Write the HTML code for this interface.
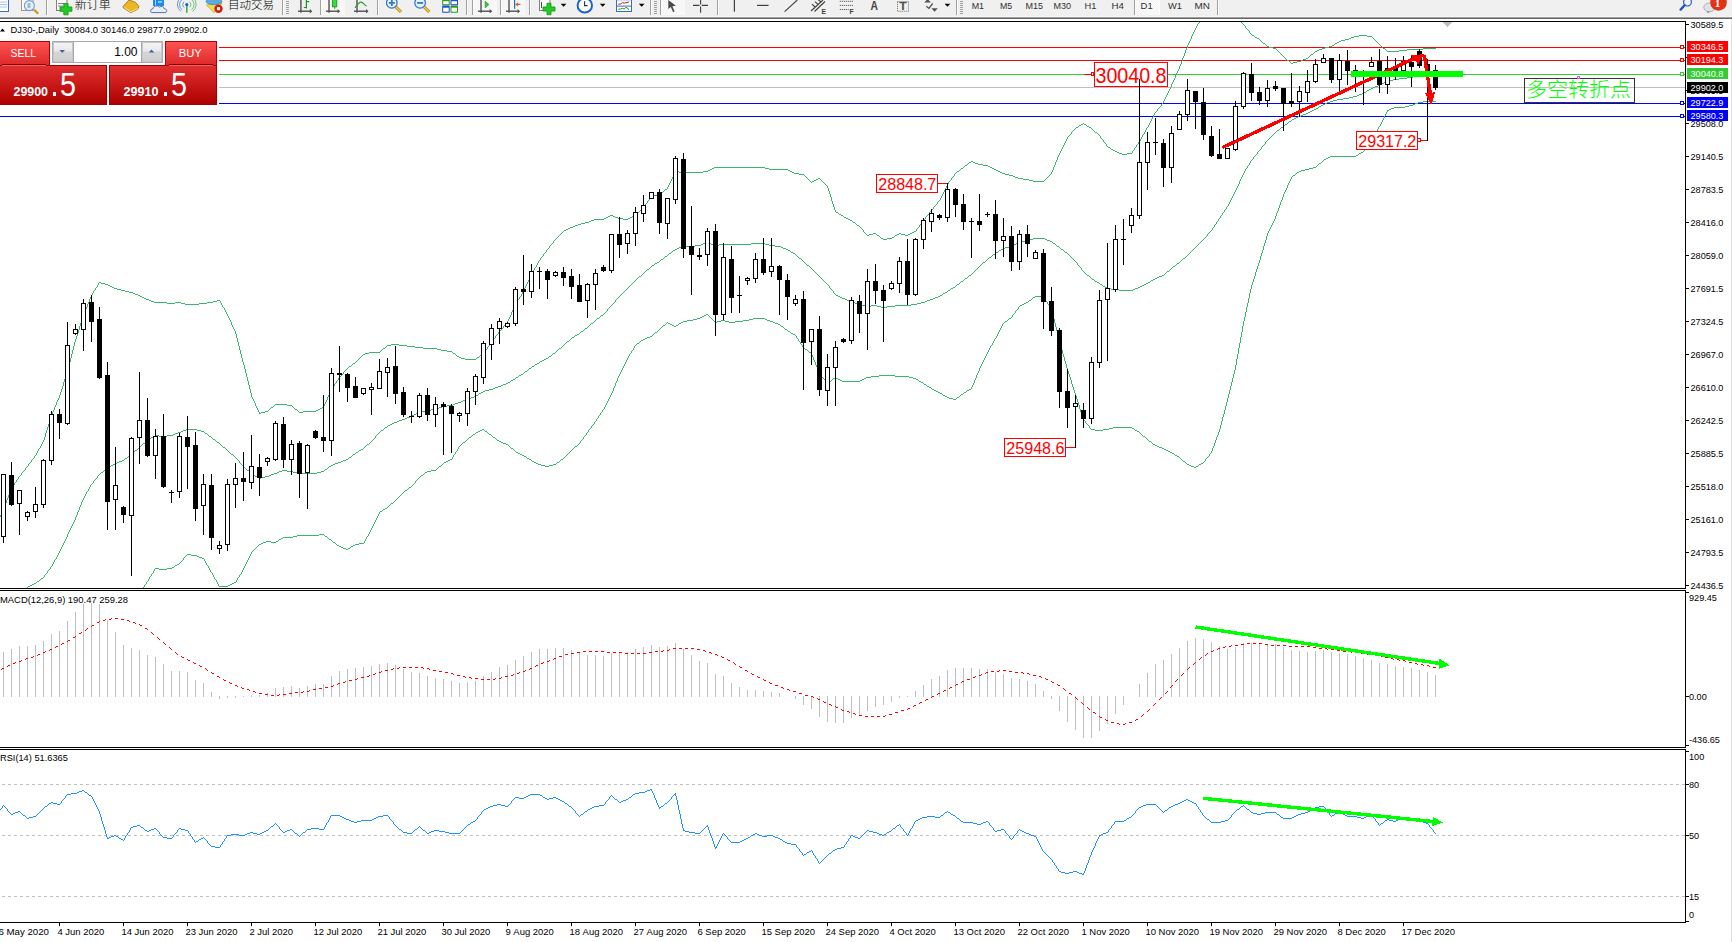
<!DOCTYPE html>
<html><head><meta charset="utf-8"><title>DJ30 Daily</title>
<style>html,body{margin:0;padding:0;background:#fff;overflow:hidden}
body{width:1732px;height:942px;position:relative}
text{font-kerning:none}</style></head>
<body>
<svg width="1732" height="942" viewBox="0 0 1732 942" style="position:absolute;left:0;top:0">
<defs><clipPath id="cm"><rect x="0" y="22" width="1685" height="566"/></clipPath><clipPath id="cmacd"><rect x="0" y="591" width="1685" height="156"/></clipPath><clipPath id="crsi"><rect x="0" y="750" width="1685" height="172"/></clipPath><linearGradient id="gh" x1="0" y1="0" x2="0" y2="1"><stop offset="0" stop-color="#ff5252"/><stop offset="1" stop-color="#dd2a2a"/></linearGradient><linearGradient id="gb" x1="0" y1="0" x2="0" y2="1"><stop offset="0" stop-color="#e03030"/><stop offset="0.5" stop-color="#c81818"/><stop offset="1" stop-color="#ae0000"/></linearGradient><linearGradient id="gs" x1="0" y1="0" x2="0" y2="1"><stop offset="0" stop-color="#f4f4f4"/><stop offset="0.45" stop-color="#e8e8e8"/><stop offset="0.5" stop-color="#d6d6d6"/><stop offset="1" stop-color="#d0d0d0"/></linearGradient><pattern id="chk" width="2" height="2" patternUnits="userSpaceOnUse"><rect width="2" height="2" fill="#f4f4f4"/><rect width="1" height="1" fill="#fbfbfb"/><rect x="1" y="1" width="1" height="1" fill="#fbfbfb"/></pattern></defs>
<rect x="0" y="0" width="1732" height="942" fill="#fff"/>
<rect x="0" y="0" width="1732" height="16" fill="#f0f0f0"/>
<rect x="0" y="16" width="1732" height="1" fill="#f6f6f6"/>
<rect x="0" y="17" width="1732" height="1" fill="#a0a0a0"/>
<rect x="0" y="18" width="1732" height="1" fill="#646464"/>
<rect x="1731" y="19" width="1" height="923" fill="#e3e3e3"/>
<rect x="-2" y="-2" width="10.5" height="13.5" fill="#fff" stroke="#3a70c0" stroke-width="1"/>
<rect x="0" y="1.5" width="7" height="1" fill="#a8c0f0"/>
<rect x="0" y="4" width="7" height="1" fill="#a8c0f0"/>
<rect x="0" y="6.5" width="7" height="1" fill="#a8c0f0"/>
<rect x="21.5" y="-2" width="11.5" height="12.5" fill="#fafafa" stroke="#a09880"/>
<line x1="34" y1="9.6" x2="38.2" y2="13.8" stroke="#c89a18" stroke-width="2.2"/>
<circle cx="29.4" cy="5.6" r="5" fill="#e4f2fc" stroke="#6c9ad8" stroke-width="1.1"/>
<rect x="27.5" y="3" width="3" height="5" fill="#a8b8c8"/>
<rect x="46" y="0" width="1" height="15" fill="#a0a0a0"/><rect x="47" y="0" width="1" height="15" fill="#fcfcfc"/>
<rect x="56.5" y="-2" width="10.5" height="12.5" fill="#fafafa" stroke="#808080"/>
<rect x="58" y="3" width="6" height="1" fill="#808080"/><rect x="58" y="5.5" width="5" height="1" fill="#808080"/>
<path d="M63.8,3.5 h4.3 v3.5 h3.8 v4.3 h-3.8 v3.5 h-4.3 v-3.5 h-3.8 v-4.3 h3.8 z" fill="#22cc22" stroke="#129012" stroke-width="0.8"/>
<text x="74.8" y="8.8" font-family="'Liberation Sans', 'Noto Sans CJK SC', sans-serif" font-size="12px" fill="#000" font-weight="300" textLength="36" lengthAdjust="spacingAndGlyphs">新订单</text>
<polygon points="123,6.6 129,0 135.4,2.3 138.9,6.4 137.7,9.2 130.8,12.7 123.3,7.8" fill="#e8b828" stroke="#a87410" stroke-width="0.9"/>
<path d="M124.5,7.6 L131,12 L137.6,8.4" stroke="#fff2b0" fill="none" stroke-width="0.8"/>
<rect x="153" y="-1" width="11" height="7" fill="#1c8cf0"/><rect x="155" y="-1" width="1" height="7" fill="#a0d0ff"/><rect x="158" y="1.5" width="4" height="1" fill="#fff"/>
<path d="M152,12.6 C150,12.6 150,8.5 153,8.6 C153.5,5.5 158,5 159.5,7.2 C161,5.8 164,6.5 164.2,8.8 C167.5,8.8 167.5,12.6 165,12.6 Z" fill="#e6eef8" stroke="#46659c" stroke-width="0.9"/>
<path d="M186.8,12.7 V4.6" stroke="#22aa22" stroke-width="1.4"/>
<path d="M184,1.8 A3.8,3.8 0 0,0 184,7.4 M182,-0.5 A6.5,6.5 0 0,0 182,9.7 M180.2,-2 A8.8,8.8 0 0,0 181,11.5" stroke="#5a88d8" fill="none" stroke-width="0.9"/>
<path d="M189.6,1.8 A3.8,3.8 0 0,1 189.6,7.4 M191.6,-0.5 A6.5,6.5 0 0,1 191.6,9.7 M193.4,-2 A8.8,8.8 0 0,1 192.6,11.5" stroke="#6ab870" fill="none" stroke-width="0.9"/>
<circle cx="186.8" cy="4.6" r="1.6" fill="#1f5fd0"/>
<polygon points="206.4,5 222,3.2 214,12.7" fill="#f4dc50" stroke="#c0a020" stroke-width="0.7"/>
<ellipse cx="214" cy="1.5" rx="8" ry="3.2" fill="#5aacdc" stroke="#3c7ab0" stroke-width="0.6"/>
<circle cx="218.5" cy="8.7" r="4.2" fill="#d42010"/><rect x="217" y="7.2" width="3" height="3" fill="#fff"/>
<text x="228" y="8.8" font-family="'Liberation Sans', 'Noto Sans CJK SC', sans-serif" font-size="12px" fill="#000" font-weight="300" textLength="46" lengthAdjust="spacingAndGlyphs">自动交易</text>
<rect x="282" y="0" width="1" height="15" fill="#a0a0a0"/><rect x="283" y="0" width="1" height="15" fill="#fcfcfc"/>
<rect x="286" y="1" width="3" height="1" fill="#a0a0a0"/>
<rect x="286" y="3" width="3" height="1" fill="#a0a0a0"/>
<rect x="286" y="5" width="3" height="1" fill="#a0a0a0"/>
<rect x="286" y="7" width="3" height="1" fill="#a0a0a0"/>
<rect x="286" y="9" width="3" height="1" fill="#a0a0a0"/>
<rect x="286" y="11" width="3" height="1" fill="#a0a0a0"/>
<rect x="286" y="13" width="3" height="1" fill="#a0a0a0"/>
<rect x="300.2" y="0" width="1.4" height="12.7" fill="#505050"/>
<rect x="298" y="10.5" width="12.800000000000011" height="1.4" fill="#505050"/>
<polygon points="309.8,8.899999999999999 312.3,11.2 309.8,13.5" fill="#505050"/>
<path d="M306.4,0 V8.6 M306.4,1.6 H309.2 M303.8,7.5 H306.4" stroke="#129a12" stroke-width="1.2" fill="none"/>
<rect x="320" y="0" width="1" height="15" fill="#a0a0a0"/><rect x="321" y="0" width="1" height="15" fill="#fcfcfc"/>
<rect x="322" y="0" width="23" height="15" fill="url(#chk)"/>
<rect x="328.3" y="0" width="1.4" height="12.7" fill="#505050"/>
<rect x="326" y="10.5" width="12.600000000000023" height="1.4" fill="#505050"/>
<polygon points="337.6,8.899999999999999 340.1,11.2 337.6,13.5" fill="#505050"/>
<rect x="332.4" y="-1" width="4.4" height="7.8" fill="#3cdc3c" stroke="#129012" stroke-width="0.8"/><rect x="334.2" y="6.8" width="1" height="2" fill="#129012"/>
<rect x="356.3" y="0" width="1.4" height="12.7" fill="#505050"/>
<rect x="354" y="10.5" width="13" height="1.4" fill="#505050"/>
<polygon points="366,8.899999999999999 368.5,11.2 366,13.5" fill="#505050"/>
<path d="M355,7.8 C357,5 359,2 361.2,2.1 C363,2.2 364.5,5.5 366.7,6.2" stroke="#22a022" stroke-width="1.1" fill="none"/>
<rect x="377" y="0" width="1" height="15" fill="#a0a0a0"/><rect x="378" y="0" width="1" height="15" fill="#fcfcfc"/>
<line x1="395.8" y1="7" x2="401.0" y2="12" stroke="#a87a10" stroke-width="3"/>
<line x1="395.8" y1="7" x2="401.0" y2="12" stroke="#ecd040" stroke-width="1.6"/>
<circle cx="391.8" cy="2.9" r="5.3" fill="#dff2fc" stroke="#2f6fc0" stroke-width="1.2"/>
<rect x="388.8" y="2" width="6" height="1.8" fill="#3c7ab0"/>
<rect x="390.90000000000003" y="0" width="1.8" height="6" fill="#3c7ab0"/>
<line x1="424.1" y1="7" x2="429.3" y2="12" stroke="#a87a10" stroke-width="3"/>
<line x1="424.1" y1="7" x2="429.3" y2="12" stroke="#ecd040" stroke-width="1.6"/>
<circle cx="420.1" cy="2.9" r="5.3" fill="#dff2fc" stroke="#2f6fc0" stroke-width="1.2"/>
<rect x="417.1" y="2" width="6" height="1.8" fill="#3c7ab0"/>
<rect x="442.2" y="-1" width="7.5" height="6.2" fill="#2a9a1a" rx="0.6"/>
<rect x="443.2" y="1.2000000000000002" width="5.5" height="3" fill="#fff"/>
<rect x="450.5" y="-1" width="7.5" height="6.2" fill="#1f4fd0" rx="0.6"/>
<rect x="451.5" y="1.2000000000000002" width="5.5" height="3" fill="#fff"/>
<rect x="442.2" y="5.5" width="7.5" height="7.2" fill="#1f4fd0" rx="0.6"/>
<rect x="443.2" y="7.7" width="5.5" height="4" fill="#fff"/>
<rect x="450.5" y="5.5" width="7.5" height="7.2" fill="#2a9a1a" rx="0.6"/>
<rect x="451.5" y="7.7" width="5.5" height="4" fill="#fff"/>
<rect x="466" y="0" width="1" height="15" fill="#a0a0a0"/><rect x="467" y="0" width="1" height="15" fill="#fcfcfc"/>
<rect x="472" y="0" width="1" height="15" fill="#a0a0a0"/><rect x="473" y="0" width="1" height="15" fill="#fcfcfc"/>
<rect x="474" y="0" width="23" height="15" fill="url(#chk)"/>
<rect x="480.3" y="0" width="1.4" height="12.7" fill="#505050"/>
<rect x="478" y="10.5" width="12.699999999999989" height="1.4" fill="#505050"/>
<polygon points="489.7,8.899999999999999 492.2,11.2 489.7,13.5" fill="#505050"/>
<polygon points="485.2,1.3 488.8,4.4 485.2,7.8" fill="#3cc83c" stroke="#129a12" stroke-width="0.7"/>
<rect x="500" y="0" width="1" height="15" fill="#a0a0a0"/><rect x="501" y="0" width="1" height="15" fill="#fcfcfc"/>
<rect x="502" y="0" width="23" height="15" fill="url(#chk)"/>
<rect x="508.3" y="0" width="1.4" height="12.7" fill="#505050"/>
<rect x="506" y="10.5" width="12.600000000000023" height="1.4" fill="#505050"/>
<polygon points="517.6,8.899999999999999 520.1,11.2 517.6,13.5" fill="#505050"/>
<rect x="514" y="0" width="1.2" height="8.8" fill="#1f6fb0"/>
<polygon points="515.2,4.4 518,2.2 518,3.7 520.5,3.7 520.5,5.1 518,5.1 518,6.6" fill="#e85a10"/>
<rect x="529" y="0" width="1" height="15" fill="#a0a0a0"/><rect x="530" y="0" width="1" height="15" fill="#fcfcfc"/>
<rect x="539.5" y="-2" width="10.5" height="12.5" fill="#fafafa" stroke="#808080"/>
<rect x="541" y="2" width="1" height="6" fill="#505050"/>
<path d="M547,3.3 h4 v3.7 h4 v4 h-4 v3.7 h-4 v-3.7 h-4 v-4 h4 z" fill="#22cc22" stroke="#129012" stroke-width="0.8"/>
<polygon points="560.7,3.8 566.4000000000001,3.8 563.5500000000001,6.8" fill="#000"/>
<circle cx="584.8" cy="5.4" r="7.2" fill="#fff" stroke="#1a64c8" stroke-width="2"/>
<path d="M584.6,1.2 V5.6 H587.6" stroke="#303030" stroke-width="1.1" fill="none"/>
<polygon points="599.8,3.8 605.5,3.8 602.65,6.8" fill="#000"/>
<rect x="616.5" y="-1" width="15" height="12.5" fill="#fff" stroke="#3a6cc0" stroke-width="1"/>
<rect x="617" y="0" width="14" height="1.3" fill="#cfe0f8"/><rect x="617" y="5.6" width="14" height="1" fill="#3a6cc0"/>
<path d="M618.3,4.2 L620.5,4 L622.5,2.6 L624.2,3.2 L626,2.8 L629,2" stroke="#b02818" stroke-width="1" fill="none"/>
<path d="M618.3,9.3 L620.5,9 L622.5,8.2 L624.2,9 L626,7.2 L629,9.5" stroke="#18a018" stroke-width="1" fill="none"/>
<polygon points="638.8,3.8 644.5,3.8 641.65,6.8" fill="#000"/>
<rect x="650" y="0" width="1" height="15" fill="#a0a0a0"/><rect x="651" y="0" width="1" height="15" fill="#fcfcfc"/>
<rect x="654" y="1" width="3" height="1" fill="#a0a0a0"/>
<rect x="654" y="3" width="3" height="1" fill="#a0a0a0"/>
<rect x="654" y="5" width="3" height="1" fill="#a0a0a0"/>
<rect x="654" y="7" width="3" height="1" fill="#a0a0a0"/>
<rect x="654" y="9" width="3" height="1" fill="#a0a0a0"/>
<rect x="654" y="11" width="3" height="1" fill="#a0a0a0"/>
<rect x="654" y="13" width="3" height="1" fill="#a0a0a0"/>
<rect x="660" y="0" width="1" height="15" fill="#a0a0a0"/><rect x="661" y="0" width="1" height="15" fill="#fcfcfc"/>
<rect x="662" y="0" width="23" height="15" fill="url(#chk)"/>
<polygon points="668.3,0 675.9,5.7 672.4,6.3 674.6,11.4 673,12 670.8,7 668.3,8.9" fill="#4a4a4a"/>
<path d="M693,5.4 H699.5 M701.7,5.4 H708 M700.6,0 V4.4 M700.6,6.5 V12.7" stroke="#404040" stroke-width="1.1" fill="none"/>
<rect x="717" y="0" width="1" height="15" fill="#a0a0a0"/><rect x="718" y="0" width="1" height="15" fill="#fcfcfc"/>
<rect x="733.8" y="0" width="1.2" height="11.7" fill="#404040"/>
<rect x="757" y="4.8" width="11.6" height="1.2" fill="#404040"/>
<line x1="784.6" y1="11.7" x2="797.3" y2="0" stroke="#404040" stroke-width="1.1"/>
<path d="M811,11 L823,0 M814.5,11.5 L825,1.5 M812,4.2 L815,7 M815,1.6 L818,4.4 M818,-0.5 L821,2" stroke="#404040" stroke-width="1.1" fill="none"/>
<text x="821.6" y="13.9" font-family="'Liberation Sans', Arial, sans-serif" font-size="6.8px" fill="#404040" font-weight="bold">E</text>
<path d="M839.8,1.3 H853 M839.8,5.4 H853 M839.8,9.5 H848.6" stroke="#404040" stroke-width="1" stroke-dasharray="1 1" fill="none"/>
<text x="849.6" y="13.9" font-family="'Liberation Sans', Arial, sans-serif" font-size="6.8px" fill="#404040" font-weight="bold">F</text>
<text x="870.6" y="9.8" font-family="'Liberation Sans', Arial, sans-serif" font-size="12px" fill="#404040" font-weight="bold" textLength="7.4" lengthAdjust="spacingAndGlyphs">A</text>
<rect x="897.5" y="1.5" width="11" height="9.8" fill="none" stroke="#505050" stroke-width="0.9" stroke-dasharray="0.9 1.1"/>
<text x="899.2" y="9.9" font-family="'Liberation Sans', Arial, sans-serif" font-size="10.5px" fill="#505050" font-weight="bold" textLength="7.4" lengthAdjust="spacingAndGlyphs">T</text>
<polygon points="924.3,2.5 927.6,-1 930.9,2.5" fill="#505050"/>
<path d="M926.3,6.3 L928.9,8.3 L932.7,3.5" stroke="#505050" stroke-width="1.3" fill="none"/>
<polygon points="931.4,8.3 937.8,8.3 934.6,11.7" fill="#505050"/>
<polygon points="944.6,3.8 950.3000000000001,3.8 947.45,6.8" fill="#000"/>
<rect x="956" y="0" width="1" height="15" fill="#a0a0a0"/><rect x="957" y="0" width="1" height="15" fill="#fcfcfc"/>
<rect x="960" y="1" width="3" height="1" fill="#a0a0a0"/>
<rect x="960" y="3" width="3" height="1" fill="#a0a0a0"/>
<rect x="960" y="5" width="3" height="1" fill="#a0a0a0"/>
<rect x="960" y="7" width="3" height="1" fill="#a0a0a0"/>
<rect x="960" y="9" width="3" height="1" fill="#a0a0a0"/>
<rect x="960" y="11" width="3" height="1" fill="#a0a0a0"/>
<rect x="960" y="13" width="3" height="1" fill="#a0a0a0"/>
<text x="971.7" y="8.9" font-family="'Liberation Sans', Arial, sans-serif" font-size="9.4px" fill="#303030" textLength="12.4" lengthAdjust="spacingAndGlyphs">M1</text>
<text x="999.9" y="8.9" font-family="'Liberation Sans', Arial, sans-serif" font-size="9.4px" fill="#303030" textLength="12.2" lengthAdjust="spacingAndGlyphs">M5</text>
<text x="1025.5" y="8.9" font-family="'Liberation Sans', Arial, sans-serif" font-size="9.4px" fill="#303030" textLength="17.5" lengthAdjust="spacingAndGlyphs">M15</text>
<text x="1053.5" y="8.9" font-family="'Liberation Sans', Arial, sans-serif" font-size="9.4px" fill="#303030" textLength="17.5" lengthAdjust="spacingAndGlyphs">M30</text>
<text x="1084.6" y="8.9" font-family="'Liberation Sans', Arial, sans-serif" font-size="9.4px" fill="#303030" textLength="11.9" lengthAdjust="spacingAndGlyphs">H1</text>
<text x="1111.6" y="8.9" font-family="'Liberation Sans', Arial, sans-serif" font-size="9.4px" fill="#303030" textLength="12.4" lengthAdjust="spacingAndGlyphs">H4</text>
<text x="1168" y="8.9" font-family="'Liberation Sans', Arial, sans-serif" font-size="9.4px" fill="#303030" textLength="14" lengthAdjust="spacingAndGlyphs">W1</text>
<text x="1194.6" y="8.9" font-family="'Liberation Sans', Arial, sans-serif" font-size="9.4px" fill="#303030" textLength="15.4" lengthAdjust="spacingAndGlyphs">MN</text>
<rect x="1134" y="0" width="1" height="15" fill="#a0a0a0"/><rect x="1135" y="0" width="1" height="15" fill="#fcfcfc"/>
<rect x="1136" y="0" width="23" height="15" fill="url(#chk)"/>
<rect x="1159" y="0" width="1" height="15" fill="#fcfcfc"/>
<text x="1140.6" y="8.9" font-family="'Liberation Sans', Arial, sans-serif" font-size="9.4px" fill="#303030" textLength="12.1" lengthAdjust="spacingAndGlyphs">D1</text>
<rect x="1217" y="0" width="1" height="15" fill="#a0a0a0"/><rect x="1218" y="0" width="1" height="15" fill="#fcfcfc"/>
<circle cx="1687.5" cy="2.1" r="3.9" fill="#f4f4ff" stroke="#2060d0" stroke-width="1.2"/>
<line x1="1684.6" y1="5.2" x2="1680.6" y2="9.6" stroke="#1f55c8" stroke-width="2.4" stroke-linecap="round"/>
<ellipse cx="1709.4" cy="7.4" rx="5.6" ry="4.4" fill="#e0e2ea" stroke="#a8a8a8" stroke-width="0.9"/>
<polygon points="1707,11 1707.6,13.4 1710,11.4" fill="#909090"/>
<circle cx="1718.5" cy="2.4" r="8.3" fill="#de3418"/>
<text x="1714.8" y="6.6" font-family="'Liberation Serif', serif" font-size="10px" fill="#fff" font-weight="bold" textLength="5.6" lengthAdjust="spacingAndGlyphs">1</text>
<rect x="0" y="21" width="1686" height="1" fill="#000"/>
<rect x="1685" y="21" width="1" height="568" fill="#000"/>
<rect x="0" y="588" width="1686" height="1" fill="#000"/>
<rect x="0" y="590" width="1686" height="1" fill="#000"/>
<rect x="1685" y="590" width="1" height="158" fill="#000"/>
<rect x="0" y="747" width="1686" height="1" fill="#000"/>
<rect x="0" y="749" width="1686" height="1" fill="#000"/>
<rect x="1685" y="749" width="1" height="174" fill="#000"/>
<rect x="0" y="922" width="1686" height="1" fill="#000"/>
<rect x="1686" y="24" width="3" height="1" fill="#000"/>
<text transform="translate(1690.5,28) scale(0.917,1)" font-family="'Liberation Sans', Arial, sans-serif" font-size="9.95px" fill="#000" >30589.5</text>
<rect x="1686" y="57" width="3" height="1" fill="#000"/>
<text transform="translate(1690.5,61) scale(0.917,1)" font-family="'Liberation Sans', Arial, sans-serif" font-size="9.95px" fill="#000" >30226.0</text>
<rect x="1686" y="90" width="3" height="1" fill="#000"/>
<text transform="translate(1690.5,94) scale(0.917,1)" font-family="'Liberation Sans', Arial, sans-serif" font-size="9.95px" fill="#000" >29865.5</text>
<rect x="1686" y="123" width="3" height="1" fill="#000"/>
<text transform="translate(1690.5,127) scale(0.917,1)" font-family="'Liberation Sans', Arial, sans-serif" font-size="9.95px" fill="#000" >29508.0</text>
<rect x="1686" y="156" width="3" height="1" fill="#000"/>
<text transform="translate(1690.5,160) scale(0.917,1)" font-family="'Liberation Sans', Arial, sans-serif" font-size="9.95px" fill="#000" >29140.5</text>
<rect x="1686" y="189" width="3" height="1" fill="#000"/>
<text transform="translate(1690.5,193) scale(0.917,1)" font-family="'Liberation Sans', Arial, sans-serif" font-size="9.95px" fill="#000" >28783.5</text>
<rect x="1686" y="222" width="3" height="1" fill="#000"/>
<text transform="translate(1690.5,226) scale(0.917,1)" font-family="'Liberation Sans', Arial, sans-serif" font-size="9.95px" fill="#000" >28416.0</text>
<rect x="1686" y="255" width="3" height="1" fill="#000"/>
<text transform="translate(1690.5,259) scale(0.917,1)" font-family="'Liberation Sans', Arial, sans-serif" font-size="9.95px" fill="#000" >28059.0</text>
<rect x="1686" y="288" width="3" height="1" fill="#000"/>
<text transform="translate(1690.5,292) scale(0.917,1)" font-family="'Liberation Sans', Arial, sans-serif" font-size="9.95px" fill="#000" >27691.5</text>
<rect x="1686" y="321" width="3" height="1" fill="#000"/>
<text transform="translate(1690.5,325) scale(0.917,1)" font-family="'Liberation Sans', Arial, sans-serif" font-size="9.95px" fill="#000" >27324.5</text>
<rect x="1686" y="354" width="3" height="1" fill="#000"/>
<text transform="translate(1690.5,358) scale(0.917,1)" font-family="'Liberation Sans', Arial, sans-serif" font-size="9.95px" fill="#000" >26967.0</text>
<rect x="1686" y="387" width="3" height="1" fill="#000"/>
<text transform="translate(1690.5,391) scale(0.917,1)" font-family="'Liberation Sans', Arial, sans-serif" font-size="9.95px" fill="#000" >26610.0</text>
<rect x="1686" y="420" width="3" height="1" fill="#000"/>
<text transform="translate(1690.5,424) scale(0.917,1)" font-family="'Liberation Sans', Arial, sans-serif" font-size="9.95px" fill="#000" >26242.5</text>
<rect x="1686" y="453" width="3" height="1" fill="#000"/>
<text transform="translate(1690.5,457) scale(0.917,1)" font-family="'Liberation Sans', Arial, sans-serif" font-size="9.95px" fill="#000" >25885.5</text>
<rect x="1686" y="486" width="3" height="1" fill="#000"/>
<text transform="translate(1690.5,490) scale(0.917,1)" font-family="'Liberation Sans', Arial, sans-serif" font-size="9.95px" fill="#000" >25518.0</text>
<rect x="1686" y="519" width="3" height="1" fill="#000"/>
<text transform="translate(1690.5,523) scale(0.917,1)" font-family="'Liberation Sans', Arial, sans-serif" font-size="9.95px" fill="#000" >25161.0</text>
<rect x="1686" y="552" width="3" height="1" fill="#000"/>
<text transform="translate(1690.5,556) scale(0.917,1)" font-family="'Liberation Sans', Arial, sans-serif" font-size="9.95px" fill="#000" >24793.5</text>
<rect x="1686" y="585" width="3" height="1" fill="#000"/>
<text transform="translate(1690.5,589) scale(0.917,1)" font-family="'Liberation Sans', Arial, sans-serif" font-size="9.95px" fill="#000" >24436.5</text>
<rect x="1686" y="592" width="3" height="1" fill="#000"/>
<text transform="translate(1689,601) scale(0.917,1)" font-family="'Liberation Sans', Arial, sans-serif" font-size="9.95px" fill="#000" >929.45</text>
<rect x="1686" y="696" width="3" height="1" fill="#000"/>
<text transform="translate(1689,700) scale(0.917,1)" font-family="'Liberation Sans', Arial, sans-serif" font-size="9.95px" fill="#000" >0.00</text>
<rect x="1686" y="745" width="3" height="1" fill="#000"/>
<text transform="translate(1689,743) scale(0.917,1)" font-family="'Liberation Sans', Arial, sans-serif" font-size="9.95px" fill="#000" >-436.65</text>
<rect x="1686" y="751" width="3" height="1" fill="#000"/>
<text transform="translate(1689,760) scale(0.917,1)" font-family="'Liberation Sans', Arial, sans-serif" font-size="9.95px" fill="#000" >100</text>
<rect x="1686" y="784" width="3" height="1" fill="#000"/>
<text transform="translate(1689,788) scale(0.917,1)" font-family="'Liberation Sans', Arial, sans-serif" font-size="9.95px" fill="#000" >80</text>
<rect x="1686" y="835" width="3" height="1" fill="#000"/>
<text transform="translate(1689,839) scale(0.917,1)" font-family="'Liberation Sans', Arial, sans-serif" font-size="9.95px" fill="#000" >50</text>
<rect x="1686" y="896" width="3" height="1" fill="#000"/>
<text transform="translate(1689,900) scale(0.917,1)" font-family="'Liberation Sans', Arial, sans-serif" font-size="9.95px" fill="#000" >15</text>
<rect x="1686" y="921" width="3" height="1" fill="#000"/>
<text transform="translate(1689,918) scale(0.917,1)" font-family="'Liberation Sans', Arial, sans-serif" font-size="9.95px" fill="#000" >0</text>
<text transform="translate(-7,935) scale(0.975,1)" font-family="'Liberation Sans', Arial, sans-serif" font-size="9.95px" fill="#000" >26 May 2020</text>
<rect x="59" y="923" width="1" height="3" fill="#000"/>
<text transform="translate(57.5,935) scale(0.95,1)" font-family="'Liberation Sans', Arial, sans-serif" font-size="9.95px" fill="#000" >4 Jun 2020</text>
<rect x="123" y="923" width="1" height="3" fill="#000"/>
<text transform="translate(121.5,935) scale(0.95,1)" font-family="'Liberation Sans', Arial, sans-serif" font-size="9.95px" fill="#000" >14 Jun 2020</text>
<rect x="187" y="923" width="1" height="3" fill="#000"/>
<text transform="translate(185.5,935) scale(0.95,1)" font-family="'Liberation Sans', Arial, sans-serif" font-size="9.95px" fill="#000" >23 Jun 2020</text>
<rect x="251" y="923" width="1" height="3" fill="#000"/>
<text transform="translate(249.5,935) scale(0.95,1)" font-family="'Liberation Sans', Arial, sans-serif" font-size="9.95px" fill="#000" >2 Jul 2020</text>
<rect x="315" y="923" width="1" height="3" fill="#000"/>
<text transform="translate(313.5,935) scale(0.95,1)" font-family="'Liberation Sans', Arial, sans-serif" font-size="9.95px" fill="#000" >12 Jul 2020</text>
<rect x="379" y="923" width="1" height="3" fill="#000"/>
<text transform="translate(377.5,935) scale(0.95,1)" font-family="'Liberation Sans', Arial, sans-serif" font-size="9.95px" fill="#000" >21 Jul 2020</text>
<rect x="443" y="923" width="1" height="3" fill="#000"/>
<text transform="translate(441.5,935) scale(0.95,1)" font-family="'Liberation Sans', Arial, sans-serif" font-size="9.95px" fill="#000" >30 Jul 2020</text>
<rect x="507" y="923" width="1" height="3" fill="#000"/>
<text transform="translate(505.5,935) scale(0.95,1)" font-family="'Liberation Sans', Arial, sans-serif" font-size="9.95px" fill="#000" >9 Aug 2020</text>
<rect x="571" y="923" width="1" height="3" fill="#000"/>
<text transform="translate(569.5,935) scale(0.95,1)" font-family="'Liberation Sans', Arial, sans-serif" font-size="9.95px" fill="#000" >18 Aug 2020</text>
<rect x="635" y="923" width="1" height="3" fill="#000"/>
<text transform="translate(633.5,935) scale(0.95,1)" font-family="'Liberation Sans', Arial, sans-serif" font-size="9.95px" fill="#000" >27 Aug 2020</text>
<rect x="699" y="923" width="1" height="3" fill="#000"/>
<text transform="translate(697.5,935) scale(0.95,1)" font-family="'Liberation Sans', Arial, sans-serif" font-size="9.95px" fill="#000" >6 Sep 2020</text>
<rect x="763" y="923" width="1" height="3" fill="#000"/>
<text transform="translate(761.5,935) scale(0.95,1)" font-family="'Liberation Sans', Arial, sans-serif" font-size="9.95px" fill="#000" >15 Sep 2020</text>
<rect x="827" y="923" width="1" height="3" fill="#000"/>
<text transform="translate(825.5,935) scale(0.95,1)" font-family="'Liberation Sans', Arial, sans-serif" font-size="9.95px" fill="#000" >24 Sep 2020</text>
<rect x="891" y="923" width="1" height="3" fill="#000"/>
<text transform="translate(889.5,935) scale(0.95,1)" font-family="'Liberation Sans', Arial, sans-serif" font-size="9.95px" fill="#000" >4 Oct 2020</text>
<rect x="955" y="923" width="1" height="3" fill="#000"/>
<text transform="translate(953.5,935) scale(0.95,1)" font-family="'Liberation Sans', Arial, sans-serif" font-size="9.95px" fill="#000" >13 Oct 2020</text>
<rect x="1019" y="923" width="1" height="3" fill="#000"/>
<text transform="translate(1017.5,935) scale(0.95,1)" font-family="'Liberation Sans', Arial, sans-serif" font-size="9.95px" fill="#000" >22 Oct 2020</text>
<rect x="1083" y="923" width="1" height="3" fill="#000"/>
<text transform="translate(1081.5,935) scale(0.95,1)" font-family="'Liberation Sans', Arial, sans-serif" font-size="9.95px" fill="#000" >1 Nov 2020</text>
<rect x="1147" y="923" width="1" height="3" fill="#000"/>
<text transform="translate(1145.5,935) scale(0.95,1)" font-family="'Liberation Sans', Arial, sans-serif" font-size="9.95px" fill="#000" >10 Nov 2020</text>
<rect x="1211" y="923" width="1" height="3" fill="#000"/>
<text transform="translate(1209.5,935) scale(0.95,1)" font-family="'Liberation Sans', Arial, sans-serif" font-size="9.95px" fill="#000" >19 Nov 2020</text>
<rect x="1275" y="923" width="1" height="3" fill="#000"/>
<text transform="translate(1273.5,935) scale(0.95,1)" font-family="'Liberation Sans', Arial, sans-serif" font-size="9.95px" fill="#000" >29 Nov 2020</text>
<rect x="1339" y="923" width="1" height="3" fill="#000"/>
<text transform="translate(1337.5,935) scale(0.95,1)" font-family="'Liberation Sans', Arial, sans-serif" font-size="9.95px" fill="#000" >8 Dec 2020</text>
<rect x="1403" y="923" width="1" height="3" fill="#000"/>
<text transform="translate(1401.5,935) scale(0.95,1)" font-family="'Liberation Sans', Arial, sans-serif" font-size="9.95px" fill="#000" >17 Dec 2020</text>
<g clip-path="url(#cm)" shape-rendering="crispEdges">
<rect x="0" y="47" width="1685" height="1" fill="#ff0000"/>
<rect x="0" y="60" width="1685" height="1" fill="#ff0000"/>
<rect x="0" y="74" width="1685" height="1" fill="#32cd32"/>
<rect x="0" y="87" width="1685" height="1" fill="#c0c0c0"/>
<rect x="0" y="103" width="1685" height="1" fill="#0000ff"/>
<rect x="0" y="116" width="1685" height="1" fill="#0000ff"/>
<rect x="1680.5" y="45.5" width="3" height="3" fill="#fff" stroke="#ff0000" stroke-width="1"/>
<rect x="1680.5" y="58.5" width="3" height="3" fill="#fff" stroke="#ff0000" stroke-width="1"/>
<rect x="1680.5" y="72.5" width="3" height="3" fill="#fff" stroke="#32cd32" stroke-width="1"/>
<rect x="1680.5" y="101.5" width="3" height="3" fill="#fff" stroke="#0000ff" stroke-width="1"/>
<rect x="1680.5" y="114.5" width="3" height="3" fill="#fff" stroke="#0000ff" stroke-width="1"/>
<path d="M1199 22h1v1h-1zM1241 22h1v1h-1zM1198 23h1v1h-1zM1242 23h1v1h-1zM1197 24h1v1h-1zM1243 24h1v1h-1zM1197 25h1v1h-1zM1244 25h1v1h-1zM1196 26h1v1h-1zM1245 26h1v1h-1zM1196 27h1v1h-1zM1245 27h1v1h-1zM1195 28h1v1h-1zM1246 28h1v1h-1zM1195 29h1v1h-1zM1247 29h1v1h-1zM1194 30h1v1h-1zM1248 30h1v1h-1zM1194 31h1v1h-1zM1249 31h1v1h-1zM1193 32h1v1h-1zM1249 32h1v1h-1zM1193 33h1v1h-1zM1250 33h1v1h-1zM1192 34h1v1h-1zM1251 34h1v1h-1zM1192 35h1v1h-1zM1252 35h2v1h-2zM1359 35h8v1h-8zM1191 36h1v1h-1zM1254 36h1v1h-1zM1354 36h5v1h-5zM1367 36h5v1h-5zM1191 37h1v1h-1zM1255 37h2v1h-2zM1351 37h3v1h-3zM1372 37h1v1h-1zM1191 38h1v1h-1zM1257 38h2v1h-2zM1349 38h2v1h-2zM1373 38h1v1h-1zM1190 39h1v1h-1zM1259 39h1v1h-1zM1345 39h4v1h-4zM1374 39h1v1h-1zM1190 40h1v1h-1zM1260 40h1v1h-1zM1341 40h4v1h-4zM1375 40h1v1h-1zM1189 41h1v1h-1zM1261 41h1v1h-1zM1339 41h2v1h-2zM1376 41h1v1h-1zM1189 42h1v1h-1zM1262 42h1v1h-1zM1337 42h2v1h-2zM1377 42h1v1h-1zM1188 43h1v1h-1zM1263 43h2v1h-2zM1335 43h2v1h-2zM1378 43h1v1h-1zM1188 44h1v1h-1zM1265 44h1v1h-1zM1334 44h1v1h-1zM1379 44h1v1h-1zM1187 45h1v1h-1zM1266 45h1v1h-1zM1332 45h2v1h-2zM1380 45h1v1h-1zM1187 46h1v1h-1zM1267 46h2v1h-2zM1329 46h3v1h-3zM1381 46h1v1h-1zM1187 47h1v1h-1zM1269 47h4v1h-4zM1325 47h4v1h-4zM1382 47h1v1h-1zM1186 48h1v1h-1zM1273 48h3v1h-3zM1322 48h3v1h-3zM1383 48h2v1h-2zM1423 48h13v1h-13zM1186 49h1v1h-1zM1276 49h1v1h-1zM1319 49h3v1h-3zM1385 49h1v1h-1zM1407 49h16v1h-16zM1185 50h1v1h-1zM1277 50h1v1h-1zM1317 50h2v1h-2zM1386 50h1v1h-1zM1399 50h8v1h-8zM1185 51h1v1h-1zM1278 51h1v1h-1zM1315 51h2v1h-2zM1387 51h12v1h-12zM1185 52h1v1h-1zM1279 52h1v1h-1zM1314 52h1v1h-1zM1184 53h1v1h-1zM1280 53h1v1h-1zM1313 53h1v1h-1zM1184 54h1v1h-1zM1281 54h1v1h-1zM1311 54h2v1h-2zM1184 55h1v1h-1zM1282 55h1v1h-1zM1310 55h1v1h-1zM1183 56h1v1h-1zM1283 56h1v1h-1zM1309 56h1v1h-1zM1183 57h1v1h-1zM1284 57h1v1h-1zM1308 57h1v1h-1zM1182 58h1v1h-1zM1285 58h1v1h-1zM1306 58h2v1h-2zM1182 59h1v1h-1zM1286 59h1v1h-1zM1303 59h3v1h-3zM1182 60h1v1h-1zM1287 60h2v1h-2zM1301 60h2v1h-2zM1181 61h1v1h-1zM1289 61h1v1h-1zM1297 61h4v1h-4zM1181 62h1v1h-1zM1290 62h1v1h-1zM1293 62h4v1h-4zM1181 63h1v1h-1zM1291 63h2v1h-2zM1180 64h1v1h-1zM1180 65h1v1h-1zM1179 66h1v1h-1zM1179 67h1v1h-1zM1179 68h1v1h-1zM1178 69h1v1h-1zM1178 70h1v1h-1zM1177 71h1v1h-1zM1177 72h1v1h-1zM1176 73h1v1h-1zM1176 74h1v1h-1zM1175 75h1v1h-1zM1175 76h1v1h-1zM1175 77h1v1h-1zM1174 78h1v1h-1zM1174 79h1v1h-1zM1173 80h1v1h-1zM1173 81h1v1h-1zM1172 82h1v1h-1zM1172 83h1v1h-1zM1171 84h1v1h-1zM1171 85h1v1h-1zM1171 86h1v1h-1zM1170 87h1v1h-1zM1170 88h1v1h-1zM1169 89h1v1h-1zM1169 90h1v1h-1zM1168 91h1v1h-1zM1168 92h1v1h-1zM1167 93h1v1h-1zM1167 94h1v1h-1zM1166 95h1v1h-1zM1166 96h1v1h-1zM1165 97h1v1h-1zM1165 98h1v1h-1zM1164 99h1v1h-1zM1164 100h1v1h-1zM1163 101h1v1h-1zM1163 102h1v1h-1zM1162 103h1v1h-1zM1161 104h1v1h-1zM1161 105h1v1h-1zM1160 106h1v1h-1zM1159 107h1v1h-1zM1158 108h1v1h-1zM1157 109h1v1h-1zM1157 110h1v1h-1zM1156 111h1v1h-1zM1155 112h1v1h-1zM1154 113h1v1h-1zM1154 114h1v1h-1zM1153 115h1v1h-1zM1153 116h1v1h-1zM1152 117h1v1h-1zM1152 118h1v1h-1zM1151 119h1v1h-1zM1151 120h1v1h-1zM1150 121h1v1h-1zM1150 122h1v1h-1zM1083 123h1v1h-1zM1149 123h1v1h-1zM1081 124h2v1h-2zM1084 124h2v1h-2zM1149 124h1v1h-1zM1079 125h2v1h-2zM1086 125h1v1h-1zM1148 125h1v1h-1zM1078 126h1v1h-1zM1087 126h2v1h-2zM1148 126h1v1h-1zM1076 127h2v1h-2zM1089 127h2v1h-2zM1147 127h1v1h-1zM1075 128h1v1h-1zM1091 128h1v1h-1zM1146 128h1v1h-1zM1074 129h1v1h-1zM1092 129h1v1h-1zM1146 129h1v1h-1zM1073 130h1v1h-1zM1093 130h1v1h-1zM1145 130h1v1h-1zM1072 131h1v1h-1zM1094 131h1v1h-1zM1145 131h1v1h-1zM1071 132h1v1h-1zM1095 132h2v1h-2zM1144 132h1v1h-1zM1071 133h1v1h-1zM1097 133h1v1h-1zM1144 133h1v1h-1zM1070 134h1v1h-1zM1098 134h1v1h-1zM1143 134h1v1h-1zM1069 135h1v1h-1zM1099 135h1v1h-1zM1142 135h1v1h-1zM1068 136h1v1h-1zM1100 136h1v1h-1zM1142 136h1v1h-1zM1067 137h1v1h-1zM1100 137h1v1h-1zM1141 137h1v1h-1zM1067 138h1v1h-1zM1101 138h1v1h-1zM1141 138h1v1h-1zM1066 139h1v1h-1zM1102 139h1v1h-1zM1140 139h1v1h-1zM1066 140h1v1h-1zM1103 140h1v1h-1zM1140 140h1v1h-1zM1065 141h1v1h-1zM1103 141h1v1h-1zM1139 141h1v1h-1zM1065 142h1v1h-1zM1104 142h1v1h-1zM1138 142h1v1h-1zM1064 143h1v1h-1zM1105 143h1v1h-1zM1138 143h1v1h-1zM1064 144h1v1h-1zM1106 144h1v1h-1zM1137 144h1v1h-1zM1063 145h1v1h-1zM1106 145h1v1h-1zM1136 145h1v1h-1zM1063 146h1v1h-1zM1107 146h1v1h-1zM1136 146h1v1h-1zM1062 147h1v1h-1zM1108 147h2v1h-2zM1135 147h1v1h-1zM1062 148h1v1h-1zM1110 148h1v1h-1zM1134 148h1v1h-1zM1061 149h1v1h-1zM1111 149h2v1h-2zM1134 149h1v1h-1zM1061 150h1v1h-1zM1113 150h2v1h-2zM1133 150h1v1h-1zM1060 151h1v1h-1zM1115 151h2v1h-2zM1132 151h1v1h-1zM1060 152h1v1h-1zM1117 152h2v1h-2zM1132 152h1v1h-1zM1059 153h1v1h-1zM1119 153h3v1h-3zM1127 153h5v1h-5zM1059 154h1v1h-1zM1122 154h5v1h-5zM1058 155h1v1h-1zM1058 156h1v1h-1zM1057 157h1v1h-1zM1057 158h1v1h-1zM1057 159h1v1h-1zM1056 160h1v1h-1zM971 161h2v1h-2zM1056 161h1v1h-1zM969 162h2v1h-2zM973 162h2v1h-2zM1055 162h1v1h-1zM968 163h1v1h-1zM975 163h3v1h-3zM1055 163h1v1h-1zM967 164h1v1h-1zM978 164h5v1h-5zM1055 164h1v1h-1zM965 165h2v1h-2zM983 165h5v1h-5zM1054 165h1v1h-1zM964 166h1v1h-1zM988 166h2v1h-2zM1054 166h1v1h-1zM714 167h51v1h-51zM963 167h1v1h-1zM990 167h2v1h-2zM1053 167h1v1h-1zM712 168h2v1h-2zM765 168h4v1h-4zM961 168h2v1h-2zM992 168h2v1h-2zM1053 168h1v1h-1zM710 169h2v1h-2zM769 169h19v1h-19zM960 169h1v1h-1zM994 169h2v1h-2zM1053 169h1v1h-1zM708 170h2v1h-2zM788 170h2v1h-2zM959 170h1v1h-1zM996 170h2v1h-2zM1052 170h1v1h-1zM675 171h4v1h-4zM703 171h5v1h-5zM790 171h2v1h-2zM957 171h2v1h-2zM998 171h2v1h-2zM1052 171h1v1h-1zM675 172h1v1h-1zM679 172h24v1h-24zM792 172h2v1h-2zM956 172h1v1h-1zM1000 172h2v1h-2zM1051 172h1v1h-1zM674 173h1v1h-1zM794 173h5v1h-5zM955 173h1v1h-1zM1002 173h3v1h-3zM1051 173h1v1h-1zM674 174h1v1h-1zM799 174h5v1h-5zM954 174h1v1h-1zM1005 174h4v1h-4zM1050 174h1v1h-1zM673 175h1v1h-1zM804 175h1v1h-1zM954 175h1v1h-1zM1009 175h4v1h-4zM1049 175h1v1h-1zM673 176h1v1h-1zM805 176h1v1h-1zM953 176h1v1h-1zM1013 176h2v1h-2zM1048 176h1v1h-1zM672 177h1v1h-1zM806 177h1v1h-1zM952 177h1v1h-1zM1015 177h3v1h-3zM1047 177h1v1h-1zM672 178h1v1h-1zM807 178h1v1h-1zM818 178h2v1h-2zM951 178h1v1h-1zM1018 178h5v1h-5zM1046 178h1v1h-1zM671 179h1v1h-1zM808 179h1v1h-1zM816 179h2v1h-2zM820 179h1v1h-1zM951 179h1v1h-1zM1023 179h6v1h-6zM1045 179h1v1h-1zM671 180h1v1h-1zM809 180h1v1h-1zM814 180h2v1h-2zM821 180h1v1h-1zM950 180h1v1h-1zM1029 180h4v1h-4zM1044 180h1v1h-1zM670 181h1v1h-1zM810 181h1v1h-1zM812 181h2v1h-2zM822 181h1v1h-1zM949 181h1v1h-1zM1033 181h11v1h-11zM670 182h1v1h-1zM811 182h1v1h-1zM823 182h1v1h-1zM948 182h1v1h-1zM669 183h1v1h-1zM824 183h1v1h-1zM948 183h1v1h-1zM669 184h1v1h-1zM825 184h1v1h-1zM947 184h1v1h-1zM668 185h1v1h-1zM826 185h1v1h-1zM947 185h1v1h-1zM668 186h1v1h-1zM827 186h1v1h-1zM946 186h1v1h-1zM667 187h1v1h-1zM827 187h1v1h-1zM946 187h1v1h-1zM667 188h1v1h-1zM828 188h1v1h-1zM945 188h1v1h-1zM665 189h2v1h-2zM828 189h1v1h-1zM945 189h1v1h-1zM664 190h1v1h-1zM828 190h1v1h-1zM944 190h1v1h-1zM663 191h1v1h-1zM829 191h1v1h-1zM944 191h1v1h-1zM661 192h2v1h-2zM829 192h1v1h-1zM943 192h1v1h-1zM660 193h1v1h-1zM829 193h1v1h-1zM943 193h1v1h-1zM657 194h3v1h-3zM830 194h1v1h-1zM942 194h1v1h-1zM653 195h4v1h-4zM830 195h1v1h-1zM942 195h1v1h-1zM651 196h2v1h-2zM830 196h1v1h-1zM941 196h1v1h-1zM650 197h1v1h-1zM831 197h1v1h-1zM941 197h1v1h-1zM650 198h1v1h-1zM831 198h1v1h-1zM940 198h1v1h-1zM649 199h1v1h-1zM831 199h1v1h-1zM940 199h1v1h-1zM648 200h1v1h-1zM831 200h1v1h-1zM939 200h1v1h-1zM647 201h1v1h-1zM832 201h1v1h-1zM938 201h1v1h-1zM647 202h1v1h-1zM832 202h1v1h-1zM937 202h1v1h-1zM646 203h1v1h-1zM832 203h1v1h-1zM937 203h1v1h-1zM645 204h1v1h-1zM833 204h1v1h-1zM936 204h1v1h-1zM644 205h1v1h-1zM833 205h1v1h-1zM935 205h1v1h-1zM644 206h1v1h-1zM833 206h1v1h-1zM934 206h1v1h-1zM643 207h1v1h-1zM834 207h1v1h-1zM933 207h1v1h-1zM642 208h1v1h-1zM834 208h1v1h-1zM933 208h1v1h-1zM641 209h1v1h-1zM834 209h1v1h-1zM932 209h1v1h-1zM640 210h1v1h-1zM835 210h1v1h-1zM931 210h1v1h-1zM639 211h1v1h-1zM835 211h1v1h-1zM930 211h1v1h-1zM638 212h1v1h-1zM836 212h2v1h-2zM929 212h1v1h-1zM637 213h1v1h-1zM838 213h1v1h-1zM929 213h1v1h-1zM636 214h1v1h-1zM839 214h2v1h-2zM928 214h1v1h-1zM610 215h3v1h-3zM634 215h2v1h-2zM841 215h2v1h-2zM927 215h1v1h-1zM608 216h2v1h-2zM613 216h2v1h-2zM632 216h2v1h-2zM843 216h1v1h-1zM926 216h1v1h-1zM606 217h2v1h-2zM615 217h3v1h-3zM630 217h2v1h-2zM844 217h2v1h-2zM925 217h1v1h-1zM604 218h2v1h-2zM618 218h5v1h-5zM628 218h2v1h-2zM846 218h2v1h-2zM925 218h1v1h-1zM594 219h10v1h-10zM623 219h5v1h-5zM848 219h2v1h-2zM924 219h1v1h-1zM591 220h3v1h-3zM850 220h2v1h-2zM923 220h1v1h-1zM589 221h2v1h-2zM852 221h1v1h-1zM922 221h1v1h-1zM585 222h4v1h-4zM853 222h2v1h-2zM922 222h1v1h-1zM581 223h4v1h-4zM855 223h1v1h-1zM921 223h1v1h-1zM578 224h3v1h-3zM856 224h1v1h-1zM920 224h1v1h-1zM575 225h3v1h-3zM857 225h2v1h-2zM919 225h1v1h-1zM573 226h2v1h-2zM859 226h1v1h-1zM919 226h1v1h-1zM570 227h3v1h-3zM860 227h1v1h-1zM918 227h1v1h-1zM568 228h2v1h-2zM861 228h1v1h-1zM917 228h1v1h-1zM566 229h2v1h-2zM862 229h1v1h-1zM916 229h1v1h-1zM564 230h2v1h-2zM863 230h1v1h-1zM916 230h1v1h-1zM563 231h1v1h-1zM863 231h1v1h-1zM914 231h2v1h-2zM562 232h1v1h-1zM864 232h1v1h-1zM912 232h2v1h-2zM561 233h1v1h-1zM865 233h1v1h-1zM873 233h3v1h-3zM899 233h2v1h-2zM910 233h2v1h-2zM560 234h1v1h-1zM866 234h1v1h-1zM869 234h4v1h-4zM876 234h1v1h-1zM897 234h2v1h-2zM901 234h4v1h-4zM908 234h2v1h-2zM559 235h1v1h-1zM867 235h2v1h-2zM877 235h2v1h-2zM895 235h2v1h-2zM905 235h3v1h-3zM558 236h1v1h-1zM879 236h1v1h-1zM894 236h1v1h-1zM557 237h1v1h-1zM880 237h1v1h-1zM892 237h2v1h-2zM556 238h1v1h-1zM881 238h2v1h-2zM887 238h5v1h-5zM555 239h1v1h-1zM883 239h4v1h-4zM554 240h1v1h-1zM553 241h1v1h-1zM553 242h1v1h-1zM552 243h1v1h-1zM551 244h1v1h-1zM550 245h1v1h-1zM549 246h1v1h-1zM549 247h1v1h-1zM548 248h1v1h-1zM547 249h1v1h-1zM546 250h1v1h-1zM546 251h1v1h-1zM545 252h1v1h-1zM544 253h1v1h-1zM543 254h1v1h-1zM543 255h1v1h-1zM542 256h1v1h-1zM541 257h1v1h-1zM540 258h1v1h-1zM540 259h1v1h-1zM539 260h1v1h-1zM538 261h1v1h-1zM538 262h1v1h-1zM537 263h1v1h-1zM537 264h1v1h-1zM536 265h1v1h-1zM536 266h1v1h-1zM535 267h1v1h-1zM534 268h1v1h-1zM534 269h1v1h-1zM533 270h1v1h-1zM533 271h1v1h-1zM532 272h1v1h-1zM532 273h1v1h-1zM531 274h1v1h-1zM531 275h1v1h-1zM530 276h1v1h-1zM530 277h1v1h-1zM529 278h1v1h-1zM529 279h1v1h-1zM528 280h1v1h-1zM528 281h1v1h-1zM99 282h2v1h-2zM527 282h1v1h-1zM98 283h1v1h-1zM101 283h4v1h-4zM527 283h1v1h-1zM98 284h1v1h-1zM105 284h3v1h-3zM526 284h1v1h-1zM97 285h1v1h-1zM108 285h2v1h-2zM526 285h1v1h-1zM97 286h1v1h-1zM110 286h2v1h-2zM525 286h1v1h-1zM96 287h1v1h-1zM112 287h2v1h-2zM525 287h1v1h-1zM95 288h1v1h-1zM114 288h3v1h-3zM524 288h1v1h-1zM95 289h1v1h-1zM117 289h4v1h-4zM524 289h1v1h-1zM94 290h1v1h-1zM121 290h4v1h-4zM523 290h1v1h-1zM93 291h1v1h-1zM125 291h4v1h-4zM523 291h1v1h-1zM93 292h1v1h-1zM129 292h4v1h-4zM522 292h1v1h-1zM92 293h1v1h-1zM133 293h2v1h-2zM522 293h1v1h-1zM92 294h1v1h-1zM135 294h3v1h-3zM521 294h1v1h-1zM91 295h1v1h-1zM138 295h2v1h-2zM521 295h1v1h-1zM91 296h1v1h-1zM140 296h2v1h-2zM520 296h1v1h-1zM90 297h1v1h-1zM142 297h2v1h-2zM519 297h1v1h-1zM90 298h1v1h-1zM144 298h2v1h-2zM519 298h1v1h-1zM89 299h1v1h-1zM146 299h3v1h-3zM518 299h1v1h-1zM89 300h1v1h-1zM149 300h2v1h-2zM217 300h3v1h-3zM517 300h1v1h-1zM89 301h1v1h-1zM151 301h3v1h-3zM213 301h4v1h-4zM220 301h1v1h-1zM517 301h1v1h-1zM88 302h1v1h-1zM154 302h13v1h-13zM175 302h6v1h-6zM207 302h6v1h-6zM220 302h1v1h-1zM516 302h1v1h-1zM88 303h1v1h-1zM167 303h8v1h-8zM181 303h4v1h-4zM199 303h8v1h-8zM221 303h1v1h-1zM516 303h1v1h-1zM87 304h1v1h-1zM185 304h14v1h-14zM221 304h1v1h-1zM515 304h1v1h-1zM87 305h1v1h-1zM222 305h1v1h-1zM515 305h1v1h-1zM87 306h1v1h-1zM222 306h1v1h-1zM514 306h1v1h-1zM86 307h1v1h-1zM223 307h1v1h-1zM514 307h1v1h-1zM86 308h1v1h-1zM224 308h1v1h-1zM513 308h1v1h-1zM85 309h1v1h-1zM224 309h1v1h-1zM513 309h1v1h-1zM85 310h1v1h-1zM225 310h1v1h-1zM512 310h1v1h-1zM85 311h1v1h-1zM225 311h1v1h-1zM512 311h1v1h-1zM84 312h1v1h-1zM226 312h1v1h-1zM511 312h1v1h-1zM84 313h1v1h-1zM226 313h1v1h-1zM511 313h1v1h-1zM83 314h1v1h-1zM227 314h1v1h-1zM511 314h1v1h-1zM83 315h1v1h-1zM227 315h1v1h-1zM510 315h1v1h-1zM83 316h1v1h-1zM228 316h1v1h-1zM510 316h1v1h-1zM82 317h1v1h-1zM228 317h1v1h-1zM509 317h1v1h-1zM82 318h1v1h-1zM229 318h1v1h-1zM509 318h1v1h-1zM82 319h1v1h-1zM229 319h1v1h-1zM508 319h1v1h-1zM81 320h1v1h-1zM230 320h1v1h-1zM508 320h1v1h-1zM81 321h1v1h-1zM230 321h1v1h-1zM507 321h1v1h-1zM81 322h1v1h-1zM231 322h1v1h-1zM507 322h1v1h-1zM80 323h1v1h-1zM231 323h1v1h-1zM506 323h1v1h-1zM80 324h1v1h-1zM231 324h1v1h-1zM505 324h1v1h-1zM80 325h1v1h-1zM232 325h1v1h-1zM504 325h1v1h-1zM79 326h1v1h-1zM232 326h1v1h-1zM503 326h1v1h-1zM79 327h1v1h-1zM233 327h1v1h-1zM503 327h1v1h-1zM79 328h1v1h-1zM233 328h1v1h-1zM502 328h1v1h-1zM79 329h1v1h-1zM234 329h1v1h-1zM501 329h1v1h-1zM78 330h1v1h-1zM234 330h1v1h-1zM500 330h1v1h-1zM78 331h1v1h-1zM235 331h1v1h-1zM499 331h1v1h-1zM78 332h1v1h-1zM235 332h1v1h-1zM498 332h1v1h-1zM77 333h1v1h-1zM235 333h1v1h-1zM498 333h1v1h-1zM77 334h1v1h-1zM236 334h1v1h-1zM497 334h1v1h-1zM77 335h1v1h-1zM236 335h1v1h-1zM496 335h1v1h-1zM76 336h1v1h-1zM236 336h1v1h-1zM495 336h1v1h-1zM76 337h1v1h-1zM236 337h1v1h-1zM495 337h1v1h-1zM76 338h1v1h-1zM237 338h1v1h-1zM494 338h1v1h-1zM75 339h1v1h-1zM237 339h1v1h-1zM493 339h1v1h-1zM75 340h1v1h-1zM237 340h1v1h-1zM492 340h1v1h-1zM75 341h1v1h-1zM237 341h1v1h-1zM492 341h1v1h-1zM74 342h1v1h-1zM238 342h1v1h-1zM491 342h1v1h-1zM74 343h1v1h-1zM238 343h1v1h-1zM490 343h1v1h-1zM74 344h1v1h-1zM238 344h1v1h-1zM391 344h8v1h-8zM490 344h1v1h-1zM74 345h1v1h-1zM238 345h1v1h-1zM387 345h4v1h-4zM399 345h8v1h-8zM489 345h1v1h-1zM73 346h1v1h-1zM239 346h1v1h-1zM386 346h1v1h-1zM407 346h8v1h-8zM488 346h1v1h-1zM73 347h1v1h-1zM239 347h1v1h-1zM385 347h1v1h-1zM415 347h8v1h-8zM487 347h1v1h-1zM73 348h1v1h-1zM239 348h1v1h-1zM383 348h2v1h-2zM423 348h14v1h-14zM487 348h1v1h-1zM73 349h1v1h-1zM239 349h1v1h-1zM382 349h1v1h-1zM437 349h4v1h-4zM486 349h1v1h-1zM72 350h1v1h-1zM240 350h1v1h-1zM381 350h1v1h-1zM441 350h6v1h-6zM485 350h1v1h-1zM72 351h1v1h-1zM240 351h1v1h-1zM380 351h1v1h-1zM447 351h5v1h-5zM484 351h1v1h-1zM72 352h1v1h-1zM240 352h1v1h-1zM369 352h11v1h-11zM452 352h1v1h-1zM484 352h1v1h-1zM72 353h1v1h-1zM240 353h1v1h-1zM365 353h4v1h-4zM453 353h2v1h-2zM483 353h1v1h-1zM71 354h1v1h-1zM241 354h1v1h-1zM363 354h2v1h-2zM455 354h1v1h-1zM481 354h2v1h-2zM71 355h1v1h-1zM241 355h1v1h-1zM362 355h1v1h-1zM456 355h1v1h-1zM480 355h1v1h-1zM71 356h1v1h-1zM241 356h1v1h-1zM361 356h1v1h-1zM457 356h2v1h-2zM479 356h1v1h-1zM71 357h1v1h-1zM241 357h1v1h-1zM360 357h1v1h-1zM459 357h2v1h-2zM477 357h2v1h-2zM70 358h1v1h-1zM242 358h1v1h-1zM359 358h1v1h-1zM461 358h4v1h-4zM476 358h1v1h-1zM70 359h1v1h-1zM242 359h1v1h-1zM358 359h1v1h-1zM465 359h11v1h-11zM70 360h1v1h-1zM242 360h1v1h-1zM357 360h1v1h-1zM70 361h1v1h-1zM242 361h1v1h-1zM356 361h1v1h-1zM69 362h1v1h-1zM243 362h1v1h-1zM355 362h1v1h-1zM69 363h1v1h-1zM243 363h1v1h-1zM353 363h2v1h-2zM69 364h1v1h-1zM243 364h1v1h-1zM352 364h1v1h-1zM69 365h1v1h-1zM244 365h1v1h-1zM351 365h1v1h-1zM68 366h1v1h-1zM244 366h1v1h-1zM349 366h2v1h-2zM68 367h1v1h-1zM244 367h1v1h-1zM348 367h1v1h-1zM68 368h1v1h-1zM244 368h1v1h-1zM347 368h1v1h-1zM68 369h1v1h-1zM245 369h1v1h-1zM346 369h1v1h-1zM67 370h1v1h-1zM245 370h1v1h-1zM345 370h1v1h-1zM67 371h1v1h-1zM245 371h1v1h-1zM344 371h1v1h-1zM67 372h1v1h-1zM245 372h1v1h-1zM343 372h1v1h-1zM66 373h1v1h-1zM246 373h1v1h-1zM343 373h1v1h-1zM66 374h1v1h-1zM246 374h1v1h-1zM342 374h1v1h-1zM66 375h1v1h-1zM246 375h1v1h-1zM341 375h1v1h-1zM65 376h1v1h-1zM246 376h1v1h-1zM340 376h1v1h-1zM65 377h1v1h-1zM247 377h1v1h-1zM339 377h1v1h-1zM65 378h1v1h-1zM247 378h1v1h-1zM338 378h1v1h-1zM64 379h1v1h-1zM247 379h1v1h-1zM338 379h1v1h-1zM64 380h1v1h-1zM247 380h1v1h-1zM337 380h1v1h-1zM64 381h1v1h-1zM248 381h1v1h-1zM336 381h1v1h-1zM63 382h1v1h-1zM248 382h1v1h-1zM336 382h1v1h-1zM63 383h1v1h-1zM248 383h1v1h-1zM335 383h1v1h-1zM63 384h1v1h-1zM248 384h1v1h-1zM334 384h1v1h-1zM63 385h1v1h-1zM249 385h1v1h-1zM334 385h1v1h-1zM62 386h1v1h-1zM249 386h1v1h-1zM333 386h1v1h-1zM62 387h1v1h-1zM249 387h1v1h-1zM332 387h1v1h-1zM62 388h1v1h-1zM249 388h1v1h-1zM332 388h1v1h-1zM61 389h1v1h-1zM250 389h1v1h-1zM331 389h1v1h-1zM61 390h1v1h-1zM250 390h1v1h-1zM331 390h1v1h-1zM61 391h1v1h-1zM250 391h1v1h-1zM330 391h1v1h-1zM60 392h1v1h-1zM250 392h1v1h-1zM330 392h1v1h-1zM60 393h1v1h-1zM251 393h1v1h-1zM329 393h1v1h-1zM60 394h1v1h-1zM251 394h1v1h-1zM329 394h1v1h-1zM59 395h1v1h-1zM251 395h1v1h-1zM328 395h1v1h-1zM59 396h1v1h-1zM251 396h1v1h-1zM328 396h1v1h-1zM59 397h1v1h-1zM252 397h1v1h-1zM327 397h1v1h-1zM58 398h1v1h-1zM252 398h1v1h-1zM327 398h1v1h-1zM58 399h1v1h-1zM253 399h1v1h-1zM327 399h1v1h-1zM57 400h1v1h-1zM253 400h1v1h-1zM326 400h1v1h-1zM57 401h1v1h-1zM254 401h1v1h-1zM326 401h1v1h-1zM56 402h1v1h-1zM254 402h1v1h-1zM325 402h1v1h-1zM56 403h1v1h-1zM255 403h1v1h-1zM325 403h1v1h-1zM56 404h1v1h-1zM255 404h1v1h-1zM275 404h12v1h-12zM324 404h1v1h-1zM55 405h1v1h-1zM255 405h1v1h-1zM274 405h1v1h-1zM287 405h5v1h-5zM324 405h1v1h-1zM55 406h1v1h-1zM256 406h1v1h-1zM273 406h1v1h-1zM292 406h1v1h-1zM323 406h1v1h-1zM54 407h1v1h-1zM256 407h1v1h-1zM271 407h2v1h-2zM293 407h1v1h-1zM322 407h2v1h-2zM54 408h1v1h-1zM257 408h1v1h-1zM270 408h1v1h-1zM294 408h1v1h-1zM320 408h2v1h-2zM54 409h1v1h-1zM257 409h1v1h-1zM269 409h1v1h-1zM295 409h2v1h-2zM318 409h2v1h-2zM53 410h1v1h-1zM258 410h1v1h-1zM268 410h1v1h-1zM297 410h1v1h-1zM316 410h2v1h-2zM53 411h1v1h-1zM258 411h1v1h-1zM265 411h3v1h-3zM298 411h1v1h-1zM303 411h13v1h-13zM52 412h1v1h-1zM259 412h1v1h-1zM261 412h4v1h-4zM299 412h4v1h-4zM52 413h1v1h-1zM259 413h2v1h-2zM51 414h1v1h-1zM51 415h1v1h-1zM51 416h1v1h-1zM50 417h1v1h-1zM50 418h1v1h-1zM50 419h1v1h-1zM49 420h1v1h-1zM49 421h1v1h-1zM49 422h1v1h-1zM49 423h1v1h-1zM48 424h1v1h-1zM48 425h1v1h-1zM48 426h1v1h-1zM47 427h1v1h-1zM47 428h1v1h-1zM47 429h1v1h-1zM46 430h1v1h-1zM46 431h1v1h-1zM46 432h1v1h-1zM45 433h1v1h-1zM45 434h1v1h-1zM45 435h1v1h-1zM45 436h1v1h-1zM44 437h1v1h-1zM44 438h1v1h-1zM44 439h1v1h-1zM43 440h1v1h-1zM43 441h1v1h-1zM42 442h1v1h-1zM42 443h1v1h-1zM41 444h1v1h-1zM41 445h1v1h-1zM40 446h1v1h-1zM40 447h1v1h-1zM39 448h1v1h-1zM38 449h1v1h-1zM38 450h1v1h-1zM37 451h1v1h-1zM37 452h1v1h-1zM36 453h1v1h-1zM36 454h1v1h-1zM35 455h1v1h-1zM34 456h1v1h-1zM34 457h1v1h-1zM33 458h1v1h-1zM32 459h1v1h-1zM31 460h1v1h-1zM31 461h1v1h-1zM30 462h1v1h-1zM29 463h1v1h-1zM28 464h1v1h-1zM28 465h1v1h-1zM27 466h1v1h-1zM26 467h1v1h-1zM25 468h1v1h-1zM25 469h1v1h-1zM24 470h1v1h-1zM23 471h1v1h-1zM22 472h1v1h-1zM21 473h1v1h-1zM21 474h1v1h-1zM20 475h1v1h-1zM19 476h1v1h-1zM18 477h1v1h-1zM18 478h1v1h-1zM17 479h1v1h-1zM16 480h1v1h-1zM16 481h1v1h-1zM15 482h1v1h-1zM14 483h1v1h-1zM14 484h1v1h-1zM13 485h1v1h-1zM12 486h1v1h-1zM12 487h1v1h-1zM11 488h1v1h-1zM11 489h1v1h-1zM10 490h1v1h-1zM10 491h1v1h-1zM9 492h1v1h-1zM9 493h1v1h-1zM9 494h1v1h-1zM8 495h1v1h-1zM8 496h1v1h-1zM8 497h1v1h-1zM7 498h1v1h-1zM7 499h1v1h-1zM6 500h1v1h-1zM6 501h1v1h-1zM6 502h1v1h-1zM5 503h1v1h-1zM5 504h1v1h-1zM5 505h1v1h-1zM4 506h1v1h-1zM4 507h1v1h-1zM3 508h1v1h-1zM3 509h1v1h-1zM3 510h1v1h-1zM2 511h1v1h-1zM2 512h1v1h-1zM1 513h1v1h-1zM1 514h1v1h-1zM0 515h1v1h-1zM0 516h1v1h-1z" fill="#3cb371"/>
<path d="M1423 74h13v1h-13zM1417 75h6v1h-6zM1413 76h4v1h-4zM1407 77h6v1h-6zM1399 78h8v1h-8zM1393 79h6v1h-6zM1389 80h4v1h-4zM1386 81h3v1h-3zM1384 82h2v1h-2zM1382 83h2v1h-2zM1380 84h2v1h-2zM1378 85h2v1h-2zM1375 86h3v1h-3zM1373 87h2v1h-2zM1371 88h2v1h-2zM1369 89h2v1h-2zM1367 90h2v1h-2zM1366 91h1v1h-1zM1364 92h2v1h-2zM1362 93h2v1h-2zM1359 94h3v1h-3zM1357 95h2v1h-2zM1353 96h4v1h-4zM1349 97h4v1h-4zM1343 98h6v1h-6zM1337 99h6v1h-6zM1333 100h4v1h-4zM1330 101h3v1h-3zM1327 102h3v1h-3zM1325 103h2v1h-2zM1323 104h2v1h-2zM1321 105h2v1h-2zM1319 106h2v1h-2zM1318 107h1v1h-1zM1316 108h2v1h-2zM1314 109h2v1h-2zM1312 110h2v1h-2zM1310 111h2v1h-2zM1308 112h2v1h-2zM1306 113h2v1h-2zM1303 114h3v1h-3zM1301 115h2v1h-2zM1298 116h3v1h-3zM1296 117h2v1h-2zM1294 118h2v1h-2zM1292 119h2v1h-2zM1291 120h1v1h-1zM1289 121h2v1h-2zM1288 122h1v1h-1zM1287 123h1v1h-1zM1285 124h2v1h-2zM1284 125h1v1h-1zM1283 126h1v1h-1zM1281 127h2v1h-2zM1280 128h1v1h-1zM1279 129h1v1h-1zM1277 130h2v1h-2zM1276 131h1v1h-1zM1275 132h1v1h-1zM1274 133h1v1h-1zM1273 134h1v1h-1zM1272 135h1v1h-1zM1271 136h1v1h-1zM1270 137h1v1h-1zM1269 138h1v1h-1zM1268 139h1v1h-1zM1267 140h1v1h-1zM1266 141h1v1h-1zM1265 142h1v1h-1zM1265 143h1v1h-1zM1264 144h1v1h-1zM1263 145h1v1h-1zM1262 146h1v1h-1zM1261 147h1v1h-1zM1261 148h1v1h-1zM1260 149h1v1h-1zM1259 150h1v1h-1zM1258 151h1v1h-1zM1257 152h1v1h-1zM1257 153h1v1h-1zM1256 154h1v1h-1zM1255 155h1v1h-1zM1254 156h1v1h-1zM1253 157h1v1h-1zM1253 158h1v1h-1zM1252 159h1v1h-1zM1251 160h1v1h-1zM1250 161h1v1h-1zM1250 162h1v1h-1zM1249 163h1v1h-1zM1249 164h1v1h-1zM1248 165h1v1h-1zM1247 166h1v1h-1zM1247 167h1v1h-1zM1246 168h1v1h-1zM1245 169h1v1h-1zM1245 170h1v1h-1zM1244 171h1v1h-1zM1244 172h1v1h-1zM1243 173h1v1h-1zM1243 174h1v1h-1zM1242 175h1v1h-1zM1242 176h1v1h-1zM1241 177h1v1h-1zM1241 178h1v1h-1zM1240 179h1v1h-1zM1240 180h1v1h-1zM1239 181h1v1h-1zM1239 182h1v1h-1zM1239 183h1v1h-1zM1238 184h1v1h-1zM1238 185h1v1h-1zM1237 186h1v1h-1zM1237 187h1v1h-1zM1236 188h1v1h-1zM1236 189h1v1h-1zM1235 190h1v1h-1zM1235 191h1v1h-1zM1234 192h1v1h-1zM1234 193h1v1h-1zM1233 194h1v1h-1zM1233 195h1v1h-1zM1232 196h1v1h-1zM1232 197h1v1h-1zM1231 198h1v1h-1zM1231 199h1v1h-1zM1230 200h1v1h-1zM1230 201h1v1h-1zM1229 202h1v1h-1zM1229 203h1v1h-1zM1228 204h1v1h-1zM1228 205h1v1h-1zM1227 206h1v1h-1zM1226 207h1v1h-1zM1226 208h1v1h-1zM1225 209h1v1h-1zM1224 210h1v1h-1zM1224 211h1v1h-1zM1223 212h1v1h-1zM1222 213h1v1h-1zM1222 214h1v1h-1zM1221 215h1v1h-1zM1220 216h1v1h-1zM1220 217h1v1h-1zM1219 218h1v1h-1zM1218 219h1v1h-1zM1218 220h1v1h-1zM1217 221h1v1h-1zM1216 222h1v1h-1zM1216 223h1v1h-1zM1215 224h1v1h-1zM1214 225h1v1h-1zM1214 226h1v1h-1zM1213 227h1v1h-1zM1212 228h1v1h-1zM1212 229h1v1h-1zM1211 230h1v1h-1zM1210 231h1v1h-1zM1209 232h1v1h-1zM1208 233h1v1h-1zM1207 234h1v1h-1zM1207 235h1v1h-1zM1206 236h1v1h-1zM1205 237h1v1h-1zM1033 238h12v1h-12zM1204 238h1v1h-1zM1029 239h4v1h-4zM1045 239h2v1h-2zM1203 239h1v1h-1zM1025 240h4v1h-4zM1047 240h3v1h-3zM1202 240h1v1h-1zM1021 241h4v1h-4zM1050 241h2v1h-2zM1201 241h1v1h-1zM706 242h3v1h-3zM1018 242h3v1h-3zM1052 242h1v1h-1zM1200 242h1v1h-1zM703 243h3v1h-3zM709 243h2v1h-2zM751 243h14v1h-14zM1016 243h2v1h-2zM1053 243h2v1h-2zM1199 243h1v1h-1zM701 244h2v1h-2zM711 244h3v1h-3zM719 244h32v1h-32zM765 244h4v1h-4zM1014 244h2v1h-2zM1055 244h1v1h-1zM1198 244h1v1h-1zM695 245h6v1h-6zM714 245h5v1h-5zM769 245h6v1h-6zM1012 245h2v1h-2zM1056 245h1v1h-1zM1197 245h1v1h-1zM682 246h13v1h-13zM775 246h6v1h-6zM1009 246h3v1h-3zM1057 246h2v1h-2zM1196 246h1v1h-1zM679 247h3v1h-3zM781 247h2v1h-2zM1005 247h4v1h-4zM1059 247h1v1h-1zM1195 247h1v1h-1zM677 248h2v1h-2zM783 248h3v1h-3zM1003 248h2v1h-2zM1060 248h1v1h-1zM1194 248h1v1h-1zM675 249h2v1h-2zM786 249h2v1h-2zM1001 249h2v1h-2zM1061 249h2v1h-2zM1193 249h1v1h-1zM673 250h2v1h-2zM788 250h2v1h-2zM999 250h2v1h-2zM1063 250h1v1h-1zM1192 250h1v1h-1zM672 251h1v1h-1zM790 251h1v1h-1zM998 251h1v1h-1zM1064 251h1v1h-1zM1191 251h1v1h-1zM671 252h1v1h-1zM791 252h2v1h-2zM996 252h2v1h-2zM1065 252h2v1h-2zM1190 252h1v1h-1zM669 253h2v1h-2zM793 253h2v1h-2zM995 253h1v1h-1zM1067 253h1v1h-1zM1189 253h1v1h-1zM668 254h1v1h-1zM795 254h1v1h-1zM993 254h2v1h-2zM1068 254h1v1h-1zM1188 254h1v1h-1zM667 255h1v1h-1zM796 255h1v1h-1zM992 255h1v1h-1zM1069 255h1v1h-1zM1187 255h1v1h-1zM665 256h2v1h-2zM797 256h1v1h-1zM991 256h1v1h-1zM1070 256h1v1h-1zM1186 256h1v1h-1zM664 257h1v1h-1zM798 257h1v1h-1zM989 257h2v1h-2zM1071 257h1v1h-1zM1185 257h1v1h-1zM663 258h1v1h-1zM799 258h2v1h-2zM988 258h1v1h-1zM1072 258h1v1h-1zM1183 258h2v1h-2zM661 259h2v1h-2zM801 259h1v1h-1zM987 259h1v1h-1zM1073 259h1v1h-1zM1182 259h1v1h-1zM660 260h1v1h-1zM802 260h1v1h-1zM986 260h1v1h-1zM1074 260h1v1h-1zM1181 260h1v1h-1zM659 261h1v1h-1zM803 261h1v1h-1zM985 261h1v1h-1zM1075 261h1v1h-1zM1180 261h1v1h-1zM657 262h2v1h-2zM804 262h1v1h-1zM983 262h2v1h-2zM1076 262h1v1h-1zM1179 262h1v1h-1zM655 263h2v1h-2zM805 263h1v1h-1zM982 263h1v1h-1zM1077 263h1v1h-1zM1177 263h2v1h-2zM654 264h1v1h-1zM806 264h1v1h-1zM981 264h1v1h-1zM1077 264h1v1h-1zM1176 264h1v1h-1zM652 265h2v1h-2zM807 265h2v1h-2zM980 265h1v1h-1zM1078 265h1v1h-1zM1175 265h1v1h-1zM651 266h1v1h-1zM809 266h1v1h-1zM979 266h1v1h-1zM1079 266h1v1h-1zM1173 266h2v1h-2zM650 267h1v1h-1zM810 267h1v1h-1zM978 267h1v1h-1zM1080 267h1v1h-1zM1172 267h1v1h-1zM649 268h1v1h-1zM811 268h1v1h-1zM977 268h1v1h-1zM1081 268h1v1h-1zM1171 268h1v1h-1zM647 269h2v1h-2zM812 269h1v1h-1zM976 269h1v1h-1zM1081 269h1v1h-1zM1170 269h1v1h-1zM646 270h1v1h-1zM813 270h1v1h-1zM975 270h1v1h-1zM1082 270h1v1h-1zM1169 270h1v1h-1zM645 271h1v1h-1zM814 271h1v1h-1zM974 271h1v1h-1zM1083 271h1v1h-1zM1167 271h2v1h-2zM644 272h1v1h-1zM815 272h1v1h-1zM973 272h1v1h-1zM1084 272h1v1h-1zM1166 272h1v1h-1zM643 273h1v1h-1zM816 273h1v1h-1zM972 273h1v1h-1zM1085 273h1v1h-1zM1165 273h1v1h-1zM642 274h1v1h-1zM817 274h1v1h-1zM971 274h1v1h-1zM1086 274h1v1h-1zM1164 274h1v1h-1zM641 275h1v1h-1zM818 275h1v1h-1zM969 275h2v1h-2zM1087 275h2v1h-2zM1162 275h2v1h-2zM639 276h2v1h-2zM819 276h1v1h-1zM968 276h1v1h-1zM1089 276h1v1h-1zM1159 276h3v1h-3zM638 277h1v1h-1zM820 277h1v1h-1zM967 277h1v1h-1zM1090 277h1v1h-1zM1157 277h2v1h-2zM637 278h1v1h-1zM821 278h1v1h-1zM965 278h2v1h-2zM1091 278h1v1h-1zM1155 278h2v1h-2zM636 279h1v1h-1zM822 279h1v1h-1zM964 279h1v1h-1zM1092 279h2v1h-2zM1153 279h2v1h-2zM635 280h1v1h-1zM823 280h1v1h-1zM963 280h1v1h-1zM1094 280h1v1h-1zM1151 280h2v1h-2zM634 281h1v1h-1zM824 281h1v1h-1zM961 281h2v1h-2zM1095 281h2v1h-2zM1150 281h1v1h-1zM633 282h1v1h-1zM825 282h1v1h-1zM960 282h1v1h-1zM1097 282h2v1h-2zM1148 282h2v1h-2zM632 283h1v1h-1zM826 283h1v1h-1zM959 283h1v1h-1zM1099 283h1v1h-1zM1146 283h2v1h-2zM631 284h1v1h-1zM827 284h1v1h-1zM957 284h2v1h-2zM1100 284h2v1h-2zM1144 284h2v1h-2zM630 285h1v1h-1zM828 285h1v1h-1zM956 285h1v1h-1zM1102 285h1v1h-1zM1142 285h2v1h-2zM629 286h1v1h-1zM829 286h1v1h-1zM955 286h1v1h-1zM1103 286h2v1h-2zM1140 286h2v1h-2zM628 287h1v1h-1zM829 287h1v1h-1zM953 287h2v1h-2zM1105 287h2v1h-2zM1138 287h2v1h-2zM627 288h1v1h-1zM830 288h1v1h-1zM951 288h2v1h-2zM1107 288h4v1h-4zM1135 288h3v1h-3zM626 289h1v1h-1zM831 289h1v1h-1zM950 289h1v1h-1zM1111 289h8v1h-8zM1133 289h2v1h-2zM625 290h1v1h-1zM832 290h1v1h-1zM948 290h2v1h-2zM1119 290h14v1h-14zM624 291h1v1h-1zM833 291h1v1h-1zM947 291h1v1h-1zM623 292h1v1h-1zM833 292h1v1h-1zM945 292h2v1h-2zM622 293h1v1h-1zM834 293h1v1h-1zM943 293h2v1h-2zM621 294h1v1h-1zM835 294h1v1h-1zM942 294h1v1h-1zM620 295h1v1h-1zM836 295h2v1h-2zM940 295h2v1h-2zM619 296h1v1h-1zM838 296h2v1h-2zM938 296h2v1h-2zM618 297h1v1h-1zM840 297h2v1h-2zM935 297h3v1h-3zM617 298h1v1h-1zM842 298h3v1h-3zM933 298h2v1h-2zM616 299h1v1h-1zM845 299h2v1h-2zM930 299h3v1h-3zM615 300h1v1h-1zM847 300h3v1h-3zM927 300h3v1h-3zM615 301h1v1h-1zM850 301h3v1h-3zM925 301h2v1h-2zM614 302h1v1h-1zM853 302h2v1h-2zM921 302h4v1h-4zM613 303h1v1h-1zM855 303h3v1h-3zM917 303h4v1h-4zM612 304h1v1h-1zM858 304h3v1h-3zM911 304h6v1h-6zM611 305h1v1h-1zM861 305h4v1h-4zM871 305h6v1h-6zM895 305h16v1h-16zM610 306h1v1h-1zM865 306h6v1h-6zM877 306h4v1h-4zM887 306h8v1h-8zM609 307h1v1h-1zM881 307h6v1h-6zM608 308h1v1h-1zM607 309h1v1h-1zM607 310h1v1h-1zM606 311h1v1h-1zM605 312h1v1h-1zM604 313h1v1h-1zM603 314h1v1h-1zM601 315h2v1h-2zM600 316h1v1h-1zM599 317h1v1h-1zM597 318h2v1h-2zM596 319h1v1h-1zM595 320h1v1h-1zM594 321h1v1h-1zM593 322h1v1h-1zM591 323h2v1h-2zM590 324h1v1h-1zM589 325h1v1h-1zM588 326h1v1h-1zM587 327h1v1h-1zM585 328h2v1h-2zM584 329h1v1h-1zM583 330h1v1h-1zM581 331h2v1h-2zM580 332h1v1h-1zM579 333h1v1h-1zM577 334h2v1h-2zM575 335h2v1h-2zM574 336h1v1h-1zM572 337h2v1h-2zM571 338h1v1h-1zM570 339h1v1h-1zM569 340h1v1h-1zM567 341h2v1h-2zM566 342h1v1h-1zM565 343h1v1h-1zM564 344h1v1h-1zM563 345h1v1h-1zM562 346h1v1h-1zM561 347h1v1h-1zM559 348h2v1h-2zM558 349h1v1h-1zM557 350h1v1h-1zM556 351h1v1h-1zM555 352h1v1h-1zM553 353h2v1h-2zM552 354h1v1h-1zM551 355h1v1h-1zM549 356h2v1h-2zM548 357h1v1h-1zM546 358h2v1h-2zM544 359h2v1h-2zM542 360h2v1h-2zM540 361h2v1h-2zM539 362h1v1h-1zM537 363h2v1h-2zM535 364h2v1h-2zM534 365h1v1h-1zM532 366h2v1h-2zM531 367h1v1h-1zM529 368h2v1h-2zM528 369h1v1h-1zM527 370h1v1h-1zM525 371h2v1h-2zM524 372h1v1h-1zM523 373h1v1h-1zM521 374h2v1h-2zM519 375h2v1h-2zM518 376h1v1h-1zM516 377h2v1h-2zM515 378h1v1h-1zM513 379h2v1h-2zM511 380h2v1h-2zM510 381h1v1h-1zM508 382h2v1h-2zM506 383h2v1h-2zM503 384h3v1h-3zM501 385h2v1h-2zM498 386h3v1h-3zM495 387h3v1h-3zM493 388h2v1h-2zM489 389h4v1h-4zM485 390h4v1h-4zM483 391h2v1h-2zM481 392h2v1h-2zM479 393h2v1h-2zM478 394h1v1h-1zM476 395h2v1h-2zM474 396h2v1h-2zM471 397h3v1h-3zM469 398h2v1h-2zM466 399h3v1h-3zM463 400h3v1h-3zM461 401h2v1h-2zM458 402h3v1h-3zM455 403h3v1h-3zM453 404h2v1h-2zM447 405h6v1h-6zM442 406h5v1h-5zM439 407h3v1h-3zM437 408h2v1h-2zM431 409h6v1h-6zM425 410h6v1h-6zM421 411h4v1h-4zM418 412h3v1h-3zM416 413h2v1h-2zM414 414h2v1h-2zM412 415h2v1h-2zM410 416h2v1h-2zM407 417h3v1h-3zM405 418h2v1h-2zM402 419h3v1h-3zM399 420h3v1h-3zM397 421h2v1h-2zM394 422h3v1h-3zM392 423h2v1h-2zM390 424h2v1h-2zM388 425h2v1h-2zM387 426h1v1h-1zM385 427h2v1h-2zM384 428h1v1h-1zM186 429h11v1h-11zM383 429h1v1h-1zM183 430h3v1h-3zM197 430h4v1h-4zM381 430h2v1h-2zM181 431h2v1h-2zM201 431h3v1h-3zM380 431h1v1h-1zM178 432h3v1h-3zM204 432h1v1h-1zM379 432h1v1h-1zM175 433h3v1h-3zM205 433h2v1h-2zM378 433h1v1h-1zM173 434h2v1h-2zM207 434h1v1h-1zM377 434h1v1h-1zM155 435h4v1h-4zM167 435h6v1h-6zM208 435h1v1h-1zM376 435h1v1h-1zM153 436h2v1h-2zM159 436h8v1h-8zM209 436h2v1h-2zM375 436h1v1h-1zM151 437h2v1h-2zM211 437h1v1h-1zM375 437h1v1h-1zM150 438h1v1h-1zM212 438h1v1h-1zM374 438h1v1h-1zM148 439h2v1h-2zM213 439h2v1h-2zM373 439h1v1h-1zM147 440h1v1h-1zM215 440h1v1h-1zM372 440h1v1h-1zM146 441h1v1h-1zM216 441h1v1h-1zM371 441h1v1h-1zM145 442h1v1h-1zM217 442h2v1h-2zM370 442h1v1h-1zM143 443h2v1h-2zM219 443h1v1h-1zM369 443h1v1h-1zM142 444h1v1h-1zM220 444h1v1h-1zM367 444h2v1h-2zM141 445h1v1h-1zM221 445h1v1h-1zM366 445h1v1h-1zM140 446h1v1h-1zM222 446h1v1h-1zM365 446h1v1h-1zM139 447h1v1h-1zM223 447h2v1h-2zM364 447h1v1h-1zM138 448h1v1h-1zM225 448h1v1h-1zM363 448h1v1h-1zM137 449h1v1h-1zM226 449h1v1h-1zM361 449h2v1h-2zM135 450h2v1h-2zM227 450h1v1h-1zM359 450h2v1h-2zM134 451h1v1h-1zM228 451h1v1h-1zM358 451h1v1h-1zM133 452h1v1h-1zM229 452h1v1h-1zM356 452h2v1h-2zM132 453h1v1h-1zM230 453h1v1h-1zM355 453h1v1h-1zM131 454h1v1h-1zM231 454h2v1h-2zM353 454h2v1h-2zM129 455h2v1h-2zM233 455h1v1h-1zM352 455h1v1h-1zM128 456h1v1h-1zM234 456h1v1h-1zM351 456h1v1h-1zM127 457h1v1h-1zM235 457h1v1h-1zM349 457h2v1h-2zM125 458h2v1h-2zM236 458h1v1h-1zM348 458h1v1h-1zM124 459h1v1h-1zM237 459h1v1h-1zM346 459h2v1h-2zM122 460h2v1h-2zM238 460h1v1h-1zM343 460h3v1h-3zM119 461h3v1h-3zM239 461h1v1h-1zM341 461h2v1h-2zM117 462h2v1h-2zM239 462h1v1h-1zM338 462h3v1h-3zM115 463h2v1h-2zM240 463h1v1h-1zM335 463h3v1h-3zM113 464h2v1h-2zM241 464h1v1h-1zM333 464h2v1h-2zM111 465h2v1h-2zM242 465h1v1h-1zM331 465h2v1h-2zM110 466h1v1h-1zM243 466h1v1h-1zM329 466h2v1h-2zM108 467h2v1h-2zM244 467h1v1h-1zM328 467h1v1h-1zM107 468h1v1h-1zM245 468h1v1h-1zM327 468h1v1h-1zM105 469h2v1h-2zM246 469h1v1h-1zM325 469h2v1h-2zM104 470h1v1h-1zM247 470h2v1h-2zM282 470h5v1h-5zM324 470h1v1h-1zM103 471h1v1h-1zM249 471h1v1h-1zM279 471h3v1h-3zM287 471h6v1h-6zM321 471h3v1h-3zM101 472h2v1h-2zM250 472h1v1h-1zM277 472h2v1h-2zM293 472h4v1h-4zM317 472h4v1h-4zM100 473h1v1h-1zM251 473h1v1h-1zM274 473h3v1h-3zM297 473h20v1h-20zM99 474h1v1h-1zM252 474h2v1h-2zM271 474h3v1h-3zM98 475h1v1h-1zM254 475h1v1h-1zM269 475h2v1h-2zM97 476h1v1h-1zM255 476h2v1h-2zM265 476h4v1h-4zM97 477h1v1h-1zM257 477h2v1h-2zM261 477h4v1h-4zM96 478h1v1h-1zM259 478h2v1h-2zM95 479h1v1h-1zM94 480h1v1h-1zM93 481h1v1h-1zM93 482h1v1h-1zM92 483h1v1h-1zM91 484h1v1h-1zM90 485h1v1h-1zM90 486h1v1h-1zM89 487h1v1h-1zM89 488h1v1h-1zM88 489h1v1h-1zM88 490h1v1h-1zM87 491h1v1h-1zM86 492h1v1h-1zM86 493h1v1h-1zM85 494h1v1h-1zM85 495h1v1h-1zM84 496h1v1h-1zM84 497h1v1h-1zM83 498h1v1h-1zM83 499h1v1h-1zM82 500h1v1h-1zM82 501h1v1h-1zM81 502h1v1h-1zM81 503h1v1h-1zM81 504h1v1h-1zM80 505h1v1h-1zM80 506h1v1h-1zM79 507h1v1h-1zM79 508h1v1h-1zM79 509h1v1h-1zM78 510h1v1h-1zM78 511h1v1h-1zM77 512h1v1h-1zM77 513h1v1h-1zM77 514h1v1h-1zM76 515h1v1h-1zM76 516h1v1h-1zM75 517h1v1h-1zM75 518h1v1h-1zM75 519h1v1h-1zM74 520h1v1h-1zM74 521h1v1h-1zM73 522h1v1h-1zM73 523h1v1h-1zM72 524h1v1h-1zM72 525h1v1h-1zM71 526h1v1h-1zM71 527h1v1h-1zM70 528h1v1h-1zM70 529h1v1h-1zM69 530h1v1h-1zM69 531h1v1h-1zM68 532h1v1h-1zM68 533h1v1h-1zM67 534h1v1h-1zM67 535h1v1h-1zM67 536h1v1h-1zM66 537h1v1h-1zM66 538h1v1h-1zM65 539h1v1h-1zM65 540h1v1h-1zM64 541h1v1h-1zM64 542h1v1h-1zM63 543h1v1h-1zM63 544h1v1h-1zM62 545h1v1h-1zM62 546h1v1h-1zM61 547h1v1h-1zM61 548h1v1h-1zM60 549h1v1h-1zM60 550h1v1h-1zM59 551h1v1h-1zM59 552h1v1h-1zM58 553h1v1h-1zM58 554h1v1h-1zM57 555h1v1h-1zM57 556h1v1h-1zM56 557h1v1h-1zM56 558h1v1h-1zM55 559h1v1h-1zM54 560h1v1h-1zM54 561h1v1h-1zM53 562h1v1h-1zM53 563h1v1h-1zM52 564h1v1h-1zM52 565h1v1h-1zM51 566h1v1h-1zM50 567h1v1h-1zM50 568h1v1h-1zM49 569h1v1h-1zM48 570h1v1h-1zM47 571h1v1h-1zM47 572h1v1h-1zM46 573h1v1h-1zM45 574h1v1h-1zM44 575h1v1h-1zM44 576h1v1h-1zM43 577h1v1h-1zM41 578h2v1h-2zM40 579h1v1h-1zM39 580h1v1h-1zM37 581h2v1h-2zM36 582h1v1h-1zM34 583h2v1h-2zM32 584h2v1h-2zM30 585h2v1h-2zM28 586h2v1h-2zM27 587h1v1h-1z" fill="#3cb371"/>
<path d="M1423 101h13v1h-13zM1418 102h5v1h-5zM1415 103h3v1h-3zM1413 104h2v1h-2zM1409 105h4v1h-4zM1405 106h4v1h-4zM1394 107h11v1h-11zM1391 108h3v1h-3zM1389 109h2v1h-2zM1387 110h2v1h-2zM1387 111h1v1h-1zM1386 112h1v1h-1zM1386 113h1v1h-1zM1385 114h1v1h-1zM1385 115h1v1h-1zM1384 116h1v1h-1zM1384 117h1v1h-1zM1383 118h1v1h-1zM1383 119h1v1h-1zM1382 120h1v1h-1zM1382 121h1v1h-1zM1381 122h1v1h-1zM1381 123h1v1h-1zM1380 124h1v1h-1zM1380 125h1v1h-1zM1379 126h1v1h-1zM1378 127h1v1h-1zM1378 128h1v1h-1zM1377 129h1v1h-1zM1377 130h1v1h-1zM1376 131h1v1h-1zM1376 132h1v1h-1zM1375 133h1v1h-1zM1375 134h1v1h-1zM1374 135h1v1h-1zM1374 136h1v1h-1zM1373 137h1v1h-1zM1373 138h1v1h-1zM1372 139h1v1h-1zM1372 140h1v1h-1zM1371 141h1v1h-1zM1370 142h1v1h-1zM1369 143h1v1h-1zM1369 144h1v1h-1zM1368 145h1v1h-1zM1367 146h1v1h-1zM1366 147h1v1h-1zM1365 148h1v1h-1zM1365 149h1v1h-1zM1364 150h1v1h-1zM1363 151h1v1h-1zM1361 152h2v1h-2zM1359 153h2v1h-2zM1358 154h1v1h-1zM1356 155h2v1h-2zM1330 156h26v1h-26zM1328 157h2v1h-2zM1326 158h2v1h-2zM1324 159h2v1h-2zM1323 160h1v1h-1zM1322 161h1v1h-1zM1321 162h1v1h-1zM1319 163h2v1h-2zM1318 164h1v1h-1zM1317 165h1v1h-1zM1316 166h1v1h-1zM1313 167h3v1h-3zM1309 168h4v1h-4zM1305 169h4v1h-4zM1301 170h4v1h-4zM1299 171h2v1h-2zM1297 172h2v1h-2zM1296 173h1v1h-1zM1295 174h1v1h-1zM1293 175h2v1h-2zM1292 176h1v1h-1zM1291 177h1v1h-1zM1291 178h1v1h-1zM1290 179h1v1h-1zM1290 180h1v1h-1zM1289 181h1v1h-1zM1289 182h1v1h-1zM1288 183h1v1h-1zM1288 184h1v1h-1zM1287 185h1v1h-1zM1287 186h1v1h-1zM1287 187h1v1h-1zM1286 188h1v1h-1zM1286 189h1v1h-1zM1285 190h1v1h-1zM1285 191h1v1h-1zM1284 192h1v1h-1zM1284 193h1v1h-1zM1283 194h1v1h-1zM1283 195h1v1h-1zM1283 196h1v1h-1zM1282 197h1v1h-1zM1282 198h1v1h-1zM1282 199h1v1h-1zM1281 200h1v1h-1zM1281 201h1v1h-1zM1280 202h1v1h-1zM1280 203h1v1h-1zM1280 204h1v1h-1zM1279 205h1v1h-1zM1279 206h1v1h-1zM1279 207h1v1h-1zM1278 208h1v1h-1zM1278 209h1v1h-1zM1278 210h1v1h-1zM1277 211h1v1h-1zM1277 212h1v1h-1zM1276 213h1v1h-1zM1276 214h1v1h-1zM1276 215h1v1h-1zM1275 216h1v1h-1zM1275 217h1v1h-1zM1275 218h1v1h-1zM1274 219h1v1h-1zM1274 220h1v1h-1zM1273 221h1v1h-1zM1273 222h1v1h-1zM1272 223h1v1h-1zM1272 224h1v1h-1zM1271 225h1v1h-1zM1271 226h1v1h-1zM1270 227h1v1h-1zM1270 228h1v1h-1zM1269 229h1v1h-1zM1269 230h1v1h-1zM1268 231h1v1h-1zM1268 232h1v1h-1zM1267 233h1v1h-1zM1267 234h1v1h-1zM1267 235h1v1h-1zM1266 236h1v1h-1zM1266 237h1v1h-1zM1266 238h1v1h-1zM1266 239h1v1h-1zM1265 240h1v1h-1zM1265 241h1v1h-1zM1265 242h1v1h-1zM1264 243h1v1h-1zM1264 244h1v1h-1zM1264 245h1v1h-1zM1263 246h1v1h-1zM1263 247h1v1h-1zM1263 248h1v1h-1zM1263 249h1v1h-1zM1262 250h1v1h-1zM1262 251h1v1h-1zM1262 252h1v1h-1zM1261 253h1v1h-1zM1261 254h1v1h-1zM1261 255h1v1h-1zM1260 256h1v1h-1zM1260 257h1v1h-1zM1260 258h1v1h-1zM1260 259h1v1h-1zM1259 260h1v1h-1zM1259 261h1v1h-1zM1259 262h1v1h-1zM1258 263h1v1h-1zM1258 264h1v1h-1zM1258 265h1v1h-1zM1257 266h1v1h-1zM1257 267h1v1h-1zM1257 268h1v1h-1zM1256 269h1v1h-1zM1256 270h1v1h-1zM1256 271h1v1h-1zM1255 272h1v1h-1zM1255 273h1v1h-1zM1255 274h1v1h-1zM1255 275h1v1h-1zM1254 276h1v1h-1zM1254 277h1v1h-1zM1254 278h1v1h-1zM1253 279h1v1h-1zM1253 280h1v1h-1zM1253 281h1v1h-1zM1252 282h1v1h-1zM1252 283h1v1h-1zM1252 284h1v1h-1zM1251 285h1v1h-1zM1251 286h1v1h-1zM1251 287h1v1h-1zM1251 288h1v1h-1zM1250 289h1v1h-1zM1250 290h1v1h-1zM1250 291h1v1h-1zM1250 292h1v1h-1zM1249 293h1v1h-1zM1249 294h1v1h-1zM1249 295h1v1h-1zM1035 296h9v1h-9zM1249 296h1v1h-1zM1033 297h2v1h-2zM1044 297h1v1h-1zM1249 297h1v1h-1zM1032 298h1v1h-1zM1044 298h1v1h-1zM1248 298h1v1h-1zM1031 299h1v1h-1zM1045 299h1v1h-1zM1248 299h1v1h-1zM1029 300h2v1h-2zM1045 300h1v1h-1zM1248 300h1v1h-1zM1028 301h1v1h-1zM1046 301h1v1h-1zM1248 301h1v1h-1zM1026 302h2v1h-2zM1047 302h1v1h-1zM1248 302h1v1h-1zM1024 303h2v1h-2zM1047 303h1v1h-1zM1247 303h1v1h-1zM1022 304h2v1h-2zM1048 304h1v1h-1zM1247 304h1v1h-1zM1020 305h2v1h-2zM1049 305h1v1h-1zM1247 305h1v1h-1zM1019 306h1v1h-1zM1049 306h1v1h-1zM1247 306h1v1h-1zM1018 307h1v1h-1zM1050 307h1v1h-1zM1246 307h1v1h-1zM1018 308h1v1h-1zM1050 308h1v1h-1zM1246 308h1v1h-1zM1017 309h1v1h-1zM1051 309h1v1h-1zM1246 309h1v1h-1zM1016 310h1v1h-1zM1051 310h1v1h-1zM1246 310h1v1h-1zM1015 311h1v1h-1zM1052 311h1v1h-1zM1246 311h1v1h-1zM1015 312h1v1h-1zM1052 312h1v1h-1zM1245 312h1v1h-1zM1014 313h1v1h-1zM1052 313h1v1h-1zM1245 313h1v1h-1zM706 314h2v1h-2zM1013 314h1v1h-1zM1052 314h1v1h-1zM1245 314h1v1h-1zM704 315h2v1h-2zM708 315h1v1h-1zM1012 315h1v1h-1zM1053 315h1v1h-1zM1245 315h1v1h-1zM702 316h2v1h-2zM709 316h1v1h-1zM1012 316h1v1h-1zM1053 316h1v1h-1zM1245 316h1v1h-1zM700 317h2v1h-2zM710 317h1v1h-1zM1011 317h1v1h-1zM1053 317h1v1h-1zM1244 317h1v1h-1zM697 318h3v1h-3zM711 318h1v1h-1zM753 318h12v1h-12zM1009 318h2v1h-2zM1053 318h1v1h-1zM1244 318h1v1h-1zM693 319h4v1h-4zM712 319h1v1h-1zM749 319h4v1h-4zM765 319h2v1h-2zM1008 319h1v1h-1zM1054 319h1v1h-1zM1244 319h1v1h-1zM687 320h6v1h-6zM713 320h1v1h-1zM721 320h4v1h-4zM743 320h6v1h-6zM767 320h3v1h-3zM1007 320h1v1h-1zM1054 320h1v1h-1zM1244 320h1v1h-1zM683 321h4v1h-4zM714 321h1v1h-1zM717 321h4v1h-4zM725 321h4v1h-4zM735 321h8v1h-8zM770 321h3v1h-3zM1005 321h2v1h-2zM1054 321h1v1h-1zM1243 321h1v1h-1zM667 322h1v1h-1zM681 322h2v1h-2zM715 322h2v1h-2zM729 322h6v1h-6zM773 322h2v1h-2zM1004 322h1v1h-1zM1054 322h1v1h-1zM1243 322h1v1h-1zM666 323h1v1h-1zM668 323h2v1h-2zM679 323h2v1h-2zM775 323h3v1h-3zM1003 323h1v1h-1zM1055 323h1v1h-1zM1243 323h1v1h-1zM665 324h1v1h-1zM670 324h2v1h-2zM678 324h1v1h-1zM778 324h2v1h-2zM1002 324h1v1h-1zM1055 324h1v1h-1zM1243 324h1v1h-1zM663 325h2v1h-2zM672 325h2v1h-2zM676 325h2v1h-2zM780 325h1v1h-1zM1002 325h1v1h-1zM1055 325h1v1h-1zM1243 325h1v1h-1zM662 326h1v1h-1zM674 326h2v1h-2zM781 326h2v1h-2zM1001 326h1v1h-1zM1055 326h1v1h-1zM1242 326h1v1h-1zM661 327h1v1h-1zM783 327h1v1h-1zM1001 327h1v1h-1zM1056 327h1v1h-1zM1242 327h1v1h-1zM660 328h1v1h-1zM784 328h1v1h-1zM1000 328h1v1h-1zM1056 328h1v1h-1zM1242 328h1v1h-1zM659 329h1v1h-1zM785 329h2v1h-2zM1000 329h1v1h-1zM1056 329h1v1h-1zM1242 329h1v1h-1zM658 330h1v1h-1zM787 330h1v1h-1zM999 330h1v1h-1zM1056 330h1v1h-1zM1242 330h1v1h-1zM657 331h1v1h-1zM788 331h2v1h-2zM999 331h1v1h-1zM1057 331h1v1h-1zM1242 331h1v1h-1zM655 332h2v1h-2zM790 332h1v1h-1zM998 332h1v1h-1zM1057 332h1v1h-1zM1241 332h1v1h-1zM654 333h1v1h-1zM791 333h2v1h-2zM998 333h1v1h-1zM1057 333h1v1h-1zM1241 333h1v1h-1zM653 334h1v1h-1zM793 334h2v1h-2zM997 334h1v1h-1zM1057 334h1v1h-1zM1241 334h1v1h-1zM652 335h1v1h-1zM795 335h1v1h-1zM997 335h1v1h-1zM1058 335h1v1h-1zM1241 335h1v1h-1zM650 336h2v1h-2zM796 336h1v1h-1zM996 336h1v1h-1zM1058 336h1v1h-1zM1241 336h1v1h-1zM647 337h3v1h-3zM796 337h1v1h-1zM996 337h1v1h-1zM1058 337h1v1h-1zM1240 337h1v1h-1zM645 338h2v1h-2zM797 338h1v1h-1zM995 338h1v1h-1zM1058 338h1v1h-1zM1240 338h1v1h-1zM643 339h2v1h-2zM798 339h1v1h-1zM994 339h1v1h-1zM1059 339h1v1h-1zM1240 339h1v1h-1zM641 340h2v1h-2zM798 340h1v1h-1zM994 340h1v1h-1zM1059 340h1v1h-1zM1240 340h1v1h-1zM640 341h1v1h-1zM799 341h1v1h-1zM993 341h1v1h-1zM1059 341h1v1h-1zM1240 341h1v1h-1zM639 342h1v1h-1zM800 342h1v1h-1zM993 342h1v1h-1zM1059 342h1v1h-1zM1240 342h1v1h-1zM637 343h2v1h-2zM800 343h1v1h-1zM992 343h1v1h-1zM1060 343h1v1h-1zM1239 343h1v1h-1zM636 344h1v1h-1zM801 344h1v1h-1zM992 344h1v1h-1zM1060 344h1v1h-1zM1239 344h1v1h-1zM635 345h1v1h-1zM802 345h1v1h-1zM991 345h1v1h-1zM1060 345h1v1h-1zM1239 345h1v1h-1zM634 346h1v1h-1zM802 346h1v1h-1zM990 346h1v1h-1zM1060 346h1v1h-1zM1239 346h1v1h-1zM634 347h1v1h-1zM803 347h1v1h-1zM990 347h1v1h-1zM1061 347h1v1h-1zM1239 347h1v1h-1zM633 348h1v1h-1zM804 348h1v1h-1zM989 348h1v1h-1zM1061 348h1v1h-1zM1238 348h1v1h-1zM633 349h1v1h-1zM805 349h2v1h-2zM989 349h1v1h-1zM1061 349h1v1h-1zM1238 349h1v1h-1zM632 350h1v1h-1zM807 350h1v1h-1zM988 350h1v1h-1zM1062 350h1v1h-1zM1238 350h1v1h-1zM631 351h1v1h-1zM808 351h1v1h-1zM988 351h1v1h-1zM1062 351h1v1h-1zM1238 351h1v1h-1zM631 352h1v1h-1zM809 352h2v1h-2zM987 352h1v1h-1zM1062 352h1v1h-1zM1238 352h1v1h-1zM630 353h1v1h-1zM811 353h1v1h-1zM987 353h1v1h-1zM1062 353h1v1h-1zM1238 353h1v1h-1zM629 354h1v1h-1zM811 354h1v1h-1zM986 354h1v1h-1zM1063 354h1v1h-1zM1237 354h1v1h-1zM629 355h1v1h-1zM812 355h1v1h-1zM986 355h1v1h-1zM1063 355h1v1h-1zM1237 355h1v1h-1zM628 356h1v1h-1zM812 356h1v1h-1zM985 356h1v1h-1zM1063 356h1v1h-1zM1237 356h1v1h-1zM628 357h1v1h-1zM813 357h1v1h-1zM985 357h1v1h-1zM1064 357h1v1h-1zM1237 357h1v1h-1zM627 358h1v1h-1zM813 358h1v1h-1zM984 358h1v1h-1zM1064 358h1v1h-1zM1237 358h1v1h-1zM627 359h1v1h-1zM813 359h1v1h-1zM984 359h1v1h-1zM1064 359h1v1h-1zM1236 359h1v1h-1zM626 360h1v1h-1zM814 360h1v1h-1zM983 360h1v1h-1zM1064 360h1v1h-1zM1236 360h1v1h-1zM626 361h1v1h-1zM814 361h1v1h-1zM983 361h1v1h-1zM1065 361h1v1h-1zM1236 361h1v1h-1zM625 362h1v1h-1zM815 362h1v1h-1zM982 362h1v1h-1zM1065 362h1v1h-1zM1236 362h1v1h-1zM625 363h1v1h-1zM815 363h1v1h-1zM982 363h1v1h-1zM1065 363h1v1h-1zM1236 363h1v1h-1zM624 364h1v1h-1zM815 364h1v1h-1zM981 364h1v1h-1zM1066 364h1v1h-1zM1236 364h1v1h-1zM624 365h1v1h-1zM816 365h1v1h-1zM981 365h1v1h-1zM1066 365h1v1h-1zM1235 365h1v1h-1zM623 366h1v1h-1zM816 366h1v1h-1zM980 366h1v1h-1zM1066 366h1v1h-1zM1235 366h1v1h-1zM623 367h1v1h-1zM817 367h1v1h-1zM980 367h1v1h-1zM1066 367h1v1h-1zM1235 367h1v1h-1zM622 368h1v1h-1zM817 368h1v1h-1zM979 368h1v1h-1zM1067 368h1v1h-1zM1235 368h1v1h-1zM622 369h1v1h-1zM817 369h1v1h-1zM979 369h1v1h-1zM1067 369h1v1h-1zM1235 369h1v1h-1zM621 370h1v1h-1zM818 370h1v1h-1zM979 370h1v1h-1zM1067 370h1v1h-1zM1234 370h1v1h-1zM621 371h1v1h-1zM818 371h1v1h-1zM978 371h1v1h-1zM1068 371h1v1h-1zM1234 371h1v1h-1zM620 372h1v1h-1zM819 372h1v1h-1zM978 372h1v1h-1zM1068 372h1v1h-1zM1234 372h1v1h-1zM620 373h1v1h-1zM819 373h1v1h-1zM977 373h1v1h-1zM1068 373h1v1h-1zM1234 373h1v1h-1zM619 374h1v1h-1zM820 374h1v1h-1zM977 374h1v1h-1zM1069 374h1v1h-1zM1233 374h1v1h-1zM619 375h1v1h-1zM821 375h1v1h-1zM879 375h16v1h-16zM976 375h1v1h-1zM1069 375h1v1h-1zM1233 375h1v1h-1zM618 376h1v1h-1zM821 376h1v1h-1zM871 376h8v1h-8zM895 376h14v1h-14zM976 376h1v1h-1zM1069 376h1v1h-1zM1233 376h1v1h-1zM618 377h1v1h-1zM822 377h1v1h-1zM835 377h1v1h-1zM866 377h5v1h-5zM909 377h4v1h-4zM976 377h1v1h-1zM1070 377h1v1h-1zM1233 377h1v1h-1zM617 378h1v1h-1zM823 378h1v1h-1zM833 378h2v1h-2zM836 378h2v1h-2zM864 378h2v1h-2zM913 378h3v1h-3zM975 378h1v1h-1zM1070 378h1v1h-1zM1232 378h1v1h-1zM617 379h1v1h-1zM824 379h1v1h-1zM832 379h1v1h-1zM838 379h2v1h-2zM862 379h2v1h-2zM916 379h2v1h-2zM975 379h1v1h-1zM1070 379h1v1h-1zM1232 379h1v1h-1zM617 380h1v1h-1zM825 380h1v1h-1zM831 380h1v1h-1zM840 380h2v1h-2zM860 380h2v1h-2zM918 380h1v1h-1zM974 380h1v1h-1zM1071 380h1v1h-1zM1232 380h1v1h-1zM616 381h1v1h-1zM825 381h1v1h-1zM829 381h2v1h-2zM842 381h18v1h-18zM919 381h2v1h-2zM974 381h1v1h-1zM1071 381h1v1h-1zM1232 381h1v1h-1zM616 382h1v1h-1zM826 382h1v1h-1zM828 382h1v1h-1zM921 382h2v1h-2zM974 382h1v1h-1zM1071 382h1v1h-1zM1231 382h1v1h-1zM615 383h1v1h-1zM827 383h1v1h-1zM923 383h1v1h-1zM973 383h1v1h-1zM1071 383h1v1h-1zM1231 383h1v1h-1zM615 384h1v1h-1zM924 384h2v1h-2zM973 384h1v1h-1zM1072 384h1v1h-1zM1231 384h1v1h-1zM615 385h1v1h-1zM926 385h1v1h-1zM972 385h1v1h-1zM1072 385h1v1h-1zM1231 385h1v1h-1zM614 386h1v1h-1zM927 386h2v1h-2zM972 386h1v1h-1zM1072 386h1v1h-1zM1230 386h1v1h-1zM614 387h1v1h-1zM929 387h2v1h-2zM971 387h1v1h-1zM1073 387h1v1h-1zM1230 387h1v1h-1zM613 388h1v1h-1zM931 388h1v1h-1zM971 388h1v1h-1zM1073 388h1v1h-1zM1230 388h1v1h-1zM613 389h1v1h-1zM932 389h2v1h-2zM969 389h2v1h-2zM1073 389h1v1h-1zM1230 389h1v1h-1zM613 390h1v1h-1zM934 390h2v1h-2zM967 390h2v1h-2zM1074 390h1v1h-1zM1229 390h1v1h-1zM612 391h1v1h-1zM936 391h2v1h-2zM966 391h1v1h-1zM1074 391h1v1h-1zM1229 391h1v1h-1zM612 392h1v1h-1zM938 392h2v1h-2zM964 392h2v1h-2zM1074 392h1v1h-1zM1229 392h1v1h-1zM611 393h1v1h-1zM940 393h2v1h-2zM963 393h1v1h-1zM1075 393h1v1h-1zM1229 393h1v1h-1zM611 394h1v1h-1zM942 394h1v1h-1zM961 394h2v1h-2zM1075 394h1v1h-1zM1228 394h1v1h-1zM610 395h1v1h-1zM943 395h2v1h-2zM960 395h1v1h-1zM1075 395h1v1h-1zM1228 395h1v1h-1zM610 396h1v1h-1zM945 396h2v1h-2zM959 396h1v1h-1zM1076 396h1v1h-1zM1228 396h1v1h-1zM609 397h1v1h-1zM947 397h2v1h-2zM957 397h2v1h-2zM1076 397h1v1h-1zM1228 397h1v1h-1zM609 398h1v1h-1zM949 398h4v1h-4zM956 398h1v1h-1zM1076 398h1v1h-1zM1227 398h1v1h-1zM608 399h1v1h-1zM953 399h3v1h-3zM1077 399h1v1h-1zM1227 399h1v1h-1zM608 400h1v1h-1zM1077 400h1v1h-1zM1227 400h1v1h-1zM607 401h1v1h-1zM1077 401h1v1h-1zM1227 401h1v1h-1zM607 402h1v1h-1zM1078 402h1v1h-1zM1226 402h1v1h-1zM606 403h1v1h-1zM1078 403h1v1h-1zM1226 403h1v1h-1zM606 404h1v1h-1zM1078 404h1v1h-1zM1226 404h1v1h-1zM605 405h1v1h-1zM1079 405h1v1h-1zM1226 405h1v1h-1zM605 406h1v1h-1zM1079 406h1v1h-1zM1225 406h1v1h-1zM604 407h1v1h-1zM1079 407h1v1h-1zM1225 407h1v1h-1zM604 408h1v1h-1zM1079 408h1v1h-1zM1225 408h1v1h-1zM603 409h1v1h-1zM1080 409h1v1h-1zM1225 409h1v1h-1zM602 410h1v1h-1zM1080 410h1v1h-1zM1224 410h1v1h-1zM602 411h1v1h-1zM1080 411h1v1h-1zM1224 411h1v1h-1zM601 412h1v1h-1zM1081 412h1v1h-1zM1224 412h1v1h-1zM600 413h1v1h-1zM1081 413h1v1h-1zM1224 413h1v1h-1zM600 414h1v1h-1zM1081 414h1v1h-1zM1223 414h1v1h-1zM599 415h1v1h-1zM1082 415h1v1h-1zM1223 415h1v1h-1zM598 416h1v1h-1zM1082 416h1v1h-1zM1223 416h1v1h-1zM598 417h1v1h-1zM1082 417h1v1h-1zM1222 417h1v1h-1zM597 418h1v1h-1zM1083 418h1v1h-1zM1222 418h1v1h-1zM596 419h1v1h-1zM1083 419h1v1h-1zM1222 419h1v1h-1zM596 420h1v1h-1zM1084 420h1v1h-1zM1222 420h1v1h-1zM595 421h1v1h-1zM1085 421h1v1h-1zM1221 421h1v1h-1zM594 422h1v1h-1zM1085 422h1v1h-1zM1221 422h1v1h-1zM594 423h1v1h-1zM1086 423h1v1h-1zM1221 423h1v1h-1zM593 424h1v1h-1zM1087 424h1v1h-1zM1221 424h1v1h-1zM592 425h1v1h-1zM1088 425h1v1h-1zM1220 425h1v1h-1zM591 426h1v1h-1zM1089 426h1v1h-1zM1220 426h1v1h-1zM591 427h1v1h-1zM1089 427h1v1h-1zM1113 427h19v1h-19zM1220 427h1v1h-1zM590 428h1v1h-1zM1090 428h1v1h-1zM1109 428h4v1h-4zM1132 428h2v1h-2zM1220 428h1v1h-1zM482 429h2v1h-2zM589 429h1v1h-1zM1091 429h4v1h-4zM1103 429h6v1h-6zM1134 429h1v1h-1zM1219 429h1v1h-1zM480 430h2v1h-2zM484 430h1v1h-1zM588 430h1v1h-1zM1095 430h8v1h-8zM1135 430h2v1h-2zM1219 430h1v1h-1zM478 431h2v1h-2zM485 431h2v1h-2zM588 431h1v1h-1zM1137 431h2v1h-2zM1219 431h1v1h-1zM476 432h2v1h-2zM487 432h1v1h-1zM587 432h1v1h-1zM1139 432h1v1h-1zM1218 432h1v1h-1zM475 433h1v1h-1zM488 433h1v1h-1zM586 433h1v1h-1zM1140 433h1v1h-1zM1218 433h1v1h-1zM473 434h2v1h-2zM489 434h2v1h-2zM586 434h1v1h-1zM1141 434h1v1h-1zM1218 434h1v1h-1zM472 435h1v1h-1zM491 435h1v1h-1zM585 435h1v1h-1zM1142 435h1v1h-1zM1217 435h1v1h-1zM471 436h1v1h-1zM492 436h1v1h-1zM584 436h1v1h-1zM1143 436h2v1h-2zM1217 436h1v1h-1zM469 437h2v1h-2zM493 437h2v1h-2zM583 437h1v1h-1zM1145 437h1v1h-1zM1216 437h1v1h-1zM468 438h1v1h-1zM495 438h1v1h-1zM583 438h1v1h-1zM1146 438h1v1h-1zM1216 438h1v1h-1zM467 439h1v1h-1zM496 439h1v1h-1zM582 439h1v1h-1zM1147 439h1v1h-1zM1216 439h1v1h-1zM466 440h1v1h-1zM497 440h2v1h-2zM581 440h1v1h-1zM1148 440h1v1h-1zM1215 440h1v1h-1zM465 441h1v1h-1zM499 441h2v1h-2zM580 441h1v1h-1zM1149 441h2v1h-2zM1215 441h1v1h-1zM463 442h2v1h-2zM501 442h2v1h-2zM580 442h1v1h-1zM1151 442h1v1h-1zM1215 442h1v1h-1zM462 443h1v1h-1zM503 443h3v1h-3zM579 443h1v1h-1zM1152 443h1v1h-1zM1214 443h1v1h-1zM461 444h1v1h-1zM506 444h2v1h-2zM578 444h1v1h-1zM1153 444h2v1h-2zM1214 444h1v1h-1zM460 445h1v1h-1zM508 445h1v1h-1zM577 445h1v1h-1zM1155 445h2v1h-2zM1214 445h1v1h-1zM459 446h1v1h-1zM509 446h1v1h-1zM575 446h2v1h-2zM1157 446h2v1h-2zM1213 446h1v1h-1zM458 447h1v1h-1zM510 447h1v1h-1zM574 447h1v1h-1zM1159 447h3v1h-3zM1213 447h1v1h-1zM458 448h1v1h-1zM511 448h2v1h-2zM573 448h1v1h-1zM1162 448h2v1h-2zM1212 448h1v1h-1zM457 449h1v1h-1zM513 449h1v1h-1zM572 449h1v1h-1zM1164 449h2v1h-2zM1212 449h1v1h-1zM457 450h1v1h-1zM514 450h1v1h-1zM571 450h1v1h-1zM1166 450h2v1h-2zM1212 450h1v1h-1zM456 451h1v1h-1zM515 451h1v1h-1zM570 451h1v1h-1zM1168 451h2v1h-2zM1211 451h1v1h-1zM455 452h1v1h-1zM516 452h2v1h-2zM569 452h1v1h-1zM1170 452h2v1h-2zM1211 452h1v1h-1zM455 453h1v1h-1zM518 453h2v1h-2zM568 453h1v1h-1zM1172 453h2v1h-2zM1210 453h1v1h-1zM454 454h1v1h-1zM520 454h2v1h-2zM567 454h1v1h-1zM1174 454h1v1h-1zM1209 454h1v1h-1zM453 455h1v1h-1zM522 455h2v1h-2zM566 455h1v1h-1zM1175 455h2v1h-2zM1209 455h1v1h-1zM453 456h1v1h-1zM524 456h2v1h-2zM565 456h1v1h-1zM1177 456h2v1h-2zM1208 456h1v1h-1zM452 457h1v1h-1zM526 457h1v1h-1zM564 457h1v1h-1zM1179 457h1v1h-1zM1207 457h1v1h-1zM452 458h1v1h-1zM527 458h2v1h-2zM563 458h1v1h-1zM1180 458h1v1h-1zM1206 458h1v1h-1zM450 459h2v1h-2zM529 459h2v1h-2zM561 459h2v1h-2zM1181 459h1v1h-1zM1205 459h1v1h-1zM448 460h2v1h-2zM531 460h1v1h-1zM560 460h1v1h-1zM1182 460h1v1h-1zM1205 460h1v1h-1zM446 461h2v1h-2zM532 461h2v1h-2zM559 461h1v1h-1zM1183 461h2v1h-2zM1204 461h1v1h-1zM444 462h2v1h-2zM534 462h2v1h-2zM557 462h2v1h-2zM1185 462h1v1h-1zM1203 462h1v1h-1zM443 463h1v1h-1zM536 463h2v1h-2zM556 463h1v1h-1zM1186 463h1v1h-1zM1201 463h2v1h-2zM442 464h1v1h-1zM538 464h3v1h-3zM553 464h3v1h-3zM1187 464h2v1h-2zM1199 464h2v1h-2zM441 465h1v1h-1zM541 465h4v1h-4zM549 465h4v1h-4zM1189 465h2v1h-2zM1198 465h1v1h-1zM439 466h2v1h-2zM545 466h4v1h-4zM1191 466h3v1h-3zM1196 466h2v1h-2zM438 467h1v1h-1zM1194 467h2v1h-2zM437 468h1v1h-1zM436 469h1v1h-1zM431 470h5v1h-5zM427 471h4v1h-4zM425 472h2v1h-2zM424 473h1v1h-1zM423 474h1v1h-1zM421 475h2v1h-2zM420 476h1v1h-1zM419 477h1v1h-1zM418 478h1v1h-1zM417 479h1v1h-1zM416 480h1v1h-1zM415 481h1v1h-1zM415 482h1v1h-1zM414 483h1v1h-1zM413 484h1v1h-1zM412 485h1v1h-1zM411 486h1v1h-1zM409 487h2v1h-2zM408 488h1v1h-1zM407 489h1v1h-1zM405 490h2v1h-2zM404 491h1v1h-1zM403 492h1v1h-1zM402 493h1v1h-1zM401 494h1v1h-1zM400 495h1v1h-1zM399 496h1v1h-1zM398 497h1v1h-1zM397 498h1v1h-1zM396 499h1v1h-1zM395 500h1v1h-1zM394 501h1v1h-1zM393 502h1v1h-1zM391 503h2v1h-2zM390 504h1v1h-1zM389 505h1v1h-1zM388 506h1v1h-1zM387 507h1v1h-1zM385 508h2v1h-2zM383 509h2v1h-2zM382 510h1v1h-1zM380 511h2v1h-2zM379 512h1v1h-1zM379 513h1v1h-1zM378 514h1v1h-1zM378 515h1v1h-1zM377 516h1v1h-1zM377 517h1v1h-1zM376 518h1v1h-1zM376 519h1v1h-1zM375 520h1v1h-1zM375 521h1v1h-1zM374 522h1v1h-1zM374 523h1v1h-1zM373 524h1v1h-1zM373 525h1v1h-1zM372 526h1v1h-1zM372 527h1v1h-1zM371 528h1v1h-1zM371 529h1v1h-1zM370 530h1v1h-1zM370 531h1v1h-1zM369 532h1v1h-1zM369 533h1v1h-1zM319 534h5v1h-5zM368 534h1v1h-1zM297 535h22v1h-22zM324 535h1v1h-1zM368 535h1v1h-1zM293 536h4v1h-4zM325 536h2v1h-2zM367 536h1v1h-1zM283 537h10v1h-10zM327 537h1v1h-1zM366 537h1v1h-1zM281 538h2v1h-2zM328 538h1v1h-1zM366 538h1v1h-1zM279 539h2v1h-2zM329 539h2v1h-2zM365 539h1v1h-1zM278 540h1v1h-1zM331 540h1v1h-1zM365 540h1v1h-1zM266 541h5v1h-5zM276 541h2v1h-2zM332 541h1v1h-1zM364 541h1v1h-1zM263 542h3v1h-3zM271 542h5v1h-5zM333 542h2v1h-2zM364 542h1v1h-1zM261 543h2v1h-2zM335 543h1v1h-1zM359 543h5v1h-5zM259 544h2v1h-2zM336 544h1v1h-1zM355 544h4v1h-4zM258 545h1v1h-1zM337 545h2v1h-2zM353 545h2v1h-2zM257 546h1v1h-1zM339 546h2v1h-2zM351 546h2v1h-2zM256 547h1v1h-1zM341 547h2v1h-2zM350 547h1v1h-1zM255 548h1v1h-1zM343 548h3v1h-3zM348 548h2v1h-2zM254 549h1v1h-1zM346 549h2v1h-2zM253 550h1v1h-1zM252 551h1v1h-1zM251 552h1v1h-1zM251 553h1v1h-1zM187 554h4v1h-4zM250 554h1v1h-1zM186 555h1v1h-1zM191 555h6v1h-6zM250 555h1v1h-1zM185 556h1v1h-1zM197 556h2v1h-2zM249 556h1v1h-1zM184 557h1v1h-1zM199 557h3v1h-3zM249 557h1v1h-1zM183 558h1v1h-1zM202 558h2v1h-2zM248 558h1v1h-1zM183 559h1v1h-1zM204 559h1v1h-1zM248 559h1v1h-1zM182 560h1v1h-1zM204 560h1v1h-1zM247 560h1v1h-1zM181 561h1v1h-1zM205 561h1v1h-1zM247 561h1v1h-1zM180 562h1v1h-1zM205 562h1v1h-1zM246 562h1v1h-1zM179 563h1v1h-1zM206 563h1v1h-1zM246 563h1v1h-1zM177 564h2v1h-2zM206 564h1v1h-1zM245 564h1v1h-1zM175 565h2v1h-2zM207 565h1v1h-1zM245 565h1v1h-1zM174 566h1v1h-1zM208 566h1v1h-1zM244 566h1v1h-1zM172 567h2v1h-2zM208 567h1v1h-1zM244 567h1v1h-1zM155 568h4v1h-4zM167 568h5v1h-5zM209 568h1v1h-1zM243 568h1v1h-1zM154 569h1v1h-1zM159 569h8v1h-8zM209 569h1v1h-1zM243 569h1v1h-1zM154 570h1v1h-1zM210 570h1v1h-1zM242 570h1v1h-1zM153 571h1v1h-1zM210 571h1v1h-1zM242 571h1v1h-1zM153 572h1v1h-1zM211 572h1v1h-1zM241 572h1v1h-1zM152 573h1v1h-1zM212 573h1v1h-1zM241 573h1v1h-1zM151 574h1v1h-1zM212 574h1v1h-1zM240 574h1v1h-1zM151 575h1v1h-1zM213 575h1v1h-1zM239 575h1v1h-1zM150 576h1v1h-1zM213 576h1v1h-1zM239 576h1v1h-1zM149 577h1v1h-1zM214 577h1v1h-1zM238 577h1v1h-1zM149 578h1v1h-1zM214 578h1v1h-1zM237 578h1v1h-1zM148 579h1v1h-1zM215 579h1v1h-1zM237 579h1v1h-1zM148 580h1v1h-1zM216 580h1v1h-1zM236 580h1v1h-1zM147 581h1v1h-1zM216 581h1v1h-1zM236 581h1v1h-1zM146 582h1v1h-1zM217 582h1v1h-1zM234 582h2v1h-2zM146 583h1v1h-1zM217 583h1v1h-1zM232 583h2v1h-2zM145 584h1v1h-1zM218 584h1v1h-1zM230 584h2v1h-2zM144 585h1v1h-1zM218 585h1v1h-1zM228 585h2v1h-2zM144 586h1v1h-1zM219 586h9v1h-9zM143 587h1v1h-1z" fill="#3cb371"/>
<polygon points="1443,22 1452,22 1447.5,26.8" fill="#c0c0c0"/>
<rect x="1094.5" y="62.5" width="73" height="24" fill="#fff" stroke="#ff0000" stroke-width="1"/>
<text x="1095.5" y="83.2" font-family="'Liberation Sans', Arial, sans-serif" font-size="22px" fill="#ff0000" textLength="71.0" lengthAdjust="spacingAndGlyphs" shape-rendering="auto">30040.8</text>
<rect x="1084" y="74" width="7" height="1" fill="#ff0000"/>
<rect x="1091.5" y="72.5" width="2" height="3" fill="#fff" stroke="#ff0000"/>
<rect x="876.5" y="174.5" width="61" height="18" fill="#fff" stroke="#ff0000" stroke-width="1"/>
<text x="878.3" y="190.2" font-family="'Liberation Sans', Arial, sans-serif" font-size="16.8px" fill="#ff0000" textLength="58.0" lengthAdjust="spacingAndGlyphs" shape-rendering="auto">28848.7</text>
<rect x="938" y="183" width="10" height="1" fill="#ff0000"/>
<rect x="1004.5" y="438.5" width="61" height="18" fill="#fff" stroke="#ff0000" stroke-width="1"/>
<text x="1006.3" y="454.3" font-family="'Liberation Sans', Arial, sans-serif" font-size="16.8px" fill="#ff0000" textLength="58.2" lengthAdjust="spacingAndGlyphs" shape-rendering="auto">25948.6</text>
<rect x="1066" y="447" width="10" height="1" fill="#ff0000"/>
<rect x="1356.5" y="131.5" width="61" height="18" fill="#fff" stroke="#ff0000" stroke-width="1"/>
<text x="1358.3" y="147.3" font-family="'Liberation Sans', Arial, sans-serif" font-size="16.8px" fill="#ff0000" textLength="58.0" lengthAdjust="spacingAndGlyphs" shape-rendering="auto">29317.2</text>
<rect x="1417.5" y="138.5" width="3" height="3" fill="#fff" stroke="#ff0000"/>
<rect x="1421" y="140" width="7" height="1" fill="#ff0000"/>
<rect x="3" y="474" width="1" height="69" fill="#000"/>
<rect x="1.5" y="474.5" width="4" height="62" fill="#fff" stroke="#000" stroke-width="1"/>
<rect x="11" y="462" width="1" height="44" fill="#000"/>
<rect x="9" y="475" width="5" height="30" fill="#000"/>
<rect x="19" y="490" width="1" height="45" fill="#000"/>
<rect x="17.5" y="490.5" width="4" height="13" fill="#fff" stroke="#000" stroke-width="1"/>
<rect x="27" y="511" width="1" height="10" fill="#000"/>
<rect x="25.5" y="512.5" width="4" height="4" fill="#fff" stroke="#000" stroke-width="1"/>
<rect x="35" y="487" width="1" height="31" fill="#000"/>
<rect x="33.5" y="504.5" width="4" height="7" fill="#fff" stroke="#000" stroke-width="1"/>
<rect x="43" y="459" width="1" height="49" fill="#000"/>
<rect x="41.5" y="460.5" width="4" height="44" fill="#fff" stroke="#000" stroke-width="1"/>
<rect x="51" y="411" width="1" height="54" fill="#000"/>
<rect x="49.5" y="414.5" width="4" height="46" fill="#fff" stroke="#000" stroke-width="1"/>
<rect x="59" y="409" width="1" height="30" fill="#000"/>
<rect x="57" y="414" width="5" height="9" fill="#000"/>
<rect x="67" y="322" width="1" height="103" fill="#000"/>
<rect x="65.5" y="345.5" width="4" height="78" fill="#fff" stroke="#000" stroke-width="1"/>
<rect x="75" y="324" width="1" height="11" fill="#000"/>
<rect x="73.5" y="329.5" width="4" height="4" fill="#fff" stroke="#000" stroke-width="1"/>
<rect x="83" y="299" width="1" height="52" fill="#000"/>
<rect x="81.5" y="303.5" width="4" height="26" fill="#fff" stroke="#000" stroke-width="1"/>
<rect x="91" y="295" width="1" height="47" fill="#000"/>
<rect x="89" y="302" width="5" height="20" fill="#000"/>
<rect x="99" y="307" width="1" height="72" fill="#000"/>
<rect x="97" y="319" width="5" height="59" fill="#000"/>
<rect x="107" y="362" width="1" height="168" fill="#000"/>
<rect x="105" y="375" width="5" height="127" fill="#000"/>
<rect x="115" y="447" width="1" height="83" fill="#000"/>
<rect x="113.5" y="485.5" width="4" height="14" fill="#fff" stroke="#000" stroke-width="1"/>
<rect x="123" y="506" width="1" height="17" fill="#000"/>
<rect x="121" y="507" width="5" height="8" fill="#000"/>
<rect x="131" y="437" width="1" height="139" fill="#000"/>
<rect x="129.5" y="438.5" width="4" height="77" fill="#fff" stroke="#000" stroke-width="1"/>
<rect x="139" y="372" width="1" height="92" fill="#000"/>
<rect x="137.5" y="420.5" width="4" height="17" fill="#fff" stroke="#000" stroke-width="1"/>
<rect x="147" y="398" width="1" height="59" fill="#000"/>
<rect x="145" y="420" width="5" height="36" fill="#000"/>
<rect x="155" y="429" width="1" height="50" fill="#000"/>
<rect x="153.5" y="436.5" width="4" height="19" fill="#fff" stroke="#000" stroke-width="1"/>
<rect x="163" y="414" width="1" height="74" fill="#000"/>
<rect x="161" y="436" width="5" height="51" fill="#000"/>
<rect x="171" y="490" width="1" height="13" fill="#000"/>
<rect x="169" y="492" width="5" height="1" fill="#000"/>
<rect x="179" y="433" width="1" height="65" fill="#000"/>
<rect x="177.5" y="436.5" width="4" height="55" fill="#fff" stroke="#000" stroke-width="1"/>
<rect x="187" y="416" width="1" height="73" fill="#000"/>
<rect x="185" y="437" width="5" height="10" fill="#000"/>
<rect x="195" y="432" width="1" height="89" fill="#000"/>
<rect x="193" y="445" width="5" height="64" fill="#000"/>
<rect x="203" y="474" width="1" height="61" fill="#000"/>
<rect x="201.5" y="484.5" width="4" height="21" fill="#fff" stroke="#000" stroke-width="1"/>
<rect x="211" y="474" width="1" height="76" fill="#000"/>
<rect x="209" y="485" width="5" height="53" fill="#000"/>
<rect x="219" y="541" width="1" height="13" fill="#000"/>
<rect x="217.5" y="545.5" width="4" height="3" fill="#fff" stroke="#000" stroke-width="1"/>
<rect x="227" y="479" width="1" height="72" fill="#000"/>
<rect x="225.5" y="484.5" width="4" height="60" fill="#fff" stroke="#000" stroke-width="1"/>
<rect x="235" y="463" width="1" height="45" fill="#000"/>
<rect x="233.5" y="478.5" width="4" height="6" fill="#fff" stroke="#000" stroke-width="1"/>
<rect x="243" y="452" width="1" height="49" fill="#000"/>
<rect x="241" y="478" width="5" height="4" fill="#000"/>
<rect x="251" y="435" width="1" height="54" fill="#000"/>
<rect x="249.5" y="466.5" width="4" height="16" fill="#fff" stroke="#000" stroke-width="1"/>
<rect x="259" y="454" width="1" height="42" fill="#000"/>
<rect x="257" y="467" width="5" height="11" fill="#000"/>
<rect x="267" y="457" width="1" height="9" fill="#000"/>
<rect x="265.5" y="458.5" width="4" height="3" fill="#fff" stroke="#000" stroke-width="1"/>
<rect x="275" y="421" width="1" height="40" fill="#000"/>
<rect x="273.5" y="423.5" width="4" height="36" fill="#fff" stroke="#000" stroke-width="1"/>
<rect x="283" y="417" width="1" height="51" fill="#000"/>
<rect x="281" y="424" width="5" height="36" fill="#000"/>
<rect x="291" y="440" width="1" height="35" fill="#000"/>
<rect x="289.5" y="444.5" width="4" height="15" fill="#fff" stroke="#000" stroke-width="1"/>
<rect x="299" y="441" width="1" height="57" fill="#000"/>
<rect x="297" y="443" width="5" height="31" fill="#000"/>
<rect x="307" y="444" width="1" height="65" fill="#000"/>
<rect x="305.5" y="445.5" width="4" height="27" fill="#fff" stroke="#000" stroke-width="1"/>
<rect x="315" y="430" width="1" height="9" fill="#000"/>
<rect x="313" y="431" width="5" height="7" fill="#000"/>
<rect x="323" y="395" width="1" height="57" fill="#000"/>
<rect x="321" y="437" width="5" height="4" fill="#000"/>
<rect x="331" y="368" width="1" height="88" fill="#000"/>
<rect x="329.5" y="373.5" width="4" height="67" fill="#fff" stroke="#000" stroke-width="1"/>
<rect x="339" y="346" width="1" height="46" fill="#000"/>
<rect x="337" y="373" width="5" height="2" fill="#000"/>
<rect x="347" y="373" width="1" height="29" fill="#000"/>
<rect x="345" y="374" width="5" height="14" fill="#000"/>
<rect x="355" y="377" width="1" height="21" fill="#000"/>
<rect x="353" y="386" width="5" height="12" fill="#000"/>
<rect x="363" y="388" width="1" height="7" fill="#000"/>
<rect x="361.5" y="388.5" width="4" height="5" fill="#fff" stroke="#000" stroke-width="1"/>
<rect x="371" y="383" width="1" height="32" fill="#000"/>
<rect x="369.5" y="387.5" width="4" height="2" fill="#fff" stroke="#000" stroke-width="1"/>
<rect x="379" y="359" width="1" height="30" fill="#000"/>
<rect x="377.5" y="371.5" width="4" height="17" fill="#fff" stroke="#000" stroke-width="1"/>
<rect x="387" y="358" width="1" height="39" fill="#000"/>
<rect x="385.5" y="367.5" width="4" height="5" fill="#fff" stroke="#000" stroke-width="1"/>
<rect x="395" y="346" width="1" height="58" fill="#000"/>
<rect x="393" y="366" width="5" height="28" fill="#000"/>
<rect x="403" y="387" width="1" height="30" fill="#000"/>
<rect x="401" y="392" width="5" height="23" fill="#000"/>
<rect x="411" y="411" width="1" height="12" fill="#000"/>
<rect x="409" y="416" width="5" height="1" fill="#000"/>
<rect x="419" y="393" width="1" height="25" fill="#000"/>
<rect x="417.5" y="395.5" width="4" height="21" fill="#fff" stroke="#000" stroke-width="1"/>
<rect x="427" y="388" width="1" height="33" fill="#000"/>
<rect x="425" y="395" width="5" height="20" fill="#000"/>
<rect x="435" y="397" width="1" height="30" fill="#000"/>
<rect x="433.5" y="404.5" width="4" height="10" fill="#fff" stroke="#000" stroke-width="1"/>
<rect x="443" y="402" width="1" height="53" fill="#000"/>
<rect x="441" y="404" width="5" height="3" fill="#000"/>
<rect x="451" y="404" width="1" height="49" fill="#000"/>
<rect x="449" y="406" width="5" height="8" fill="#000"/>
<rect x="459" y="412" width="1" height="10" fill="#000"/>
<rect x="457.5" y="413.5" width="4" height="2" fill="#fff" stroke="#000" stroke-width="1"/>
<rect x="467" y="388" width="1" height="38" fill="#000"/>
<rect x="465.5" y="391.5" width="4" height="22" fill="#fff" stroke="#000" stroke-width="1"/>
<rect x="475" y="374" width="1" height="31" fill="#000"/>
<rect x="473.5" y="376.5" width="4" height="15" fill="#fff" stroke="#000" stroke-width="1"/>
<rect x="483" y="341" width="1" height="43" fill="#000"/>
<rect x="481.5" y="343.5" width="4" height="34" fill="#fff" stroke="#000" stroke-width="1"/>
<rect x="491" y="324" width="1" height="36" fill="#000"/>
<rect x="489.5" y="328.5" width="4" height="16" fill="#fff" stroke="#000" stroke-width="1"/>
<rect x="499" y="318" width="1" height="26" fill="#000"/>
<rect x="497.5" y="321.5" width="4" height="7" fill="#fff" stroke="#000" stroke-width="1"/>
<rect x="507" y="322" width="1" height="6" fill="#000"/>
<rect x="505.5" y="323.5" width="4" height="3" fill="#fff" stroke="#000" stroke-width="1"/>
<rect x="515" y="287" width="1" height="39" fill="#000"/>
<rect x="513.5" y="289.5" width="4" height="34" fill="#fff" stroke="#000" stroke-width="1"/>
<rect x="523" y="255" width="1" height="50" fill="#000"/>
<rect x="521" y="289" width="5" height="3" fill="#000"/>
<rect x="531" y="264" width="1" height="34" fill="#000"/>
<rect x="529.5" y="271.5" width="4" height="20" fill="#fff" stroke="#000" stroke-width="1"/>
<rect x="539" y="267" width="1" height="22" fill="#000"/>
<rect x="537" y="271" width="5" height="1" fill="#000"/>
<rect x="547" y="269" width="1" height="30" fill="#000"/>
<rect x="545" y="271" width="5" height="9" fill="#000"/>
<rect x="555" y="271" width="1" height="6" fill="#000"/>
<rect x="553.5" y="272.5" width="4" height="3" fill="#fff" stroke="#000" stroke-width="1"/>
<rect x="563" y="267" width="1" height="19" fill="#000"/>
<rect x="561" y="272" width="5" height="6" fill="#000"/>
<rect x="571" y="269" width="1" height="30" fill="#000"/>
<rect x="569" y="276" width="5" height="11" fill="#000"/>
<rect x="579" y="274" width="1" height="28" fill="#000"/>
<rect x="577" y="285" width="5" height="17" fill="#000"/>
<rect x="587" y="283" width="1" height="35" fill="#000"/>
<rect x="585.5" y="284.5" width="4" height="16" fill="#fff" stroke="#000" stroke-width="1"/>
<rect x="595" y="269" width="1" height="41" fill="#000"/>
<rect x="593.5" y="273.5" width="4" height="11" fill="#fff" stroke="#000" stroke-width="1"/>
<rect x="603" y="265" width="1" height="7" fill="#000"/>
<rect x="601" y="267" width="5" height="4" fill="#000"/>
<rect x="611" y="234" width="1" height="39" fill="#000"/>
<rect x="609.5" y="234.5" width="4" height="36" fill="#fff" stroke="#000" stroke-width="1"/>
<rect x="619" y="217" width="1" height="41" fill="#000"/>
<rect x="617" y="234" width="5" height="11" fill="#000"/>
<rect x="627" y="230" width="1" height="24" fill="#000"/>
<rect x="625.5" y="233.5" width="4" height="10" fill="#fff" stroke="#000" stroke-width="1"/>
<rect x="635" y="207" width="1" height="39" fill="#000"/>
<rect x="633.5" y="212.5" width="4" height="21" fill="#fff" stroke="#000" stroke-width="1"/>
<rect x="643" y="195" width="1" height="27" fill="#000"/>
<rect x="641.5" y="205.5" width="4" height="8" fill="#fff" stroke="#000" stroke-width="1"/>
<rect x="651" y="192" width="1" height="7" fill="#000"/>
<rect x="649.5" y="192.5" width="4" height="6" fill="#fff" stroke="#000" stroke-width="1"/>
<rect x="659" y="189" width="1" height="45" fill="#000"/>
<rect x="657" y="192" width="5" height="31" fill="#000"/>
<rect x="667" y="198" width="1" height="41" fill="#000"/>
<rect x="665.5" y="198.5" width="4" height="25" fill="#fff" stroke="#000" stroke-width="1"/>
<rect x="675" y="156" width="1" height="48" fill="#000"/>
<rect x="673.5" y="158.5" width="4" height="41" fill="#fff" stroke="#000" stroke-width="1"/>
<rect x="683" y="153" width="1" height="105" fill="#000"/>
<rect x="681" y="159" width="5" height="90" fill="#000"/>
<rect x="691" y="206" width="1" height="89" fill="#000"/>
<rect x="689" y="246" width="5" height="9" fill="#000"/>
<rect x="699" y="248" width="1" height="12" fill="#000"/>
<rect x="697" y="255" width="5" height="2" fill="#000"/>
<rect x="707" y="228" width="1" height="38" fill="#000"/>
<rect x="705.5" y="231.5" width="4" height="23" fill="#fff" stroke="#000" stroke-width="1"/>
<rect x="715" y="224" width="1" height="112" fill="#000"/>
<rect x="713" y="231" width="5" height="84" fill="#000"/>
<rect x="723" y="243" width="1" height="77" fill="#000"/>
<rect x="721.5" y="257.5" width="4" height="57" fill="#fff" stroke="#000" stroke-width="1"/>
<rect x="731" y="246" width="1" height="67" fill="#000"/>
<rect x="729" y="259" width="5" height="39" fill="#000"/>
<rect x="739" y="276" width="1" height="37" fill="#000"/>
<rect x="737" y="295" width="5" height="1" fill="#000"/>
<rect x="747" y="277" width="1" height="8" fill="#000"/>
<rect x="745.5" y="278.5" width="4" height="2" fill="#fff" stroke="#000" stroke-width="1"/>
<rect x="755" y="253" width="1" height="30" fill="#000"/>
<rect x="753.5" y="259.5" width="4" height="19" fill="#fff" stroke="#000" stroke-width="1"/>
<rect x="763" y="238" width="1" height="37" fill="#000"/>
<rect x="761" y="259" width="5" height="14" fill="#000"/>
<rect x="771" y="238" width="1" height="39" fill="#000"/>
<rect x="769.5" y="266.5" width="4" height="5" fill="#fff" stroke="#000" stroke-width="1"/>
<rect x="779" y="265" width="1" height="50" fill="#000"/>
<rect x="777" y="266" width="5" height="14" fill="#000"/>
<rect x="787" y="274" width="1" height="46" fill="#000"/>
<rect x="785" y="280" width="5" height="17" fill="#000"/>
<rect x="795" y="295" width="1" height="11" fill="#000"/>
<rect x="793.5" y="299.5" width="4" height="4" fill="#fff" stroke="#000" stroke-width="1"/>
<rect x="803" y="291" width="1" height="99" fill="#000"/>
<rect x="801" y="299" width="5" height="44" fill="#000"/>
<rect x="811" y="329" width="1" height="36" fill="#000"/>
<rect x="809.5" y="329.5" width="4" height="12" fill="#fff" stroke="#000" stroke-width="1"/>
<rect x="819" y="316" width="1" height="80" fill="#000"/>
<rect x="817" y="329" width="5" height="61" fill="#000"/>
<rect x="827" y="354" width="1" height="52" fill="#000"/>
<rect x="825.5" y="367.5" width="4" height="23" fill="#fff" stroke="#000" stroke-width="1"/>
<rect x="835" y="341" width="1" height="65" fill="#000"/>
<rect x="833.5" y="347.5" width="4" height="20" fill="#fff" stroke="#000" stroke-width="1"/>
<rect x="843" y="338" width="1" height="5" fill="#000"/>
<rect x="841" y="339" width="5" height="3" fill="#000"/>
<rect x="851" y="297" width="1" height="47" fill="#000"/>
<rect x="849.5" y="300.5" width="4" height="40" fill="#fff" stroke="#000" stroke-width="1"/>
<rect x="859" y="295" width="1" height="38" fill="#000"/>
<rect x="857" y="301" width="5" height="13" fill="#000"/>
<rect x="867" y="269" width="1" height="81" fill="#000"/>
<rect x="865.5" y="281.5" width="4" height="32" fill="#fff" stroke="#000" stroke-width="1"/>
<rect x="875" y="264" width="1" height="40" fill="#000"/>
<rect x="873" y="281" width="5" height="10" fill="#000"/>
<rect x="883" y="285" width="1" height="57" fill="#000"/>
<rect x="881" y="290" width="5" height="11" fill="#000"/>
<rect x="891" y="281" width="1" height="9" fill="#000"/>
<rect x="889.5" y="283.5" width="4" height="5" fill="#fff" stroke="#000" stroke-width="1"/>
<rect x="899" y="257" width="1" height="36" fill="#000"/>
<rect x="897.5" y="261.5" width="4" height="22" fill="#fff" stroke="#000" stroke-width="1"/>
<rect x="907" y="239" width="1" height="66" fill="#000"/>
<rect x="905" y="261" width="5" height="34" fill="#000"/>
<rect x="915" y="238" width="1" height="58" fill="#000"/>
<rect x="913.5" y="239.5" width="4" height="55" fill="#fff" stroke="#000" stroke-width="1"/>
<rect x="923" y="218" width="1" height="31" fill="#000"/>
<rect x="921.5" y="220.5" width="4" height="19" fill="#fff" stroke="#000" stroke-width="1"/>
<rect x="931" y="209" width="1" height="23" fill="#000"/>
<rect x="929.5" y="213.5" width="4" height="8" fill="#fff" stroke="#000" stroke-width="1"/>
<rect x="939" y="214" width="1" height="6" fill="#000"/>
<rect x="937" y="215" width="5" height="3" fill="#000"/>
<rect x="947" y="183" width="1" height="39" fill="#000"/>
<rect x="945.5" y="189.5" width="4" height="28" fill="#fff" stroke="#000" stroke-width="1"/>
<rect x="955" y="188" width="1" height="29" fill="#000"/>
<rect x="953" y="189" width="5" height="16" fill="#000"/>
<rect x="963" y="194" width="1" height="36" fill="#000"/>
<rect x="961" y="204" width="5" height="18" fill="#000"/>
<rect x="971" y="218" width="1" height="40" fill="#000"/>
<rect x="969" y="221" width="5" height="1" fill="#000"/>
<rect x="979" y="194" width="1" height="37" fill="#000"/>
<rect x="977" y="221" width="5" height="4" fill="#000"/>
<rect x="987" y="212" width="1" height="5" fill="#000"/>
<rect x="985" y="214" width="5" height="1" fill="#000"/>
<rect x="995" y="200" width="1" height="59" fill="#000"/>
<rect x="993" y="214" width="5" height="27" fill="#000"/>
<rect x="1003" y="218" width="1" height="39" fill="#000"/>
<rect x="1001.5" y="236.5" width="4" height="4" fill="#fff" stroke="#000" stroke-width="1"/>
<rect x="1011" y="226" width="1" height="45" fill="#000"/>
<rect x="1009" y="236" width="5" height="26" fill="#000"/>
<rect x="1019" y="230" width="1" height="40" fill="#000"/>
<rect x="1017.5" y="234.5" width="4" height="27" fill="#fff" stroke="#000" stroke-width="1"/>
<rect x="1027" y="225" width="1" height="32" fill="#000"/>
<rect x="1025" y="234" width="5" height="10" fill="#000"/>
<rect x="1035" y="250" width="1" height="9" fill="#000"/>
<rect x="1033.5" y="252.5" width="4" height="6" fill="#fff" stroke="#000" stroke-width="1"/>
<rect x="1043" y="249" width="1" height="80" fill="#000"/>
<rect x="1041" y="253" width="5" height="49" fill="#000"/>
<rect x="1051" y="287" width="1" height="49" fill="#000"/>
<rect x="1049" y="301" width="5" height="30" fill="#000"/>
<rect x="1059" y="328" width="1" height="80" fill="#000"/>
<rect x="1057" y="330" width="5" height="62" fill="#000"/>
<rect x="1067" y="369" width="1" height="59" fill="#000"/>
<rect x="1065" y="391" width="5" height="17" fill="#000"/>
<rect x="1075" y="395" width="1" height="53" fill="#000"/>
<rect x="1073.5" y="403.5" width="4" height="3" fill="#fff" stroke="#000" stroke-width="1"/>
<rect x="1083" y="403" width="1" height="25" fill="#000"/>
<rect x="1081" y="410" width="5" height="9" fill="#000"/>
<rect x="1091" y="357" width="1" height="67" fill="#000"/>
<rect x="1089.5" y="362.5" width="4" height="56" fill="#fff" stroke="#000" stroke-width="1"/>
<rect x="1099" y="290" width="1" height="78" fill="#000"/>
<rect x="1097.5" y="300.5" width="4" height="62" fill="#fff" stroke="#000" stroke-width="1"/>
<rect x="1107" y="243" width="1" height="118" fill="#000"/>
<rect x="1105.5" y="288.5" width="4" height="11" fill="#fff" stroke="#000" stroke-width="1"/>
<rect x="1115" y="225" width="1" height="67" fill="#000"/>
<rect x="1113.5" y="239.5" width="4" height="50" fill="#fff" stroke="#000" stroke-width="1"/>
<rect x="1123" y="219" width="1" height="46" fill="#000"/>
<rect x="1121" y="239" width="5" height="1" fill="#000"/>
<rect x="1131" y="208" width="1" height="25" fill="#000"/>
<rect x="1129.5" y="215.5" width="4" height="10" fill="#fff" stroke="#000" stroke-width="1"/>
<rect x="1139" y="79" width="1" height="140" fill="#000"/>
<rect x="1137.5" y="162.5" width="4" height="53" fill="#fff" stroke="#000" stroke-width="1"/>
<rect x="1147" y="132" width="1" height="58" fill="#000"/>
<rect x="1145.5" y="142.5" width="4" height="20" fill="#fff" stroke="#000" stroke-width="1"/>
<rect x="1155" y="118" width="1" height="37" fill="#000"/>
<rect x="1153" y="142" width="5" height="1" fill="#000"/>
<rect x="1163" y="139" width="1" height="48" fill="#000"/>
<rect x="1161" y="143" width="5" height="25" fill="#000"/>
<rect x="1171" y="126" width="1" height="57" fill="#000"/>
<rect x="1169.5" y="133.5" width="4" height="34" fill="#fff" stroke="#000" stroke-width="1"/>
<rect x="1179" y="111" width="1" height="19" fill="#000"/>
<rect x="1177.5" y="114.5" width="4" height="15" fill="#fff" stroke="#000" stroke-width="1"/>
<rect x="1187" y="79" width="1" height="42" fill="#000"/>
<rect x="1185.5" y="90.5" width="4" height="24" fill="#fff" stroke="#000" stroke-width="1"/>
<rect x="1195" y="91" width="1" height="38" fill="#000"/>
<rect x="1193" y="91" width="5" height="11" fill="#000"/>
<rect x="1203" y="88" width="1" height="52" fill="#000"/>
<rect x="1201" y="102" width="5" height="33" fill="#000"/>
<rect x="1211" y="126" width="1" height="31" fill="#000"/>
<rect x="1209" y="136" width="5" height="20" fill="#000"/>
<rect x="1219" y="129" width="1" height="30" fill="#000"/>
<rect x="1217" y="154" width="5" height="5" fill="#000"/>
<rect x="1227" y="148" width="1" height="11" fill="#000"/>
<rect x="1225.5" y="148.5" width="4" height="10" fill="#fff" stroke="#000" stroke-width="1"/>
<rect x="1235" y="101" width="1" height="50" fill="#000"/>
<rect x="1233.5" y="106.5" width="4" height="43" fill="#fff" stroke="#000" stroke-width="1"/>
<rect x="1243" y="72" width="1" height="37" fill="#000"/>
<rect x="1241.5" y="73.5" width="4" height="33" fill="#fff" stroke="#000" stroke-width="1"/>
<rect x="1251" y="63" width="1" height="38" fill="#000"/>
<rect x="1249" y="74" width="5" height="19" fill="#000"/>
<rect x="1259" y="87" width="1" height="18" fill="#000"/>
<rect x="1257" y="92" width="5" height="9" fill="#000"/>
<rect x="1267" y="80" width="1" height="27" fill="#000"/>
<rect x="1265.5" y="88.5" width="4" height="12" fill="#fff" stroke="#000" stroke-width="1"/>
<rect x="1275" y="81" width="1" height="10" fill="#000"/>
<rect x="1273" y="86" width="5" height="3" fill="#000"/>
<rect x="1283" y="88" width="1" height="43" fill="#000"/>
<rect x="1281" y="88" width="5" height="16" fill="#000"/>
<rect x="1291" y="73" width="1" height="34" fill="#000"/>
<rect x="1289" y="101" width="5" height="3" fill="#000"/>
<rect x="1299" y="86" width="1" height="31" fill="#000"/>
<rect x="1297.5" y="91.5" width="4" height="10" fill="#fff" stroke="#000" stroke-width="1"/>
<rect x="1307" y="70" width="1" height="32" fill="#000"/>
<rect x="1305.5" y="81.5" width="4" height="11" fill="#fff" stroke="#000" stroke-width="1"/>
<rect x="1315" y="59" width="1" height="24" fill="#000"/>
<rect x="1313.5" y="64.5" width="4" height="17" fill="#fff" stroke="#000" stroke-width="1"/>
<rect x="1323" y="54" width="1" height="9" fill="#000"/>
<rect x="1321.5" y="58.5" width="4" height="4" fill="#fff" stroke="#000" stroke-width="1"/>
<rect x="1331" y="58" width="1" height="25" fill="#000"/>
<rect x="1329" y="58" width="5" height="22" fill="#000"/>
<rect x="1339" y="54" width="1" height="39" fill="#000"/>
<rect x="1337.5" y="60.5" width="4" height="19" fill="#fff" stroke="#000" stroke-width="1"/>
<rect x="1347" y="50" width="1" height="35" fill="#000"/>
<rect x="1345" y="61" width="5" height="10" fill="#000"/>
<rect x="1355" y="65" width="1" height="27" fill="#000"/>
<rect x="1353.5" y="70.5" width="4" height="4" fill="#fff" stroke="#000" stroke-width="1"/>
<rect x="1363" y="70" width="1" height="35" fill="#000"/>
<rect x="1361" y="73" width="5" height="2" fill="#000"/>
<rect x="1371" y="57" width="1" height="10" fill="#000"/>
<rect x="1369.5" y="62.5" width="4" height="4" fill="#fff" stroke="#000" stroke-width="1"/>
<rect x="1379" y="49" width="1" height="44" fill="#000"/>
<rect x="1377" y="61" width="5" height="24" fill="#000"/>
<rect x="1387" y="56" width="1" height="38" fill="#000"/>
<rect x="1385.5" y="68.5" width="4" height="16" fill="#fff" stroke="#000" stroke-width="1"/>
<rect x="1395" y="58" width="1" height="22" fill="#000"/>
<rect x="1393" y="68" width="5" height="5" fill="#000"/>
<rect x="1403" y="56" width="1" height="17" fill="#000"/>
<rect x="1401.5" y="61.5" width="4" height="9" fill="#fff" stroke="#000" stroke-width="1"/>
<rect x="1411" y="55" width="1" height="32" fill="#000"/>
<rect x="1409" y="62" width="5" height="5" fill="#000"/>
<rect x="1419" y="49" width="1" height="19" fill="#000"/>
<rect x="1417" y="51" width="5" height="15" fill="#000"/>
<rect x="1427" y="59" width="1" height="82" fill="#000"/>
<rect x="1425" y="64" width="5" height="8" fill="#000"/>
<rect x="1435" y="65" width="1" height="25" fill="#000"/>
<rect x="1433" y="70" width="5" height="18" fill="#000"/>
</g>
<g clip-path="url(#cm)">
<line x1="1222.5" y1="147.5" x2="1414" y2="58.5" stroke="#ff0000" stroke-width="3.4" shape-rendering="crispEdges"/>
<polygon points="1424,54 1411.5,55.5 1418,64.5" fill="#ff0000" shape-rendering="crispEdges"/>
<polyline points="1421,55 1424.5,56.5 1430.5,95" fill="none" stroke="#ff0000" stroke-width="3.4" shape-rendering="crispEdges" stroke-linejoin="round"/>
<polygon points="1425,93.5 1435.2,92.2 1431.3,105" fill="#ff0000" shape-rendering="crispEdges"/>
<rect x="1351" y="71" width="112" height="6" fill="#00ff00"/>
<rect x="1524.5" y="78.5" width="110" height="24" fill="none" stroke="#333" stroke-width="1"/>
<rect x="1577.5" y="76.5" width="2" height="2" fill="none" stroke="#ff40ff" stroke-width="1" shape-rendering="crispEdges"/>
<text x="1526" y="96.8" font-family="'Liberation Sans', 'Noto Sans CJK SC', sans-serif" font-size="20px" fill="#00ff00" textLength="105" lengthAdjust="spacingAndGlyphs" font-weight="300">多空转折点</text>
</g>
<polygon points="0,31.5 2.5,28.5 5,31.5" fill="#000"/>
<text transform="translate(10.5,33) scale(0.943,1)" font-family="'Liberation Sans', Arial, sans-serif" font-size="9.95px" fill="#000" xml:space="preserve">DJ30-,Daily  30084.0 30146.0 29877.0 29902.0</text>
<rect x="1687" y="41" width="41" height="11" fill="#ff0000"/>
<text transform="translate(1690.5,49.5) scale(0.917,1)" font-family="'Liberation Sans', Arial, sans-serif" font-size="9.95px" fill="#fff" >30346.5</text>
<rect x="1687" y="54" width="41" height="11" fill="#ff0000"/>
<text transform="translate(1690.5,62.5) scale(0.917,1)" font-family="'Liberation Sans', Arial, sans-serif" font-size="9.95px" fill="#fff" >30194.3</text>
<rect x="1687" y="68" width="41" height="11" fill="#32cd32"/>
<text transform="translate(1690.5,76.5) scale(0.917,1)" font-family="'Liberation Sans', Arial, sans-serif" font-size="9.95px" fill="#fff" >30040.8</text>
<rect x="1687" y="82" width="41" height="11" fill="#000000"/>
<text transform="translate(1690.5,90.5) scale(0.917,1)" font-family="'Liberation Sans', Arial, sans-serif" font-size="9.95px" fill="#fff" >29902.0</text>
<rect x="1687" y="97" width="41" height="11" fill="#0000ff"/>
<text transform="translate(1690.5,105.5) scale(0.917,1)" font-family="'Liberation Sans', Arial, sans-serif" font-size="9.95px" fill="#fff" >29722.9</text>
<rect x="1687" y="110" width="41" height="11" fill="#0000ff"/>
<text transform="translate(1690.5,118.5) scale(0.917,1)" font-family="'Liberation Sans', Arial, sans-serif" font-size="9.95px" fill="#fff" >29580.3</text>
<g clip-path="url(#cmacd)" shape-rendering="crispEdges">
<rect x="3" y="652" width="1" height="45" fill="#c0c0c0"/>
<rect x="11" y="649" width="1" height="48" fill="#c0c0c0"/>
<rect x="19" y="646" width="1" height="51" fill="#c0c0c0"/>
<rect x="27" y="646" width="1" height="51" fill="#c0c0c0"/>
<rect x="35" y="645" width="1" height="52" fill="#c0c0c0"/>
<rect x="43" y="641" width="1" height="56" fill="#c0c0c0"/>
<rect x="51" y="634" width="1" height="63" fill="#c0c0c0"/>
<rect x="59" y="631" width="1" height="66" fill="#c0c0c0"/>
<rect x="67" y="621" width="1" height="76" fill="#c0c0c0"/>
<rect x="75" y="612" width="1" height="85" fill="#c0c0c0"/>
<rect x="83" y="604" width="1" height="93" fill="#c0c0c0"/>
<rect x="91" y="600" width="1" height="97" fill="#c0c0c0"/>
<rect x="99" y="604" width="1" height="93" fill="#c0c0c0"/>
<rect x="107" y="620" width="1" height="77" fill="#c0c0c0"/>
<rect x="115" y="632" width="1" height="65" fill="#c0c0c0"/>
<rect x="123" y="645" width="1" height="52" fill="#c0c0c0"/>
<rect x="131" y="648" width="1" height="49" fill="#c0c0c0"/>
<rect x="139" y="650" width="1" height="47" fill="#c0c0c0"/>
<rect x="147" y="655" width="1" height="42" fill="#c0c0c0"/>
<rect x="155" y="657" width="1" height="40" fill="#c0c0c0"/>
<rect x="163" y="664" width="1" height="33" fill="#c0c0c0"/>
<rect x="171" y="671" width="1" height="26" fill="#c0c0c0"/>
<rect x="179" y="671" width="1" height="26" fill="#c0c0c0"/>
<rect x="187" y="672" width="1" height="25" fill="#c0c0c0"/>
<rect x="195" y="680" width="1" height="17" fill="#c0c0c0"/>
<rect x="203" y="683" width="1" height="14" fill="#c0c0c0"/>
<rect x="211" y="692" width="1" height="5" fill="#c0c0c0"/>
<rect x="219" y="696" width="1" height="3" fill="#c0c0c0"/>
<rect x="227" y="696" width="1" height="2" fill="#c0c0c0"/>
<rect x="235" y="696" width="1" height="2" fill="#c0c0c0"/>
<rect x="243" y="696" width="1" height="1" fill="#c0c0c0"/>
<rect x="251" y="695" width="1" height="2" fill="#c0c0c0"/>
<rect x="259" y="695" width="1" height="2" fill="#c0c0c0"/>
<rect x="267" y="693" width="1" height="4" fill="#c0c0c0"/>
<rect x="275" y="688" width="1" height="9" fill="#c0c0c0"/>
<rect x="283" y="687" width="1" height="10" fill="#c0c0c0"/>
<rect x="291" y="686" width="1" height="11" fill="#c0c0c0"/>
<rect x="299" y="688" width="1" height="9" fill="#c0c0c0"/>
<rect x="307" y="686" width="1" height="11" fill="#c0c0c0"/>
<rect x="315" y="684" width="1" height="13" fill="#c0c0c0"/>
<rect x="323" y="684" width="1" height="13" fill="#c0c0c0"/>
<rect x="331" y="676" width="1" height="21" fill="#c0c0c0"/>
<rect x="339" y="671" width="1" height="26" fill="#c0c0c0"/>
<rect x="347" y="669" width="1" height="28" fill="#c0c0c0"/>
<rect x="355" y="668" width="1" height="29" fill="#c0c0c0"/>
<rect x="363" y="667" width="1" height="30" fill="#c0c0c0"/>
<rect x="371" y="666" width="1" height="31" fill="#c0c0c0"/>
<rect x="379" y="664" width="1" height="33" fill="#c0c0c0"/>
<rect x="387" y="663" width="1" height="34" fill="#c0c0c0"/>
<rect x="395" y="665" width="1" height="32" fill="#c0c0c0"/>
<rect x="403" y="669" width="1" height="28" fill="#c0c0c0"/>
<rect x="411" y="672" width="1" height="25" fill="#c0c0c0"/>
<rect x="419" y="673" width="1" height="24" fill="#c0c0c0"/>
<rect x="427" y="676" width="1" height="21" fill="#c0c0c0"/>
<rect x="435" y="678" width="1" height="19" fill="#c0c0c0"/>
<rect x="443" y="679" width="1" height="18" fill="#c0c0c0"/>
<rect x="451" y="681" width="1" height="16" fill="#c0c0c0"/>
<rect x="459" y="683" width="1" height="14" fill="#c0c0c0"/>
<rect x="467" y="682" width="1" height="15" fill="#c0c0c0"/>
<rect x="475" y="681" width="1" height="16" fill="#c0c0c0"/>
<rect x="483" y="676" width="1" height="21" fill="#c0c0c0"/>
<rect x="491" y="672" width="1" height="25" fill="#c0c0c0"/>
<rect x="499" y="667" width="1" height="30" fill="#c0c0c0"/>
<rect x="507" y="665" width="1" height="32" fill="#c0c0c0"/>
<rect x="515" y="660" width="1" height="37" fill="#c0c0c0"/>
<rect x="523" y="656" width="1" height="41" fill="#c0c0c0"/>
<rect x="531" y="652" width="1" height="45" fill="#c0c0c0"/>
<rect x="539" y="649" width="1" height="48" fill="#c0c0c0"/>
<rect x="547" y="649" width="1" height="48" fill="#c0c0c0"/>
<rect x="555" y="648" width="1" height="49" fill="#c0c0c0"/>
<rect x="563" y="648" width="1" height="49" fill="#c0c0c0"/>
<rect x="571" y="650" width="1" height="47" fill="#c0c0c0"/>
<rect x="579" y="653" width="1" height="44" fill="#c0c0c0"/>
<rect x="587" y="655" width="1" height="42" fill="#c0c0c0"/>
<rect x="595" y="655" width="1" height="42" fill="#c0c0c0"/>
<rect x="603" y="656" width="1" height="41" fill="#c0c0c0"/>
<rect x="611" y="653" width="1" height="44" fill="#c0c0c0"/>
<rect x="619" y="653" width="1" height="44" fill="#c0c0c0"/>
<rect x="627" y="652" width="1" height="45" fill="#c0c0c0"/>
<rect x="635" y="649" width="1" height="48" fill="#c0c0c0"/>
<rect x="643" y="647" width="1" height="50" fill="#c0c0c0"/>
<rect x="651" y="645" width="1" height="52" fill="#c0c0c0"/>
<rect x="659" y="647" width="1" height="50" fill="#c0c0c0"/>
<rect x="667" y="646" width="1" height="51" fill="#c0c0c0"/>
<rect x="675" y="643" width="1" height="54" fill="#c0c0c0"/>
<rect x="683" y="649" width="1" height="48" fill="#c0c0c0"/>
<rect x="691" y="655" width="1" height="42" fill="#c0c0c0"/>
<rect x="699" y="661" width="1" height="36" fill="#c0c0c0"/>
<rect x="707" y="663" width="1" height="34" fill="#c0c0c0"/>
<rect x="715" y="674" width="1" height="23" fill="#c0c0c0"/>
<rect x="723" y="676" width="1" height="21" fill="#c0c0c0"/>
<rect x="731" y="683" width="1" height="14" fill="#c0c0c0"/>
<rect x="739" y="687" width="1" height="10" fill="#c0c0c0"/>
<rect x="747" y="690" width="1" height="7" fill="#c0c0c0"/>
<rect x="755" y="690" width="1" height="7" fill="#c0c0c0"/>
<rect x="763" y="691" width="1" height="6" fill="#c0c0c0"/>
<rect x="771" y="692" width="1" height="5" fill="#c0c0c0"/>
<rect x="779" y="693" width="1" height="4" fill="#c0c0c0"/>
<rect x="795" y="696" width="1" height="3" fill="#c0c0c0"/>
<rect x="803" y="696" width="1" height="9" fill="#c0c0c0"/>
<rect x="811" y="696" width="1" height="13" fill="#c0c0c0"/>
<rect x="819" y="696" width="1" height="21" fill="#c0c0c0"/>
<rect x="827" y="696" width="1" height="26" fill="#c0c0c0"/>
<rect x="835" y="696" width="1" height="27" fill="#c0c0c0"/>
<rect x="843" y="696" width="1" height="27" fill="#c0c0c0"/>
<rect x="851" y="696" width="1" height="22" fill="#c0c0c0"/>
<rect x="859" y="696" width="1" height="20" fill="#c0c0c0"/>
<rect x="867" y="696" width="1" height="15" fill="#c0c0c0"/>
<rect x="875" y="696" width="1" height="11" fill="#c0c0c0"/>
<rect x="883" y="696" width="1" height="9" fill="#c0c0c0"/>
<rect x="891" y="696" width="1" height="6" fill="#c0c0c0"/>
<rect x="899" y="696" width="1" height="2" fill="#c0c0c0"/>
<rect x="907" y="696" width="1" height="1" fill="#c0c0c0"/>
<rect x="915" y="691" width="1" height="6" fill="#c0c0c0"/>
<rect x="923" y="685" width="1" height="12" fill="#c0c0c0"/>
<rect x="931" y="679" width="1" height="18" fill="#c0c0c0"/>
<rect x="939" y="676" width="1" height="21" fill="#c0c0c0"/>
<rect x="947" y="670" width="1" height="27" fill="#c0c0c0"/>
<rect x="955" y="668" width="1" height="29" fill="#c0c0c0"/>
<rect x="963" y="668" width="1" height="29" fill="#c0c0c0"/>
<rect x="971" y="668" width="1" height="29" fill="#c0c0c0"/>
<rect x="979" y="669" width="1" height="28" fill="#c0c0c0"/>
<rect x="987" y="669" width="1" height="28" fill="#c0c0c0"/>
<rect x="995" y="672" width="1" height="25" fill="#c0c0c0"/>
<rect x="1003" y="674" width="1" height="23" fill="#c0c0c0"/>
<rect x="1011" y="678" width="1" height="19" fill="#c0c0c0"/>
<rect x="1019" y="679" width="1" height="18" fill="#c0c0c0"/>
<rect x="1027" y="681" width="1" height="16" fill="#c0c0c0"/>
<rect x="1035" y="684" width="1" height="13" fill="#c0c0c0"/>
<rect x="1043" y="691" width="1" height="6" fill="#c0c0c0"/>
<rect x="1051" y="696" width="1" height="3" fill="#c0c0c0"/>
<rect x="1059" y="696" width="1" height="15" fill="#c0c0c0"/>
<rect x="1067" y="696" width="1" height="26" fill="#c0c0c0"/>
<rect x="1075" y="696" width="1" height="34" fill="#c0c0c0"/>
<rect x="1083" y="696" width="1" height="42" fill="#c0c0c0"/>
<rect x="1091" y="696" width="1" height="42" fill="#c0c0c0"/>
<rect x="1099" y="696" width="1" height="35" fill="#c0c0c0"/>
<rect x="1107" y="696" width="1" height="28" fill="#c0c0c0"/>
<rect x="1115" y="696" width="1" height="18" fill="#c0c0c0"/>
<rect x="1123" y="696" width="1" height="9" fill="#c0c0c0"/>
<rect x="1139" y="684" width="1" height="13" fill="#c0c0c0"/>
<rect x="1147" y="673" width="1" height="24" fill="#c0c0c0"/>
<rect x="1155" y="664" width="1" height="33" fill="#c0c0c0"/>
<rect x="1163" y="660" width="1" height="37" fill="#c0c0c0"/>
<rect x="1171" y="654" width="1" height="43" fill="#c0c0c0"/>
<rect x="1179" y="648" width="1" height="49" fill="#c0c0c0"/>
<rect x="1187" y="641" width="1" height="56" fill="#c0c0c0"/>
<rect x="1195" y="638" width="1" height="59" fill="#c0c0c0"/>
<rect x="1203" y="639" width="1" height="58" fill="#c0c0c0"/>
<rect x="1211" y="642" width="1" height="55" fill="#c0c0c0"/>
<rect x="1219" y="646" width="1" height="51" fill="#c0c0c0"/>
<rect x="1227" y="649" width="1" height="48" fill="#c0c0c0"/>
<rect x="1235" y="647" width="1" height="50" fill="#c0c0c0"/>
<rect x="1243" y="643" width="1" height="54" fill="#c0c0c0"/>
<rect x="1251" y="643" width="1" height="54" fill="#c0c0c0"/>
<rect x="1259" y="644" width="1" height="53" fill="#c0c0c0"/>
<rect x="1267" y="644" width="1" height="53" fill="#c0c0c0"/>
<rect x="1275" y="644" width="1" height="53" fill="#c0c0c0"/>
<rect x="1283" y="647" width="1" height="50" fill="#c0c0c0"/>
<rect x="1291" y="650" width="1" height="47" fill="#c0c0c0"/>
<rect x="1299" y="651" width="1" height="46" fill="#c0c0c0"/>
<rect x="1307" y="652" width="1" height="45" fill="#c0c0c0"/>
<rect x="1315" y="651" width="1" height="46" fill="#c0c0c0"/>
<rect x="1323" y="650" width="1" height="47" fill="#c0c0c0"/>
<rect x="1331" y="652" width="1" height="45" fill="#c0c0c0"/>
<rect x="1339" y="653" width="1" height="44" fill="#c0c0c0"/>
<rect x="1347" y="654" width="1" height="43" fill="#c0c0c0"/>
<rect x="1355" y="656" width="1" height="41" fill="#c0c0c0"/>
<rect x="1363" y="658" width="1" height="39" fill="#c0c0c0"/>
<rect x="1371" y="660" width="1" height="37" fill="#c0c0c0"/>
<rect x="1379" y="663" width="1" height="34" fill="#c0c0c0"/>
<rect x="1387" y="664" width="1" height="33" fill="#c0c0c0"/>
<rect x="1395" y="666" width="1" height="31" fill="#c0c0c0"/>
<rect x="1403" y="667" width="1" height="30" fill="#c0c0c0"/>
<rect x="1411" y="668" width="1" height="29" fill="#c0c0c0"/>
<rect x="1419" y="670" width="1" height="27" fill="#c0c0c0"/>
<rect x="1427" y="672" width="1" height="25" fill="#c0c0c0"/>
<rect x="1435" y="675" width="1" height="22" fill="#c0c0c0"/>
<rect x="0" y="592" width="128" height="11" fill="#fff"/>
<path d="M111 618h1v1h-1zM115 618h3v1h-3zM105 619h1v1h-1zM109 619h2v1h-2zM121 619h3v1h-3zM103 620h2v1h-2zM127 620h2v1h-2zM99 621h1v1h-1zM129 621h1v1h-1zM97 622h2v1h-2zM133 622h2v1h-2zM135 623h1v1h-1zM139 624h1v1h-1zM92 625h2v1h-2zM140 625h2v1h-2zM91 626h1v1h-1zM87 628h1v1h-1zM145 628h2v1h-2zM86 629h1v1h-1zM147 629h1v1h-1zM85 630h1v1h-1zM81 632h1v1h-1zM151 632h1v1h-1zM79 633h2v1h-2zM152 633h1v1h-1zM153 634h1v1h-1zM75 636h1v1h-1zM73 637h2v1h-2zM157 637h1v1h-1zM158 638h1v1h-1zM159 639h1v1h-1zM68 640h2v1h-2zM67 641h1v1h-1zM163 642h1v1h-1zM62 643h2v1h-2zM164 643h1v1h-1zM1247 643h3v1h-3zM1253 643h3v1h-3zM1259 643h3v1h-3zM61 644h1v1h-1zM165 644h1v1h-1zM1241 644h3v1h-3zM1265 644h3v1h-3zM1231 645h1v1h-1zM1235 645h3v1h-3zM1271 645h3v1h-3zM1277 645h3v1h-3zM1283 645h3v1h-3zM56 646h2v1h-2zM1225 646h1v1h-1zM1229 646h2v1h-2zM1289 646h3v1h-3zM1295 646h3v1h-3zM1301 646h3v1h-3zM1307 646h3v1h-3zM55 647h1v1h-1zM169 647h1v1h-1zM1223 647h2v1h-2zM1313 647h3v1h-3zM170 648h1v1h-1zM673 648h3v1h-3zM679 648h3v1h-3zM685 648h3v1h-3zM691 648h3v1h-3zM1218 648h2v1h-2zM1319 648h3v1h-3zM1325 648h2v1h-2zM50 649h2v1h-2zM171 649h1v1h-1zM669 649h1v1h-1zM697 649h3v1h-3zM1217 649h1v1h-1zM1327 649h1v1h-1zM1331 649h3v1h-3zM49 650h1v1h-1zM663 650h1v1h-1zM667 650h2v1h-2zM703 650h2v1h-2zM1213 650h1v1h-1zM1337 650h3v1h-3zM45 651h1v1h-1zM583 651h3v1h-3zM589 651h3v1h-3zM595 651h3v1h-3zM601 651h3v1h-3zM655 651h3v1h-3zM661 651h2v1h-2zM705 651h1v1h-1zM1211 651h2v1h-2zM1343 651h3v1h-3zM1349 651h2v1h-2zM43 652h2v1h-2zM175 652h1v1h-1zM577 652h3v1h-3zM607 652h3v1h-3zM613 652h3v1h-3zM619 652h3v1h-3zM649 652h3v1h-3zM709 652h2v1h-2zM1351 652h1v1h-1zM1355 652h3v1h-3zM176 653h1v1h-1zM571 653h3v1h-3zM625 653h3v1h-3zM631 653h3v1h-3zM637 653h3v1h-3zM643 653h3v1h-3zM711 653h1v1h-1zM1207 653h1v1h-1zM1361 653h3v1h-3zM38 654h2v1h-2zM177 654h1v1h-1zM565 654h3v1h-3zM715 654h2v1h-2zM1206 654h1v1h-1zM1367 654h3v1h-3zM1373 654h2v1h-2zM37 655h1v1h-1zM717 655h1v1h-1zM1205 655h1v1h-1zM1375 655h1v1h-1zM1379 655h2v1h-2zM33 656h1v1h-1zM181 656h1v1h-1zM559 656h3v1h-3zM721 656h1v1h-1zM1381 656h1v1h-1zM31 657h2v1h-2zM182 657h2v1h-2zM722 657h2v1h-2zM1201 657h1v1h-1zM1385 657h3v1h-3zM26 658h2v1h-2zM554 658h2v1h-2zM1200 658h1v1h-1zM1391 658h2v1h-2zM25 659h1v1h-1zM187 659h1v1h-1zM553 659h1v1h-1zM727 659h1v1h-1zM1199 659h1v1h-1zM1393 659h1v1h-1zM1397 659h2v1h-2zM21 660h1v1h-1zM188 660h2v1h-2zM549 660h1v1h-1zM728 660h2v1h-2zM1399 660h1v1h-1zM1403 660h2v1h-2zM19 661h2v1h-2zM547 661h2v1h-2zM1405 661h1v1h-1zM15 662h1v1h-1zM193 662h1v1h-1zM543 662h1v1h-1zM733 662h1v1h-1zM1195 662h1v1h-1zM1409 662h3v1h-3zM13 663h2v1h-2zM194 663h2v1h-2zM541 663h2v1h-2zM734 663h1v1h-1zM1194 663h1v1h-1zM1415 663h2v1h-2zM735 664h1v1h-1zM1193 664h1v1h-1zM1417 664h1v1h-1zM1421 664h2v1h-2zM8 665h2v1h-2zM199 665h1v1h-1zM536 665h2v1h-2zM1423 665h1v1h-1zM1427 665h2v1h-2zM7 666h1v1h-1zM200 666h2v1h-2zM535 666h1v1h-1zM739 666h1v1h-1zM1429 666h1v1h-1zM399 667h1v1h-1zM403 667h3v1h-3zM409 667h3v1h-3zM415 667h3v1h-3zM421 667h2v1h-2zM740 667h2v1h-2zM1189 667h1v1h-1zM1433 667h3v1h-3zM2 668h2v1h-2zM205 668h1v1h-1zM393 668h1v1h-1zM397 668h2v1h-2zM423 668h1v1h-1zM427 668h2v1h-2zM530 668h2v1h-2zM1188 668h1v1h-1zM1 669h1v1h-1zM206 669h1v1h-1zM391 669h2v1h-2zM429 669h1v1h-1zM529 669h1v1h-1zM1187 669h1v1h-1zM207 670h1v1h-1zM385 670h3v1h-3zM433 670h3v1h-3zM525 670h1v1h-1zM745 670h2v1h-2zM999 670h1v1h-1zM1003 670h3v1h-3zM381 671h1v1h-1zM439 671h3v1h-3zM523 671h2v1h-2zM747 671h1v1h-1zM991 671h3v1h-3zM997 671h2v1h-2zM1009 671h3v1h-3zM211 672h1v1h-1zM379 672h2v1h-2zM445 672h3v1h-3zM519 672h1v1h-1zM986 672h2v1h-2zM1015 672h3v1h-3zM1021 672h2v1h-2zM212 673h2v1h-2zM375 673h1v1h-1zM451 673h2v1h-2zM517 673h2v1h-2zM751 673h1v1h-1zM985 673h1v1h-1zM1023 673h1v1h-1zM1027 673h2v1h-2zM1183 673h1v1h-1zM373 674h2v1h-2zM453 674h1v1h-1zM513 674h1v1h-1zM752 674h2v1h-2zM981 674h1v1h-1zM1029 674h1v1h-1zM1182 674h1v1h-1zM369 675h1v1h-1zM457 675h3v1h-3zM511 675h2v1h-2zM979 675h2v1h-2zM1033 675h3v1h-3zM1181 675h1v1h-1zM217 676h2v1h-2zM367 676h2v1h-2zM463 676h2v1h-2zM505 676h3v1h-3zM757 676h1v1h-1zM975 676h1v1h-1zM1039 676h2v1h-2zM219 677h1v1h-1zM361 677h3v1h-3zM465 677h1v1h-1zM469 677h2v1h-2zM501 677h1v1h-1zM758 677h2v1h-2zM973 677h2v1h-2zM1041 677h1v1h-1zM357 678h1v1h-1zM471 678h1v1h-1zM475 678h3v1h-3zM495 678h1v1h-1zM499 678h2v1h-2zM1045 678h1v1h-1zM223 679h1v1h-1zM355 679h2v1h-2zM481 679h3v1h-3zM487 679h3v1h-3zM493 679h2v1h-2zM763 679h1v1h-1zM967 679h3v1h-3zM1046 679h2v1h-2zM1177 679h1v1h-1zM224 680h2v1h-2zM349 680h3v1h-3zM764 680h2v1h-2zM1176 680h1v1h-1zM345 681h1v1h-1zM962 681h2v1h-2zM1051 681h1v1h-1zM1175 681h1v1h-1zM229 682h1v1h-1zM343 682h2v1h-2zM769 682h1v1h-1zM961 682h1v1h-1zM1052 682h2v1h-2zM230 683h2v1h-2zM338 683h2v1h-2zM770 683h2v1h-2zM337 684h1v1h-1zM956 684h2v1h-2zM1057 684h1v1h-1zM235 685h2v1h-2zM333 685h1v1h-1zM775 685h3v1h-3zM955 685h1v1h-1zM1058 685h2v1h-2zM1172 685h1v1h-1zM237 686h1v1h-1zM331 686h2v1h-2zM1171 686h1v1h-1zM241 687h1v1h-1zM325 687h3v1h-3zM781 687h2v1h-2zM950 687h2v1h-2zM1170 687h1v1h-1zM242 688h2v1h-2zM319 688h3v1h-3zM783 688h1v1h-1zM949 688h1v1h-1zM1063 688h1v1h-1zM247 689h2v1h-2zM313 689h3v1h-3zM787 689h2v1h-2zM1064 689h1v1h-1zM249 690h1v1h-1zM309 690h1v1h-1zM789 690h1v1h-1zM944 690h2v1h-2zM1065 690h1v1h-1zM253 691h2v1h-2zM303 691h1v1h-1zM307 691h2v1h-2zM793 691h3v1h-3zM943 691h1v1h-1zM1167 691h1v1h-1zM255 692h1v1h-1zM295 692h3v1h-3zM301 692h2v1h-2zM1166 692h1v1h-1zM259 693h3v1h-3zM289 693h3v1h-3zM799 693h3v1h-3zM938 693h2v1h-2zM1069 693h2v1h-2zM1165 693h1v1h-1zM265 694h3v1h-3zM279 694h1v1h-1zM283 694h3v1h-3zM937 694h1v1h-1zM1071 694h1v1h-1zM271 695h3v1h-3zM277 695h2v1h-2zM805 695h3v1h-3zM811 696h2v1h-2zM932 696h2v1h-2zM813 697h1v1h-1zM931 697h1v1h-1zM1075 697h1v1h-1zM1161 697h1v1h-1zM817 698h1v1h-1zM1076 698h1v1h-1zM1160 698h1v1h-1zM818 699h2v1h-2zM926 699h2v1h-2zM1077 699h1v1h-1zM1159 699h1v1h-1zM925 700h1v1h-1zM823 701h1v1h-1zM824 702h2v1h-2zM920 702h2v1h-2zM1081 702h1v1h-1zM919 703h1v1h-1zM1082 703h1v1h-1zM1155 703h1v1h-1zM829 704h2v1h-2zM1083 704h1v1h-1zM1154 704h1v1h-1zM831 705h1v1h-1zM914 705h2v1h-2zM1153 705h1v1h-1zM835 706h1v1h-1zM913 706h1v1h-1zM836 707h2v1h-2zM1087 707h1v1h-1zM908 708h2v1h-2zM1088 708h1v1h-1zM841 709h1v1h-1zM907 709h1v1h-1zM1089 709h1v1h-1zM1149 709h1v1h-1zM842 710h2v1h-2zM901 710h3v1h-3zM1148 710h1v1h-1zM847 711h2v1h-2zM1147 711h1v1h-1zM849 712h1v1h-1zM895 712h3v1h-3zM1093 712h2v1h-2zM853 713h2v1h-2zM1095 713h1v1h-1zM855 714h1v1h-1zM889 714h3v1h-3zM1143 714h1v1h-1zM859 715h3v1h-3zM885 715h1v1h-1zM1142 715h1v1h-1zM865 716h3v1h-3zM871 716h3v1h-3zM877 716h3v1h-3zM883 716h2v1h-2zM1099 716h1v1h-1zM1141 716h1v1h-1zM1100 717h2v1h-2zM1105 719h1v1h-1zM1136 719h2v1h-2zM1106 720h2v1h-2zM1135 720h1v1h-1zM1111 722h3v1h-3zM1129 722h3v1h-3zM1117 723h2v1h-2zM1125 723h1v1h-1zM1119 724h1v1h-1zM1123 724h2v1h-2z" fill="#ff0000"/>
</g>
<text transform="translate(0,603) scale(0.945,1)" font-family="'Liberation Sans', Arial, sans-serif" font-size="9.95px" fill="#000" >MACD(12,26,9) 190.47 259.28</text>
<line x1="1195.5" y1="627" x2="1440" y2="663.5" stroke="#00ff00" stroke-width="3.4" shape-rendering="crispEdges"/>
<polygon points="1449.5,665.4 1439.5,658.8 1438.5,669" fill="#00ff00" shape-rendering="crispEdges"/>
<g clip-path="url(#crsi)" shape-rendering="crispEdges">
<line x1="0" y1="784.5" x2="1685" y2="784.5" stroke="#c0c0c0" stroke-width="1" stroke-dasharray="3 3" stroke-dashoffset="4"/>
<line x1="0" y1="835.5" x2="1685" y2="835.5" stroke="#c0c0c0" stroke-width="1" stroke-dasharray="3 3" stroke-dashoffset="4"/>
<line x1="0" y1="896.5" x2="1685" y2="896.5" stroke="#c0c0c0" stroke-width="1" stroke-dasharray="3 3" stroke-dashoffset="4"/>
<path d="M650 789h2v1h-2zM82 790h2v1h-2zM647 790h3v1h-3zM651 790h1v1h-1zM79 791h3v1h-3zM84 791h1v1h-1zM645 791h2v1h-2zM652 791h1v1h-1zM77 792h2v1h-2zM85 792h2v1h-2zM639 792h6v1h-6zM652 792h1v1h-1zM71 793h6v1h-6zM87 793h1v1h-1zM635 793h4v1h-4zM653 793h1v1h-1zM675 793h1v1h-1zM67 794h4v1h-4zM88 794h1v1h-1zM530 794h10v1h-10zM633 794h2v1h-2zM653 794h1v1h-1zM674 794h2v1h-2zM66 795h1v1h-1zM89 795h2v1h-2zM528 795h2v1h-2zM540 795h2v1h-2zM611 795h1v1h-1zM632 795h1v1h-1zM654 795h1v1h-1zM673 795h1v1h-1zM675 795h1v1h-1zM65 796h1v1h-1zM91 796h1v1h-1zM526 796h2v1h-2zM542 796h1v1h-1zM610 796h1v1h-1zM612 796h1v1h-1zM631 796h1v1h-1zM654 796h1v1h-1zM672 796h1v1h-1zM676 796h1v1h-1zM65 797h1v1h-1zM92 797h1v1h-1zM515 797h4v1h-4zM524 797h2v1h-2zM543 797h2v1h-2zM553 797h3v1h-3zM609 797h1v1h-1zM613 797h1v1h-1zM629 797h2v1h-2zM654 797h1v1h-1zM671 797h1v1h-1zM676 797h1v1h-1zM64 798h1v1h-1zM92 798h1v1h-1zM514 798h1v1h-1zM519 798h5v1h-5zM545 798h2v1h-2zM549 798h4v1h-4zM556 798h2v1h-2zM609 798h1v1h-1zM614 798h1v1h-1zM628 798h1v1h-1zM655 798h1v1h-1zM671 798h1v1h-1zM676 798h1v1h-1zM63 799h1v1h-1zM93 799h1v1h-1zM513 799h1v1h-1zM547 799h2v1h-2zM558 799h2v1h-2zM608 799h1v1h-1zM615 799h2v1h-2zM626 799h2v1h-2zM655 799h1v1h-1zM670 799h1v1h-1zM676 799h1v1h-1zM1186 799h2v1h-2zM62 800h1v1h-1zM93 800h1v1h-1zM512 800h1v1h-1zM560 800h2v1h-2zM607 800h1v1h-1zM617 800h1v1h-1zM623 800h3v1h-3zM656 800h1v1h-1zM669 800h1v1h-1zM677 800h1v1h-1zM1184 800h2v1h-2zM1188 800h2v1h-2zM61 801h1v1h-1zM94 801h1v1h-1zM511 801h1v1h-1zM562 801h2v1h-2zM606 801h1v1h-1zM618 801h1v1h-1zM621 801h2v1h-2zM656 801h1v1h-1zM668 801h1v1h-1zM677 801h1v1h-1zM1182 801h2v1h-2zM1190 801h2v1h-2zM51 802h2v1h-2zM61 802h1v1h-1zM94 802h1v1h-1zM511 802h1v1h-1zM564 802h1v1h-1zM605 802h1v1h-1zM619 802h2v1h-2zM656 802h1v1h-1zM667 802h1v1h-1zM677 802h1v1h-1zM1180 802h2v1h-2zM1192 802h2v1h-2zM49 803h2v1h-2zM53 803h4v1h-4zM60 803h1v1h-1zM95 803h1v1h-1zM510 803h1v1h-1zM565 803h2v1h-2zM605 803h1v1h-1zM657 803h1v1h-1zM665 803h2v1h-2zM677 803h1v1h-1zM1178 803h2v1h-2zM1194 803h2v1h-2zM48 804h1v1h-1zM57 804h3v1h-3zM95 804h1v1h-1zM497 804h4v1h-4zM509 804h1v1h-1zM567 804h1v1h-1zM604 804h1v1h-1zM657 804h1v1h-1zM664 804h1v1h-1zM677 804h1v1h-1zM1146 804h10v1h-10zM1175 804h3v1h-3zM1196 804h1v1h-1zM3 805h1v1h-1zM47 805h1v1h-1zM96 805h1v1h-1zM493 805h4v1h-4zM501 805h4v1h-4zM508 805h1v1h-1zM568 805h1v1h-1zM599 805h5v1h-5zM658 805h1v1h-1zM663 805h1v1h-1zM678 805h1v1h-1zM1143 805h3v1h-3zM1156 805h1v1h-1zM1173 805h2v1h-2zM1196 805h1v1h-1zM1243 805h1v1h-1zM2 806h1v1h-1zM4 806h1v1h-1zM45 806h2v1h-2zM96 806h1v1h-1zM490 806h3v1h-3zM505 806h3v1h-3zM569 806h2v1h-2zM594 806h5v1h-5zM658 806h1v1h-1zM661 806h2v1h-2zM678 806h1v1h-1zM1141 806h2v1h-2zM1157 806h1v1h-1zM1171 806h2v1h-2zM1197 806h1v1h-1zM1241 806h2v1h-2zM1244 806h1v1h-1zM1319 806h5v1h-5zM2 807h1v1h-1zM5 807h1v1h-1zM44 807h1v1h-1zM97 807h1v1h-1zM488 807h2v1h-2zM571 807h1v1h-1zM592 807h2v1h-2zM659 807h2v1h-2zM678 807h1v1h-1zM1139 807h2v1h-2zM1158 807h1v1h-1zM1169 807h2v1h-2zM1198 807h1v1h-1zM1240 807h1v1h-1zM1245 807h1v1h-1zM1315 807h4v1h-4zM1324 807h1v1h-1zM1 808h1v1h-1zM6 808h1v1h-1zM43 808h1v1h-1zM97 808h1v1h-1zM486 808h2v1h-2zM572 808h1v1h-1zM590 808h2v1h-2zM659 808h1v1h-1zM678 808h1v1h-1zM1138 808h1v1h-1zM1159 808h1v1h-1zM1168 808h1v1h-1zM1198 808h1v1h-1zM1239 808h1v1h-1zM1246 808h1v1h-1zM1313 808h2v1h-2zM1325 808h1v1h-1zM0 809h1v1h-1zM7 809h1v1h-1zM42 809h1v1h-1zM98 809h1v1h-1zM484 809h2v1h-2zM573 809h1v1h-1zM588 809h2v1h-2zM678 809h1v1h-1zM1137 809h1v1h-1zM1160 809h1v1h-1zM1167 809h1v1h-1zM1199 809h1v1h-1zM1237 809h2v1h-2zM1247 809h2v1h-2zM1311 809h2v1h-2zM1325 809h1v1h-1zM7 810h1v1h-1zM41 810h1v1h-1zM98 810h1v1h-1zM483 810h1v1h-1zM574 810h1v1h-1zM587 810h1v1h-1zM679 810h1v1h-1zM1136 810h1v1h-1zM1161 810h1v1h-1zM1165 810h2v1h-2zM1200 810h1v1h-1zM1236 810h1v1h-1zM1249 810h1v1h-1zM1310 810h1v1h-1zM1326 810h1v1h-1zM8 811h1v1h-1zM18 811h2v1h-2zM40 811h1v1h-1zM99 811h1v1h-1zM482 811h1v1h-1zM575 811h1v1h-1zM585 811h2v1h-2zM679 811h1v1h-1zM947 811h1v1h-1zM1135 811h1v1h-1zM1162 811h1v1h-1zM1164 811h1v1h-1zM1200 811h1v1h-1zM1235 811h1v1h-1zM1250 811h1v1h-1zM1308 811h2v1h-2zM1327 811h1v1h-1zM1339 811h1v1h-1zM9 812h1v1h-1zM15 812h3v1h-3zM20 812h1v1h-1zM39 812h1v1h-1zM99 812h1v1h-1zM481 812h1v1h-1zM575 812h1v1h-1zM584 812h1v1h-1zM679 812h1v1h-1zM945 812h2v1h-2zM948 812h2v1h-2zM1135 812h1v1h-1zM1163 812h1v1h-1zM1201 812h1v1h-1zM1234 812h1v1h-1zM1251 812h2v1h-2zM1265 812h11v1h-11zM1305 812h3v1h-3zM1328 812h1v1h-1zM1337 812h2v1h-2zM1340 812h2v1h-2zM10 813h1v1h-1zM13 813h2v1h-2zM21 813h1v1h-1zM38 813h1v1h-1zM99 813h1v1h-1zM481 813h1v1h-1zM576 813h1v1h-1zM583 813h1v1h-1zM679 813h1v1h-1zM944 813h1v1h-1zM950 813h1v1h-1zM1134 813h1v1h-1zM1202 813h1v1h-1zM1233 813h1v1h-1zM1253 813h4v1h-4zM1261 813h4v1h-4zM1276 813h1v1h-1zM1301 813h4v1h-4zM1329 813h1v1h-1zM1335 813h2v1h-2zM1342 813h1v1h-1zM11 814h2v1h-2zM22 814h1v1h-1zM37 814h1v1h-1zM100 814h1v1h-1zM480 814h1v1h-1zM577 814h1v1h-1zM581 814h2v1h-2zM680 814h1v1h-1zM943 814h1v1h-1zM951 814h2v1h-2zM1133 814h1v1h-1zM1202 814h1v1h-1zM1232 814h1v1h-1zM1257 814h4v1h-4zM1277 814h2v1h-2zM1298 814h3v1h-3zM1329 814h1v1h-1zM1334 814h1v1h-1zM1343 814h2v1h-2zM1370 814h2v1h-2zM23 815h2v1h-2zM36 815h1v1h-1zM100 815h1v1h-1zM331 815h9v1h-9zM383 815h5v1h-5zM479 815h1v1h-1zM578 815h1v1h-1zM580 815h1v1h-1zM680 815h1v1h-1zM941 815h2v1h-2zM953 815h2v1h-2zM1132 815h1v1h-1zM1203 815h1v1h-1zM1231 815h1v1h-1zM1279 815h1v1h-1zM1296 815h2v1h-2zM1330 815h1v1h-1zM1332 815h2v1h-2zM1345 815h2v1h-2zM1368 815h2v1h-2zM1372 815h1v1h-1zM25 816h1v1h-1zM33 816h3v1h-3zM100 816h1v1h-1zM330 816h1v1h-1zM340 816h2v1h-2zM378 816h5v1h-5zM388 816h1v1h-1zM478 816h1v1h-1zM579 816h1v1h-1zM680 816h1v1h-1zM927 816h8v1h-8zM940 816h1v1h-1zM955 816h1v1h-1zM1131 816h1v1h-1zM1204 816h1v1h-1zM1231 816h1v1h-1zM1280 816h1v1h-1zM1294 816h2v1h-2zM1331 816h1v1h-1zM1347 816h10v1h-10zM1366 816h2v1h-2zM1372 816h1v1h-1zM26 817h1v1h-1zM29 817h4v1h-4zM101 817h1v1h-1zM330 817h1v1h-1zM342 817h2v1h-2zM376 817h2v1h-2zM389 817h1v1h-1zM477 817h1v1h-1zM680 817h1v1h-1zM922 817h5v1h-5zM935 817h5v1h-5zM956 817h1v1h-1zM1129 817h2v1h-2zM1205 817h1v1h-1zM1230 817h1v1h-1zM1281 817h2v1h-2zM1292 817h2v1h-2zM1357 817h4v1h-4zM1364 817h2v1h-2zM1373 817h1v1h-1zM1402 817h3v1h-3zM27 818h2v1h-2zM101 818h1v1h-1zM329 818h1v1h-1zM344 818h2v1h-2zM374 818h2v1h-2zM389 818h1v1h-1zM477 818h1v1h-1zM680 818h1v1h-1zM920 818h2v1h-2zM957 818h2v1h-2zM1127 818h2v1h-2zM1206 818h1v1h-1zM1229 818h1v1h-1zM1283 818h9v1h-9zM1361 818h3v1h-3zM1374 818h1v1h-1zM1400 818h2v1h-2zM1405 818h2v1h-2zM101 819h1v1h-1zM329 819h1v1h-1zM346 819h3v1h-3zM372 819h2v1h-2zM390 819h1v1h-1zM476 819h1v1h-1zM681 819h1v1h-1zM918 819h2v1h-2zM959 819h1v1h-1zM1126 819h1v1h-1zM1207 819h2v1h-2zM1228 819h1v1h-1zM1375 819h1v1h-1zM1387 819h2v1h-2zM1398 819h2v1h-2zM1407 819h3v1h-3zM101 820h1v1h-1zM328 820h1v1h-1zM349 820h2v1h-2zM361 820h11v1h-11zM391 820h1v1h-1zM475 820h1v1h-1zM681 820h1v1h-1zM916 820h2v1h-2zM960 820h1v1h-1zM1124 820h2v1h-2zM1209 820h1v1h-1zM1225 820h3v1h-3zM1375 820h1v1h-1zM1385 820h2v1h-2zM1389 820h4v1h-4zM1396 820h2v1h-2zM1410 820h11v1h-11zM102 821h1v1h-1zM328 821h1v1h-1zM351 821h3v1h-3zM357 821h4v1h-4zM392 821h1v1h-1zM473 821h2v1h-2zM681 821h1v1h-1zM915 821h1v1h-1zM961 821h2v1h-2zM986 821h2v1h-2zM1115 821h9v1h-9zM1210 821h1v1h-1zM1221 821h4v1h-4zM1376 821h1v1h-1zM1384 821h1v1h-1zM1393 821h3v1h-3zM1421 821h2v1h-2zM102 822h1v1h-1zM327 822h1v1h-1zM354 822h3v1h-3zM393 822h1v1h-1zM471 822h2v1h-2zM681 822h1v1h-1zM914 822h1v1h-1zM963 822h10v1h-10zM983 822h3v1h-3zM988 822h1v1h-1zM1114 822h1v1h-1zM1211 822h10v1h-10zM1377 822h1v1h-1zM1383 822h1v1h-1zM1423 822h3v1h-3zM102 823h1v1h-1zM275 823h1v1h-1zM326 823h1v1h-1zM393 823h1v1h-1zM470 823h1v1h-1zM681 823h1v1h-1zM914 823h1v1h-1zM973 823h4v1h-4zM981 823h2v1h-2zM989 823h1v1h-1zM1114 823h1v1h-1zM1378 823h1v1h-1zM1381 823h2v1h-2zM1426 823h2v1h-2zM103 824h1v1h-1zM274 824h1v1h-1zM276 824h1v1h-1zM326 824h1v1h-1zM394 824h1v1h-1zM468 824h2v1h-2zM682 824h1v1h-1zM899 824h1v1h-1zM913 824h1v1h-1zM977 824h4v1h-4zM989 824h1v1h-1zM1113 824h1v1h-1zM1378 824h1v1h-1zM1380 824h1v1h-1zM1428 824h1v1h-1zM103 825h1v1h-1zM137 825h3v1h-3zM273 825h1v1h-1zM277 825h1v1h-1zM325 825h1v1h-1zM395 825h1v1h-1zM467 825h1v1h-1zM682 825h1v1h-1zM707 825h1v1h-1zM897 825h2v1h-2zM900 825h1v1h-1zM913 825h1v1h-1zM990 825h1v1h-1zM1112 825h1v1h-1zM1379 825h1v1h-1zM1429 825h1v1h-1zM103 826h1v1h-1zM133 826h4v1h-4zM140 826h1v1h-1zM271 826h2v1h-2zM278 826h1v1h-1zM325 826h1v1h-1zM396 826h1v1h-1zM419 826h1v1h-1zM466 826h1v1h-1zM682 826h1v1h-1zM706 826h2v1h-2zM896 826h1v1h-1zM900 826h1v1h-1zM912 826h1v1h-1zM991 826h1v1h-1zM1111 826h1v1h-1zM1429 826h1v1h-1zM104 827h1v1h-1zM131 827h2v1h-2zM141 827h2v1h-2zM270 827h1v1h-1zM279 827h1v1h-1zM324 827h1v1h-1zM397 827h1v1h-1zM418 827h1v1h-1zM420 827h1v1h-1zM465 827h1v1h-1zM682 827h1v1h-1zM705 827h1v1h-1zM708 827h1v1h-1zM895 827h1v1h-1zM901 827h1v1h-1zM912 827h1v1h-1zM992 827h1v1h-1zM1111 827h1v1h-1zM1430 827h1v1h-1zM104 828h1v1h-1zM130 828h1v1h-1zM143 828h1v1h-1zM154 828h2v1h-2zM179 828h2v1h-2zM269 828h1v1h-1zM279 828h1v1h-1zM311 828h8v1h-8zM324 828h1v1h-1zM398 828h1v1h-1zM417 828h1v1h-1zM421 828h1v1h-1zM464 828h1v1h-1zM683 828h1v1h-1zM704 828h1v1h-1zM708 828h1v1h-1zM893 828h2v1h-2zM902 828h1v1h-1zM911 828h1v1h-1zM993 828h1v1h-1zM1110 828h1v1h-1zM1431 828h1v1h-1zM104 829h1v1h-1zM130 829h1v1h-1zM144 829h1v1h-1zM151 829h3v1h-3zM156 829h1v1h-1zM178 829h1v1h-1zM181 829h4v1h-4zM268 829h1v1h-1zM280 829h1v1h-1zM290 829h2v1h-2zM307 829h4v1h-4zM319 829h5v1h-5zM399 829h2v1h-2zM415 829h2v1h-2zM422 829h1v1h-1zM463 829h1v1h-1zM683 829h1v1h-1zM703 829h1v1h-1zM708 829h1v1h-1zM892 829h1v1h-1zM903 829h1v1h-1zM910 829h1v1h-1zM993 829h1v1h-1zM1001 829h3v1h-3zM1019 829h1v1h-1zM1109 829h1v1h-1zM1432 829h1v1h-1zM105 830h1v1h-1zM129 830h1v1h-1zM145 830h2v1h-2zM149 830h2v1h-2zM157 830h1v1h-1zM177 830h1v1h-1zM185 830h3v1h-3zM266 830h2v1h-2zM281 830h1v1h-1zM287 830h3v1h-3zM292 830h1v1h-1zM306 830h1v1h-1zM401 830h1v1h-1zM414 830h1v1h-1zM423 830h2v1h-2zM434 830h5v1h-5zM462 830h1v1h-1zM683 830h2v1h-2zM702 830h1v1h-1zM709 830h1v1h-1zM867 830h2v1h-2zM891 830h1v1h-1zM903 830h1v1h-1zM910 830h1v1h-1zM994 830h1v1h-1zM997 830h4v1h-4zM1004 830h1v1h-1zM1018 830h1v1h-1zM1020 830h2v1h-2zM1108 830h1v1h-1zM1433 830h1v1h-1zM105 831h1v1h-1zM129 831h1v1h-1zM147 831h2v1h-2zM158 831h1v1h-1zM177 831h1v1h-1zM188 831h1v1h-1zM264 831h2v1h-2zM282 831h1v1h-1zM285 831h2v1h-2zM293 831h1v1h-1zM305 831h1v1h-1zM402 831h1v1h-1zM413 831h1v1h-1zM425 831h1v1h-1zM431 831h3v1h-3zM439 831h6v1h-6zM461 831h1v1h-1zM685 831h4v1h-4zM701 831h1v1h-1zM709 831h1v1h-1zM866 831h1v1h-1zM869 831h4v1h-4zM889 831h2v1h-2zM904 831h1v1h-1zM909 831h1v1h-1zM995 831h2v1h-2zM1005 831h1v1h-1zM1017 831h1v1h-1zM1022 831h2v1h-2zM1108 831h1v1h-1zM1433 831h1v1h-1zM105 832h1v1h-1zM128 832h1v1h-1zM159 832h1v1h-1zM176 832h1v1h-1zM188 832h1v1h-1zM250 832h3v1h-3zM262 832h2v1h-2zM283 832h2v1h-2zM294 832h1v1h-1zM303 832h2v1h-2zM403 832h4v1h-4zM412 832h1v1h-1zM426 832h1v1h-1zM429 832h2v1h-2zM445 832h4v1h-4zM460 832h1v1h-1zM689 832h6v1h-6zM700 832h1v1h-1zM709 832h1v1h-1zM865 832h1v1h-1zM873 832h4v1h-4zM887 832h2v1h-2zM905 832h1v1h-1zM909 832h1v1h-1zM1005 832h1v1h-1zM1017 832h1v1h-1zM1024 832h2v1h-2zM1106 832h2v1h-2zM1434 832h1v1h-1zM105 833h1v1h-1zM127 833h1v1h-1zM159 833h1v1h-1zM175 833h1v1h-1zM189 833h1v1h-1zM247 833h3v1h-3zM253 833h4v1h-4zM260 833h2v1h-2zM295 833h2v1h-2zM302 833h1v1h-1zM407 833h5v1h-5zM427 833h2v1h-2zM449 833h11v1h-11zM695 833h5v1h-5zM710 833h1v1h-1zM723 833h1v1h-1zM755 833h2v1h-2zM864 833h1v1h-1zM877 833h2v1h-2zM886 833h1v1h-1zM906 833h1v1h-1zM908 833h1v1h-1zM1006 833h1v1h-1zM1016 833h1v1h-1zM1026 833h3v1h-3zM1103 833h3v1h-3zM1435 833h1v1h-1zM106 834h1v1h-1zM127 834h1v1h-1zM160 834h1v1h-1zM174 834h1v1h-1zM190 834h1v1h-1zM231 834h8v1h-8zM245 834h2v1h-2zM257 834h3v1h-3zM297 834h1v1h-1zM301 834h1v1h-1zM710 834h1v1h-1zM722 834h1v1h-1zM724 834h1v1h-1zM753 834h2v1h-2zM757 834h2v1h-2zM863 834h1v1h-1zM879 834h3v1h-3zM884 834h2v1h-2zM906 834h1v1h-1zM908 834h1v1h-1zM1007 834h1v1h-1zM1015 834h1v1h-1zM1029 834h2v1h-2zM1101 834h2v1h-2zM106 835h1v1h-1zM114 835h2v1h-2zM126 835h1v1h-1zM161 835h1v1h-1zM173 835h1v1h-1zM190 835h1v1h-1zM227 835h4v1h-4zM239 835h6v1h-6zM298 835h1v1h-1zM300 835h1v1h-1zM710 835h1v1h-1zM722 835h1v1h-1zM725 835h1v1h-1zM751 835h2v1h-2zM759 835h3v1h-3zM767 835h6v1h-6zM851 835h2v1h-2zM862 835h1v1h-1zM882 835h2v1h-2zM907 835h1v1h-1zM1008 835h1v1h-1zM1014 835h1v1h-1zM1031 835h3v1h-3zM1099 835h2v1h-2zM106 836h1v1h-1zM111 836h3v1h-3zM116 836h2v1h-2zM125 836h1v1h-1zM162 836h1v1h-1zM173 836h1v1h-1zM191 836h1v1h-1zM226 836h1v1h-1zM299 836h1v1h-1zM711 836h1v1h-1zM721 836h1v1h-1zM726 836h1v1h-1zM750 836h1v1h-1zM762 836h5v1h-5zM773 836h2v1h-2zM850 836h1v1h-1zM853 836h2v1h-2zM861 836h1v1h-1zM1009 836h1v1h-1zM1013 836h1v1h-1zM1034 836h2v1h-2zM1099 836h1v1h-1zM107 837h1v1h-1zM109 837h2v1h-2zM118 837h1v1h-1zM125 837h1v1h-1zM163 837h4v1h-4zM172 837h1v1h-1zM192 837h1v1h-1zM203 837h1v1h-1zM226 837h1v1h-1zM711 837h1v1h-1zM721 837h1v1h-1zM727 837h1v1h-1zM748 837h2v1h-2zM775 837h3v1h-3zM850 837h1v1h-1zM855 837h3v1h-3zM860 837h1v1h-1zM1009 837h1v1h-1zM1013 837h1v1h-1zM1036 837h1v1h-1zM1098 837h1v1h-1zM107 838h2v1h-2zM119 838h2v1h-2zM124 838h1v1h-1zM167 838h5v1h-5zM192 838h1v1h-1zM201 838h2v1h-2zM204 838h1v1h-1zM225 838h1v1h-1zM712 838h1v1h-1zM720 838h1v1h-1zM727 838h1v1h-1zM746 838h2v1h-2zM778 838h2v1h-2zM849 838h1v1h-1zM858 838h2v1h-2zM1010 838h1v1h-1zM1012 838h1v1h-1zM1036 838h1v1h-1zM1098 838h1v1h-1zM121 839h2v1h-2zM124 839h1v1h-1zM193 839h1v1h-1zM199 839h2v1h-2zM205 839h1v1h-1zM224 839h1v1h-1zM712 839h1v1h-1zM720 839h1v1h-1zM728 839h1v1h-1zM744 839h2v1h-2zM780 839h2v1h-2zM848 839h1v1h-1zM1011 839h1v1h-1zM1037 839h1v1h-1zM1097 839h1v1h-1zM123 840h1v1h-1zM194 840h1v1h-1zM198 840h1v1h-1zM206 840h1v1h-1zM224 840h1v1h-1zM712 840h1v1h-1zM719 840h1v1h-1zM729 840h1v1h-1zM742 840h2v1h-2zM782 840h1v1h-1zM848 840h1v1h-1zM1037 840h1v1h-1zM1097 840h1v1h-1zM194 841h1v1h-1zM196 841h2v1h-2zM207 841h1v1h-1zM223 841h1v1h-1zM713 841h1v1h-1zM719 841h1v1h-1zM730 841h1v1h-1zM740 841h2v1h-2zM783 841h2v1h-2zM847 841h1v1h-1zM1038 841h1v1h-1zM1096 841h1v1h-1zM195 842h1v1h-1zM207 842h1v1h-1zM222 842h1v1h-1zM713 842h1v1h-1zM718 842h1v1h-1zM731 842h9v1h-9zM785 842h2v1h-2zM846 842h1v1h-1zM1038 842h1v1h-1zM1096 842h1v1h-1zM208 843h1v1h-1zM222 843h1v1h-1zM713 843h1v1h-1zM718 843h1v1h-1zM787 843h4v1h-4zM846 843h1v1h-1zM1039 843h1v1h-1zM1095 843h1v1h-1zM209 844h1v1h-1zM221 844h1v1h-1zM714 844h1v1h-1zM717 844h1v1h-1zM791 844h5v1h-5zM845 844h1v1h-1zM1039 844h1v1h-1zM1095 844h1v1h-1zM210 845h1v1h-1zM220 845h1v1h-1zM714 845h1v1h-1zM717 845h1v1h-1zM796 845h1v1h-1zM844 845h1v1h-1zM1040 845h1v1h-1zM1095 845h1v1h-1zM211 846h4v1h-4zM220 846h1v1h-1zM714 846h1v1h-1zM716 846h1v1h-1zM796 846h1v1h-1zM844 846h1v1h-1zM1040 846h1v1h-1zM1094 846h1v1h-1zM215 847h5v1h-5zM715 847h2v1h-2zM797 847h1v1h-1zM841 847h3v1h-3zM1041 847h1v1h-1zM1094 847h1v1h-1zM715 848h1v1h-1zM798 848h1v1h-1zM837 848h4v1h-4zM1041 848h1v1h-1zM1093 848h1v1h-1zM799 849h1v1h-1zM835 849h2v1h-2zM1042 849h1v1h-1zM1093 849h1v1h-1zM799 850h1v1h-1zM811 850h1v1h-1zM833 850h2v1h-2zM1042 850h1v1h-1zM1092 850h1v1h-1zM800 851h1v1h-1zM809 851h2v1h-2zM812 851h1v1h-1zM832 851h1v1h-1zM1043 851h1v1h-1zM1092 851h1v1h-1zM801 852h1v1h-1zM807 852h2v1h-2zM812 852h1v1h-1zM831 852h1v1h-1zM1044 852h1v1h-1zM1091 852h1v1h-1zM802 853h1v1h-1zM806 853h1v1h-1zM813 853h1v1h-1zM829 853h2v1h-2zM1045 853h1v1h-1zM1091 853h1v1h-1zM802 854h1v1h-1zM804 854h2v1h-2zM813 854h1v1h-1zM828 854h1v1h-1zM1046 854h1v1h-1zM1091 854h1v1h-1zM803 855h1v1h-1zM814 855h1v1h-1zM827 855h1v1h-1zM1047 855h1v1h-1zM1090 855h1v1h-1zM815 856h1v1h-1zM826 856h1v1h-1zM1048 856h1v1h-1zM1090 856h1v1h-1zM815 857h1v1h-1zM825 857h1v1h-1zM1049 857h1v1h-1zM1089 857h1v1h-1zM816 858h1v1h-1zM824 858h1v1h-1zM1050 858h1v1h-1zM1089 858h1v1h-1zM817 859h1v1h-1zM823 859h1v1h-1zM1051 859h1v1h-1zM1089 859h1v1h-1zM817 860h1v1h-1zM822 860h1v1h-1zM1052 860h1v1h-1zM1088 860h1v1h-1zM818 861h1v1h-1zM821 861h1v1h-1zM1052 861h1v1h-1zM1088 861h1v1h-1zM818 862h1v1h-1zM820 862h1v1h-1zM1053 862h1v1h-1zM1088 862h1v1h-1zM819 863h1v1h-1zM1054 863h1v1h-1zM1087 863h1v1h-1zM1054 864h1v1h-1zM1087 864h1v1h-1zM1055 865h1v1h-1zM1086 865h1v1h-1zM1056 866h1v1h-1zM1086 866h1v1h-1zM1056 867h1v1h-1zM1086 867h1v1h-1zM1057 868h1v1h-1zM1085 868h1v1h-1zM1058 869h1v1h-1zM1085 869h1v1h-1zM1058 870h1v1h-1zM1085 870h1v1h-1zM1059 871h2v1h-2zM1073 871h4v1h-4zM1084 871h1v1h-1zM1061 872h4v1h-4zM1069 872h4v1h-4zM1077 872h2v1h-2zM1084 872h1v1h-1zM1065 873h4v1h-4zM1079 873h3v1h-3zM1083 873h1v1h-1zM1082 874h2v1h-2z" fill="#1e90ff"/>
</g>
<text transform="translate(0,761) scale(0.93,1)" font-family="'Liberation Sans', Arial, sans-serif" font-size="9.95px" fill="#000" >RSI(14) 51.6365</text>
<line x1="1203" y1="798.3" x2="1433" y2="821.5" stroke="#00ff00" stroke-width="3.4" shape-rendering="crispEdges"/>
<polygon points="1443,822.5 1433,817 1432.2,826.3" fill="#00ff00" shape-rendering="crispEdges"/>
<rect x="0" y="38" width="219" height="68" fill="#fff"/>
<rect x="0" y="65" width="107" height="40" fill="#a00000"/>
<rect x="0" y="66" width="106" height="38" fill="url(#gb)"/>
<rect x="0" y="41" width="50" height="25" fill="#b00000"/>
<rect x="0" y="42" width="49" height="23" fill="url(#gh)"/>
<rect x="2" y="64" width="44" height="1" fill="#8a0000"/>
<rect x="2" y="65" width="44" height="1" fill="#f06060"/>
<text x="10.5" y="57.2" font-family="'Liberation Sans', Arial, sans-serif" font-size="11.5px" fill="#fff" textLength="25.5" lengthAdjust="spacingAndGlyphs">SELL</text>
<text x="13.5" y="96" font-family="'Liberation Sans', Arial, sans-serif" font-size="12px" font-weight="bold" fill="#fff" textLength="34.5" lengthAdjust="spacingAndGlyphs">29900</text>
<rect x="53" y="92" width="3" height="4" fill="#fff"/>
<text x="60" y="96" font-family="'Liberation Sans', Arial, sans-serif" font-size="33px" fill="#fff" textLength="16" lengthAdjust="spacingAndGlyphs">5</text>
<rect x="109" y="65" width="108" height="40" fill="#a00000"/>
<rect x="110" y="66" width="106" height="38" fill="url(#gb)"/>
<rect x="165" y="41" width="52" height="25" fill="#b00000"/>
<rect x="166" y="42" width="50" height="23" fill="url(#gh)"/>
<rect x="169" y="64" width="44" height="1" fill="#8a0000"/>
<rect x="169" y="65" width="44" height="1" fill="#f06060"/>
<text x="178.8" y="57.2" font-family="'Liberation Sans', Arial, sans-serif" font-size="11.5px" fill="#fff" textLength="23" lengthAdjust="spacingAndGlyphs">BUY</text>
<text x="123.5" y="96" font-family="'Liberation Sans', Arial, sans-serif" font-size="12px" font-weight="bold" fill="#fff" textLength="35" lengthAdjust="spacingAndGlyphs">29910</text>
<rect x="164" y="92" width="3" height="4" fill="#fff"/>
<text x="171" y="96" font-family="'Liberation Sans', Arial, sans-serif" font-size="33px" fill="#fff" textLength="16" lengthAdjust="spacingAndGlyphs">5</text>
<rect x="52.5" y="41.5" width="110" height="21" fill="#fff" stroke="#a8a8b0"/>
<rect x="53.5" y="42.5" width="19" height="19" fill="url(#gs)" stroke="#c8c8cc"/>
<rect x="73" y="42" width="1" height="20" fill="#a8a8b0"/>
<rect x="141" y="42" width="1" height="20" fill="#a8a8b0"/>
<rect x="142.5" y="42.5" width="19" height="19" fill="url(#gs)" stroke="#c8c8cc"/>
<polygon points="59.5,50 65,50 62.2,53" fill="#4060b0"/>
<polygon points="148.8,52.5 154.3,52.5 151.5,49.5" fill="#4060b0"/>
<text x="137.5" y="56" font-family="'Liberation Sans', Arial, sans-serif" font-size="12px" fill="#000" text-anchor="end">1.00</text>
</svg>
</body></html>
